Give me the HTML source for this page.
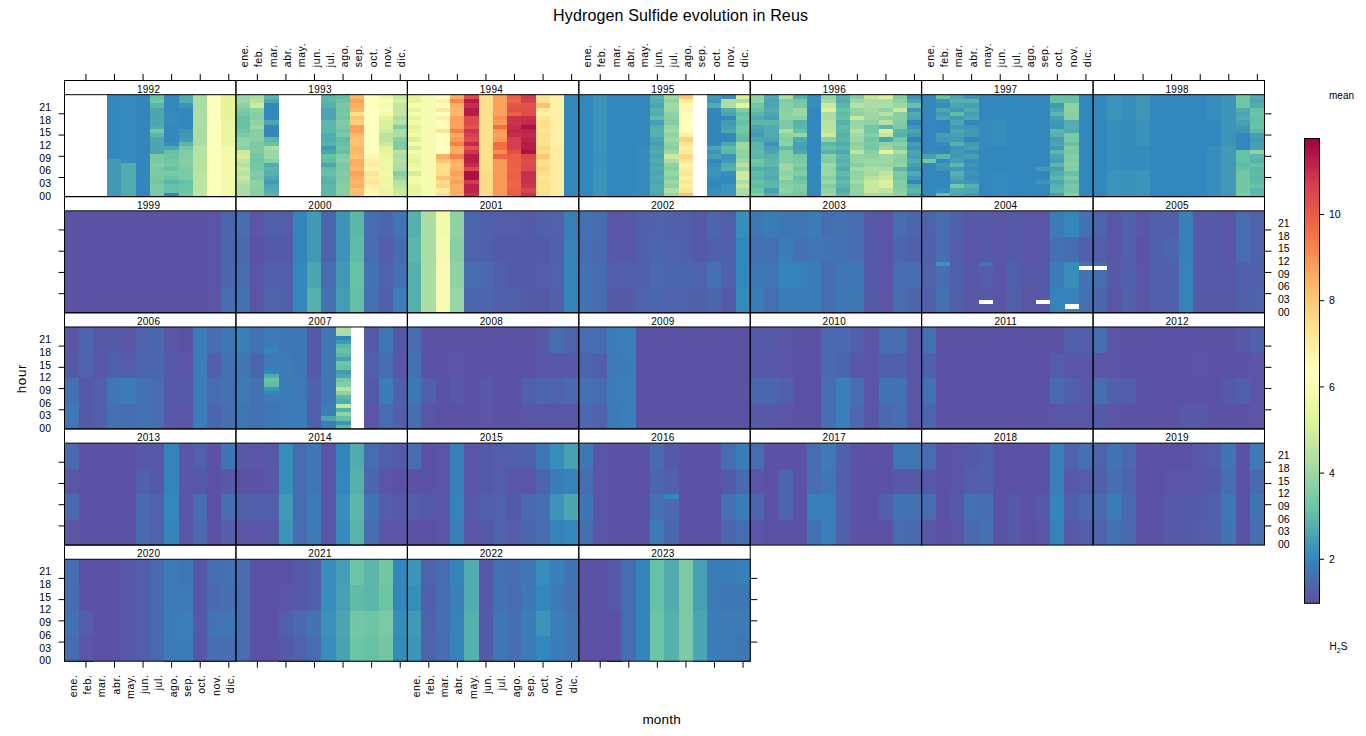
<!DOCTYPE html>
<html><head><meta charset="utf-8"><title>Hydrogen Sulfide evolution in Reus</title>
<style>html,body{margin:0;padding:0;background:#fff;width:1366px;height:736px;overflow:hidden}
svg text{font-family:"Liberation Sans",sans-serif}</style></head>
<body><svg font-family="Liberation Sans, sans-serif" width="1366" height="736" viewBox="0 0 1366 736" style="display:block">
<rect x="0" y="0" width="1366" height="736" fill="#ffffff"/>
<defs><linearGradient id="cb" x1="0" y1="1" x2="0" y2="0"><stop offset="0.00" stop-color="#5E4FA2"/><stop offset="0.10" stop-color="#3288BD"/><stop offset="0.20" stop-color="#66C2A5"/><stop offset="0.30" stop-color="#ABDDA4"/><stop offset="0.40" stop-color="#E6F598"/><stop offset="0.50" stop-color="#FFFFBF"/><stop offset="0.60" stop-color="#FEE08B"/><stop offset="0.70" stop-color="#FDAE61"/><stop offset="0.80" stop-color="#F46D43"/><stop offset="0.90" stop-color="#D53E4F"/><stop offset="1.00" stop-color="#9E0142"/></linearGradient></defs>
<g shape-rendering="crispEdges">
<rect x="107.1" y="158.2" width="14.9" height="38.7" fill="#4299b6"/>
<rect x="107.1" y="94.4" width="14.9" height="64.2" fill="#3288bd"/>
<rect x="121.3" y="162.4" width="14.9" height="34.5" fill="#51abaf"/>
<rect x="121.3" y="94.4" width="14.9" height="68.5" fill="#358bbc"/>
<rect x="135.6" y="94.4" width="14.9" height="102.4" fill="#3485bc"/>
<rect x="149.9" y="183.6" width="14.9" height="13.2" fill="#7bcaa5"/>
<rect x="149.9" y="179.4" width="14.9" height="4.7" fill="#74c7a5"/>
<rect x="149.9" y="166.7" width="14.9" height="13.2" fill="#7bcaa5"/>
<rect x="149.9" y="162.4" width="14.9" height="4.7" fill="#82cda5"/>
<rect x="149.9" y="153.9" width="14.9" height="9.0" fill="#7bcaa5"/>
<rect x="149.9" y="136.9" width="14.9" height="17.5" fill="#4ca5b1"/>
<rect x="149.9" y="132.7" width="14.9" height="4.7" fill="#5cb6aa"/>
<rect x="149.9" y="128.4" width="14.9" height="4.7" fill="#74c7a5"/>
<rect x="149.9" y="124.2" width="14.9" height="4.7" fill="#51abaf"/>
<rect x="149.9" y="107.2" width="14.9" height="17.5" fill="#4ca5b1"/>
<rect x="149.9" y="102.9" width="14.9" height="4.7" fill="#5cb6aa"/>
<rect x="149.9" y="98.7" width="14.9" height="4.7" fill="#74c7a5"/>
<rect x="149.9" y="94.4" width="14.9" height="4.7" fill="#66c2a5"/>
<rect x="164.2" y="192.1" width="14.9" height="4.7" fill="#3288bd"/>
<rect x="164.2" y="183.6" width="14.9" height="9.0" fill="#66c2a5"/>
<rect x="164.2" y="179.4" width="14.9" height="4.7" fill="#5cb6aa"/>
<rect x="164.2" y="175.2" width="14.9" height="4.7" fill="#6dc5a5"/>
<rect x="164.2" y="170.9" width="14.9" height="4.7" fill="#7bcaa5"/>
<rect x="164.2" y="166.7" width="14.9" height="4.7" fill="#66c2a5"/>
<rect x="164.2" y="158.2" width="14.9" height="9.0" fill="#74c7a5"/>
<rect x="164.2" y="153.9" width="14.9" height="4.7" fill="#6dc5a5"/>
<rect x="164.2" y="149.7" width="14.9" height="4.7" fill="#66c2a5"/>
<rect x="164.2" y="145.4" width="14.9" height="4.7" fill="#4ca5b1"/>
<rect x="164.2" y="141.2" width="14.9" height="4.7" fill="#378ebb"/>
<rect x="164.2" y="124.2" width="14.9" height="17.5" fill="#3288bd"/>
<rect x="164.2" y="111.4" width="14.9" height="13.2" fill="#358bbc"/>
<rect x="164.2" y="94.4" width="14.9" height="17.5" fill="#3288bd"/>
<rect x="178.5" y="192.1" width="14.9" height="4.7" fill="#74c7a5"/>
<rect x="178.5" y="183.6" width="14.9" height="9.0" fill="#6dc5a5"/>
<rect x="178.5" y="179.4" width="14.9" height="4.7" fill="#66c2a5"/>
<rect x="178.5" y="166.7" width="14.9" height="13.2" fill="#7bcaa5"/>
<rect x="178.5" y="162.4" width="14.9" height="4.7" fill="#82cda5"/>
<rect x="178.5" y="158.2" width="14.9" height="4.7" fill="#88d0a4"/>
<rect x="178.5" y="149.7" width="14.9" height="9.0" fill="#82cda5"/>
<rect x="178.5" y="145.4" width="14.9" height="4.7" fill="#74c7a5"/>
<rect x="178.5" y="141.2" width="14.9" height="4.7" fill="#5cb6aa"/>
<rect x="178.5" y="132.7" width="14.9" height="9.0" fill="#4299b6"/>
<rect x="178.5" y="128.4" width="14.9" height="4.7" fill="#3c94b8"/>
<rect x="178.5" y="107.2" width="14.9" height="21.7" fill="#3288bd"/>
<rect x="178.5" y="102.9" width="14.9" height="4.7" fill="#3c94b8"/>
<rect x="178.5" y="94.4" width="14.9" height="9.0" fill="#51abaf"/>
<rect x="192.8" y="170.9" width="14.9" height="26.0" fill="#bde4a0"/>
<rect x="192.8" y="145.4" width="14.9" height="26.0" fill="#b7e2a2"/>
<rect x="192.8" y="94.4" width="14.9" height="51.5" fill="#abdda4"/>
<rect x="207.1" y="94.4" width="14.9" height="102.4" fill="#fcfebb"/>
<rect x="221.3" y="145.4" width="14.9" height="51.5" fill="#f2faac"/>
<rect x="221.3" y="119.9" width="14.9" height="26.0" fill="#ebf7a0"/>
<rect x="221.3" y="94.4" width="14.9" height="26.0" fill="#e6f598"/>
<rect x="235.6" y="183.6" width="14.9" height="13.2" fill="#abdda4"/>
<rect x="235.6" y="179.4" width="14.9" height="4.7" fill="#b7e2a2"/>
<rect x="235.6" y="175.2" width="14.9" height="4.7" fill="#c8e99e"/>
<rect x="235.6" y="170.9" width="14.9" height="4.7" fill="#b7e2a2"/>
<rect x="235.6" y="166.7" width="14.9" height="4.7" fill="#c3e79f"/>
<rect x="235.6" y="162.4" width="14.9" height="4.7" fill="#b7e2a2"/>
<rect x="235.6" y="158.2" width="14.9" height="4.7" fill="#c3e79f"/>
<rect x="235.6" y="153.9" width="14.9" height="4.7" fill="#d4ee9c"/>
<rect x="235.6" y="149.7" width="14.9" height="4.7" fill="#ceeb9d"/>
<rect x="235.6" y="145.4" width="14.9" height="4.7" fill="#88d0a4"/>
<rect x="235.6" y="141.2" width="14.9" height="4.7" fill="#96d5a4"/>
<rect x="235.6" y="136.9" width="14.9" height="4.7" fill="#8fd2a4"/>
<rect x="235.6" y="132.7" width="14.9" height="4.7" fill="#7bcaa5"/>
<rect x="235.6" y="128.4" width="14.9" height="4.7" fill="#74c7a5"/>
<rect x="235.6" y="115.7" width="14.9" height="13.2" fill="#66c2a5"/>
<rect x="235.6" y="111.4" width="14.9" height="4.7" fill="#74c7a5"/>
<rect x="235.6" y="107.2" width="14.9" height="4.7" fill="#7bcaa5"/>
<rect x="235.6" y="102.9" width="14.9" height="4.7" fill="#8fd2a4"/>
<rect x="235.6" y="94.4" width="14.9" height="9.0" fill="#9dd8a4"/>
<rect x="249.9" y="187.9" width="14.9" height="9.0" fill="#88d0a4"/>
<rect x="249.9" y="179.4" width="14.9" height="9.0" fill="#8fd2a4"/>
<rect x="249.9" y="175.2" width="14.9" height="4.7" fill="#7bcaa5"/>
<rect x="249.9" y="170.9" width="14.9" height="4.7" fill="#82cda5"/>
<rect x="249.9" y="162.4" width="14.9" height="9.0" fill="#74c7a5"/>
<rect x="249.9" y="158.2" width="14.9" height="4.7" fill="#6dc5a5"/>
<rect x="249.9" y="153.9" width="14.9" height="4.7" fill="#74c7a5"/>
<rect x="249.9" y="141.2" width="14.9" height="13.2" fill="#7bcaa5"/>
<rect x="249.9" y="128.4" width="14.9" height="13.2" fill="#88d0a4"/>
<rect x="249.9" y="124.2" width="14.9" height="4.7" fill="#9dd8a4"/>
<rect x="249.9" y="119.9" width="14.9" height="4.7" fill="#8fd2a4"/>
<rect x="249.9" y="111.4" width="14.9" height="9.0" fill="#88d0a4"/>
<rect x="249.9" y="107.2" width="14.9" height="4.7" fill="#8fd2a4"/>
<rect x="249.9" y="102.9" width="14.9" height="4.7" fill="#ceeb9d"/>
<rect x="249.9" y="98.7" width="14.9" height="4.7" fill="#b7e2a2"/>
<rect x="249.9" y="94.4" width="14.9" height="4.7" fill="#abdda4"/>
<rect x="264.2" y="192.1" width="14.9" height="4.7" fill="#5cb6aa"/>
<rect x="264.2" y="187.9" width="14.9" height="4.7" fill="#51abaf"/>
<rect x="264.2" y="183.6" width="14.9" height="4.7" fill="#4ca5b1"/>
<rect x="264.2" y="179.4" width="14.9" height="4.7" fill="#4299b6"/>
<rect x="264.2" y="175.2" width="14.9" height="4.7" fill="#4ca5b1"/>
<rect x="264.2" y="170.9" width="14.9" height="4.7" fill="#56b1ac"/>
<rect x="264.2" y="166.7" width="14.9" height="4.7" fill="#5cb6aa"/>
<rect x="264.2" y="162.4" width="14.9" height="4.7" fill="#51abaf"/>
<rect x="264.2" y="158.2" width="14.9" height="4.7" fill="#88d0a4"/>
<rect x="264.2" y="149.7" width="14.9" height="9.0" fill="#9dd8a4"/>
<rect x="264.2" y="145.4" width="14.9" height="4.7" fill="#abdda4"/>
<rect x="264.2" y="141.2" width="14.9" height="4.7" fill="#66c2a5"/>
<rect x="264.2" y="136.9" width="14.9" height="4.7" fill="#5cb6aa"/>
<rect x="264.2" y="132.7" width="14.9" height="4.7" fill="#3288bd"/>
<rect x="264.2" y="128.4" width="14.9" height="4.7" fill="#3485bc"/>
<rect x="264.2" y="124.2" width="14.9" height="4.7" fill="#3288bd"/>
<rect x="264.2" y="119.9" width="14.9" height="4.7" fill="#4ca5b1"/>
<rect x="264.2" y="102.9" width="14.9" height="17.5" fill="#3288bd"/>
<rect x="264.2" y="98.7" width="14.9" height="4.7" fill="#4ca5b1"/>
<rect x="264.2" y="94.4" width="14.9" height="4.7" fill="#5cb6aa"/>
<rect x="321.3" y="183.6" width="14.9" height="13.2" fill="#5cb6aa"/>
<rect x="321.3" y="179.4" width="14.9" height="4.7" fill="#56b1ac"/>
<rect x="321.3" y="175.2" width="14.9" height="4.7" fill="#5cb6aa"/>
<rect x="321.3" y="170.9" width="14.9" height="4.7" fill="#66c2a5"/>
<rect x="321.3" y="166.7" width="14.9" height="4.7" fill="#61bca7"/>
<rect x="321.3" y="162.4" width="14.9" height="4.7" fill="#4ca5b1"/>
<rect x="321.3" y="158.2" width="14.9" height="4.7" fill="#61bca7"/>
<rect x="321.3" y="153.9" width="14.9" height="4.7" fill="#66c2a5"/>
<rect x="321.3" y="149.7" width="14.9" height="4.7" fill="#4ca5b1"/>
<rect x="321.3" y="145.4" width="14.9" height="4.7" fill="#4299b6"/>
<rect x="321.3" y="141.2" width="14.9" height="4.7" fill="#56b1ac"/>
<rect x="321.3" y="132.7" width="14.9" height="9.0" fill="#51abaf"/>
<rect x="321.3" y="119.9" width="14.9" height="13.2" fill="#5cb6aa"/>
<rect x="321.3" y="107.2" width="14.9" height="13.2" fill="#4ca5b1"/>
<rect x="321.3" y="102.9" width="14.9" height="4.7" fill="#56b1ac"/>
<rect x="321.3" y="94.4" width="14.9" height="9.0" fill="#5cb6aa"/>
<rect x="335.6" y="192.1" width="14.9" height="4.7" fill="#82cda5"/>
<rect x="335.6" y="183.6" width="14.9" height="9.0" fill="#88d0a4"/>
<rect x="335.6" y="179.4" width="14.9" height="4.7" fill="#82cda5"/>
<rect x="335.6" y="175.2" width="14.9" height="4.7" fill="#7bcaa5"/>
<rect x="335.6" y="170.9" width="14.9" height="4.7" fill="#82cda5"/>
<rect x="335.6" y="162.4" width="14.9" height="9.0" fill="#7bcaa5"/>
<rect x="335.6" y="158.2" width="14.9" height="4.7" fill="#88d0a4"/>
<rect x="335.6" y="153.9" width="14.9" height="4.7" fill="#82cda5"/>
<rect x="335.6" y="149.7" width="14.9" height="4.7" fill="#66c2a5"/>
<rect x="335.6" y="145.4" width="14.9" height="4.7" fill="#6dc5a5"/>
<rect x="335.6" y="141.2" width="14.9" height="4.7" fill="#66c2a5"/>
<rect x="335.6" y="136.9" width="14.9" height="4.7" fill="#61bca7"/>
<rect x="335.6" y="132.7" width="14.9" height="4.7" fill="#7bcaa5"/>
<rect x="335.6" y="128.4" width="14.9" height="4.7" fill="#6dc5a5"/>
<rect x="335.6" y="124.2" width="14.9" height="4.7" fill="#7bcaa5"/>
<rect x="335.6" y="119.9" width="14.9" height="4.7" fill="#82cda5"/>
<rect x="335.6" y="115.7" width="14.9" height="4.7" fill="#74c7a5"/>
<rect x="335.6" y="111.4" width="14.9" height="4.7" fill="#7bcaa5"/>
<rect x="335.6" y="107.2" width="14.9" height="4.7" fill="#74c7a5"/>
<rect x="335.6" y="102.9" width="14.9" height="4.7" fill="#7bcaa5"/>
<rect x="335.6" y="98.7" width="14.9" height="4.7" fill="#6dc5a5"/>
<rect x="335.6" y="94.4" width="14.9" height="4.7" fill="#66c2a5"/>
<rect x="349.9" y="192.1" width="14.9" height="4.7" fill="#fdb869"/>
<rect x="349.9" y="187.9" width="14.9" height="4.7" fill="#fdc272"/>
<rect x="349.9" y="183.6" width="14.9" height="4.7" fill="#fdae61"/>
<rect x="349.9" y="179.4" width="14.9" height="4.7" fill="#fdb869"/>
<rect x="349.9" y="175.2" width="14.9" height="4.7" fill="#fdae61"/>
<rect x="349.9" y="170.9" width="14.9" height="4.7" fill="#fba15b"/>
<rect x="349.9" y="166.7" width="14.9" height="4.7" fill="#fdb869"/>
<rect x="349.9" y="158.2" width="14.9" height="9.0" fill="#fdae61"/>
<rect x="349.9" y="153.9" width="14.9" height="4.7" fill="#fdc272"/>
<rect x="349.9" y="145.4" width="14.9" height="9.0" fill="#fdb869"/>
<rect x="349.9" y="136.9" width="14.9" height="9.0" fill="#fdc272"/>
<rect x="349.9" y="132.7" width="14.9" height="4.7" fill="#fdb869"/>
<rect x="349.9" y="124.2" width="14.9" height="9.0" fill="#fba15b"/>
<rect x="349.9" y="119.9" width="14.9" height="4.7" fill="#fed17e"/>
<rect x="349.9" y="115.7" width="14.9" height="4.7" fill="#fec776"/>
<rect x="349.9" y="111.4" width="14.9" height="4.7" fill="#fee08b"/>
<rect x="349.9" y="107.2" width="14.9" height="4.7" fill="#fdb869"/>
<rect x="349.9" y="102.9" width="14.9" height="4.7" fill="#fdae61"/>
<rect x="349.9" y="98.7" width="14.9" height="4.7" fill="#fba15b"/>
<rect x="349.9" y="94.4" width="14.9" height="4.7" fill="#fdb869"/>
<rect x="364.2" y="192.1" width="14.9" height="4.7" fill="#fff9b5"/>
<rect x="364.2" y="187.9" width="14.9" height="4.7" fill="#fff6af"/>
<rect x="364.2" y="183.6" width="14.9" height="4.7" fill="#fef0a5"/>
<rect x="364.2" y="179.4" width="14.9" height="4.7" fill="#fee695"/>
<rect x="364.2" y="175.2" width="14.9" height="4.7" fill="#feeca0"/>
<rect x="364.2" y="170.9" width="14.9" height="4.7" fill="#fee695"/>
<rect x="364.2" y="166.7" width="14.9" height="4.7" fill="#fff6af"/>
<rect x="364.2" y="162.4" width="14.9" height="4.7" fill="#feeca0"/>
<rect x="364.2" y="158.2" width="14.9" height="4.7" fill="#fef0a5"/>
<rect x="364.2" y="153.9" width="14.9" height="4.7" fill="#fff6af"/>
<rect x="364.2" y="94.4" width="14.9" height="60.0" fill="#ffffbf"/>
<rect x="378.5" y="187.9" width="14.9" height="9.0" fill="#ebf7a0"/>
<rect x="378.5" y="175.2" width="14.9" height="13.2" fill="#eef8a4"/>
<rect x="378.5" y="170.9" width="14.9" height="4.7" fill="#f2faac"/>
<rect x="378.5" y="166.7" width="14.9" height="4.7" fill="#eef8a4"/>
<rect x="378.5" y="162.4" width="14.9" height="4.7" fill="#f0f9a8"/>
<rect x="378.5" y="158.2" width="14.9" height="4.7" fill="#eef8a4"/>
<rect x="378.5" y="153.9" width="14.9" height="4.7" fill="#ebf7a0"/>
<rect x="378.5" y="145.4" width="14.9" height="9.0" fill="#e6f598"/>
<rect x="378.5" y="141.2" width="14.9" height="4.7" fill="#c8e99e"/>
<rect x="378.5" y="136.9" width="14.9" height="4.7" fill="#bde4a0"/>
<rect x="378.5" y="132.7" width="14.9" height="4.7" fill="#b7e2a2"/>
<rect x="378.5" y="128.4" width="14.9" height="4.7" fill="#ceeb9d"/>
<rect x="378.5" y="119.9" width="14.9" height="9.0" fill="#daf09a"/>
<rect x="378.5" y="115.7" width="14.9" height="4.7" fill="#e6f598"/>
<rect x="378.5" y="111.4" width="14.9" height="4.7" fill="#f5fbaf"/>
<rect x="378.5" y="107.2" width="14.9" height="4.7" fill="#fafdb7"/>
<rect x="378.5" y="102.9" width="14.9" height="4.7" fill="#f5fbaf"/>
<rect x="378.5" y="98.7" width="14.9" height="4.7" fill="#fafdb7"/>
<rect x="378.5" y="94.4" width="14.9" height="4.7" fill="#f0f9a8"/>
<rect x="392.8" y="187.9" width="14.9" height="9.0" fill="#c8e99e"/>
<rect x="392.8" y="183.6" width="14.9" height="4.7" fill="#bde4a0"/>
<rect x="392.8" y="179.4" width="14.9" height="4.7" fill="#b7e2a2"/>
<rect x="392.8" y="175.2" width="14.9" height="4.7" fill="#9dd8a4"/>
<rect x="392.8" y="170.9" width="14.9" height="4.7" fill="#88d0a4"/>
<rect x="392.8" y="162.4" width="14.9" height="9.0" fill="#abdda4"/>
<rect x="392.8" y="158.2" width="14.9" height="4.7" fill="#b7e2a2"/>
<rect x="392.8" y="153.9" width="14.9" height="4.7" fill="#abdda4"/>
<rect x="392.8" y="149.7" width="14.9" height="4.7" fill="#b7e2a2"/>
<rect x="392.8" y="145.4" width="14.9" height="4.7" fill="#82cda5"/>
<rect x="392.8" y="141.2" width="14.9" height="4.7" fill="#7bcaa5"/>
<rect x="392.8" y="136.9" width="14.9" height="4.7" fill="#88d0a4"/>
<rect x="392.8" y="128.4" width="14.9" height="9.0" fill="#abdda4"/>
<rect x="392.8" y="124.2" width="14.9" height="4.7" fill="#82cda5"/>
<rect x="392.8" y="119.9" width="14.9" height="4.7" fill="#b7e2a2"/>
<rect x="392.8" y="115.7" width="14.9" height="4.7" fill="#abdda4"/>
<rect x="392.8" y="102.9" width="14.9" height="13.2" fill="#c3e79f"/>
<rect x="392.8" y="98.7" width="14.9" height="4.7" fill="#daf09a"/>
<rect x="392.8" y="94.4" width="14.9" height="4.7" fill="#c8e99e"/>
<rect x="407.1" y="192.1" width="14.9" height="4.7" fill="#ebf7a0"/>
<rect x="407.1" y="187.9" width="14.9" height="4.7" fill="#e6f598"/>
<rect x="407.1" y="183.6" width="14.9" height="4.7" fill="#ebf7a0"/>
<rect x="407.1" y="175.2" width="14.9" height="9.0" fill="#f2faac"/>
<rect x="407.1" y="170.9" width="14.9" height="4.7" fill="#d4ee9c"/>
<rect x="407.1" y="166.7" width="14.9" height="4.7" fill="#f2faac"/>
<rect x="407.1" y="162.4" width="14.9" height="4.7" fill="#ebf7a0"/>
<rect x="407.1" y="158.2" width="14.9" height="4.7" fill="#e6f598"/>
<rect x="407.1" y="153.9" width="14.9" height="4.7" fill="#ebf7a0"/>
<rect x="407.1" y="149.7" width="14.9" height="4.7" fill="#f2faac"/>
<rect x="407.1" y="145.4" width="14.9" height="4.7" fill="#d4ee9c"/>
<rect x="407.1" y="141.2" width="14.9" height="4.7" fill="#f5fbaf"/>
<rect x="407.1" y="136.9" width="14.9" height="4.7" fill="#daf09a"/>
<rect x="407.1" y="132.7" width="14.9" height="4.7" fill="#f2faac"/>
<rect x="407.1" y="128.4" width="14.9" height="4.7" fill="#ebf7a0"/>
<rect x="407.1" y="124.2" width="14.9" height="4.7" fill="#e6f598"/>
<rect x="407.1" y="119.9" width="14.9" height="4.7" fill="#f2faac"/>
<rect x="407.1" y="115.7" width="14.9" height="4.7" fill="#e6f598"/>
<rect x="407.1" y="111.4" width="14.9" height="4.7" fill="#f8fcb3"/>
<rect x="407.1" y="107.2" width="14.9" height="4.7" fill="#e6f598"/>
<rect x="407.1" y="102.9" width="14.9" height="4.7" fill="#f8fcb3"/>
<rect x="407.1" y="94.4" width="14.9" height="9.0" fill="#e6f598"/>
<rect x="421.3" y="94.4" width="14.9" height="102.4" fill="#f5fbaf"/>
<rect x="435.6" y="192.1" width="14.9" height="4.7" fill="#fee08b"/>
<rect x="435.6" y="187.9" width="14.9" height="4.7" fill="#feeca0"/>
<rect x="435.6" y="183.6" width="14.9" height="4.7" fill="#fed683"/>
<rect x="435.6" y="179.4" width="14.9" height="4.7" fill="#fee08b"/>
<rect x="435.6" y="175.2" width="14.9" height="4.7" fill="#fdc272"/>
<rect x="435.6" y="162.4" width="14.9" height="13.2" fill="#fee08b"/>
<rect x="435.6" y="158.2" width="14.9" height="4.7" fill="#fec776"/>
<rect x="435.6" y="153.9" width="14.9" height="4.7" fill="#fdae61"/>
<rect x="435.6" y="132.7" width="14.9" height="21.7" fill="#ffffbf"/>
<rect x="435.6" y="128.4" width="14.9" height="4.7" fill="#fee695"/>
<rect x="435.6" y="124.2" width="14.9" height="4.7" fill="#fafdb7"/>
<rect x="435.6" y="119.9" width="14.9" height="4.7" fill="#ffffbf"/>
<rect x="435.6" y="115.7" width="14.9" height="4.7" fill="#fef0a5"/>
<rect x="435.6" y="111.4" width="14.9" height="4.7" fill="#ffffbf"/>
<rect x="435.6" y="107.2" width="14.9" height="4.7" fill="#fee99b"/>
<rect x="435.6" y="102.9" width="14.9" height="4.7" fill="#ffffbf"/>
<rect x="435.6" y="98.7" width="14.9" height="4.7" fill="#fef0a5"/>
<rect x="435.6" y="94.4" width="14.9" height="4.7" fill="#ffffbf"/>
<rect x="449.9" y="183.6" width="14.9" height="13.2" fill="#fdae61"/>
<rect x="449.9" y="179.4" width="14.9" height="4.7" fill="#fba15b"/>
<rect x="449.9" y="175.2" width="14.9" height="4.7" fill="#fdae61"/>
<rect x="449.9" y="170.9" width="14.9" height="4.7" fill="#fba15b"/>
<rect x="449.9" y="166.7" width="14.9" height="4.7" fill="#fdae61"/>
<rect x="449.9" y="162.4" width="14.9" height="4.7" fill="#fdb869"/>
<rect x="449.9" y="158.2" width="14.9" height="4.7" fill="#fdae61"/>
<rect x="449.9" y="153.9" width="14.9" height="4.7" fill="#f7804c"/>
<rect x="449.9" y="145.4" width="14.9" height="9.0" fill="#fdae61"/>
<rect x="449.9" y="141.2" width="14.9" height="4.7" fill="#f7804c"/>
<rect x="449.9" y="136.9" width="14.9" height="4.7" fill="#fa9a58"/>
<rect x="449.9" y="132.7" width="14.9" height="4.7" fill="#fdae61"/>
<rect x="449.9" y="128.4" width="14.9" height="4.7" fill="#f7804c"/>
<rect x="449.9" y="115.7" width="14.9" height="13.2" fill="#fba15b"/>
<rect x="449.9" y="107.2" width="14.9" height="9.0" fill="#fdb869"/>
<rect x="449.9" y="102.9" width="14.9" height="4.7" fill="#fdae61"/>
<rect x="449.9" y="98.7" width="14.9" height="4.7" fill="#f8874f"/>
<rect x="449.9" y="94.4" width="14.9" height="4.7" fill="#fdae61"/>
<rect x="464.2" y="192.1" width="14.9" height="4.7" fill="#c72f4c"/>
<rect x="464.2" y="183.6" width="14.9" height="9.0" fill="#bc2349"/>
<rect x="464.2" y="179.4" width="14.9" height="4.7" fill="#d23b4e"/>
<rect x="464.2" y="170.9" width="14.9" height="9.0" fill="#ac1045"/>
<rect x="464.2" y="166.7" width="14.9" height="4.7" fill="#dd4a4c"/>
<rect x="464.2" y="162.4" width="14.9" height="4.7" fill="#c2294a"/>
<rect x="464.2" y="153.9" width="14.9" height="9.0" fill="#b71c48"/>
<rect x="464.2" y="149.7" width="14.9" height="4.7" fill="#cd354d"/>
<rect x="464.2" y="145.4" width="14.9" height="4.7" fill="#e3534a"/>
<rect x="464.2" y="141.2" width="14.9" height="4.7" fill="#c2294a"/>
<rect x="464.2" y="136.9" width="14.9" height="4.7" fill="#dd4a4c"/>
<rect x="464.2" y="132.7" width="14.9" height="4.7" fill="#d7404e"/>
<rect x="464.2" y="128.4" width="14.9" height="4.7" fill="#cd354d"/>
<rect x="464.2" y="124.2" width="14.9" height="4.7" fill="#e3534a"/>
<rect x="464.2" y="115.7" width="14.9" height="9.0" fill="#dd4a4c"/>
<rect x="464.2" y="107.2" width="14.9" height="9.0" fill="#b71c48"/>
<rect x="464.2" y="102.9" width="14.9" height="4.7" fill="#c72f4c"/>
<rect x="464.2" y="98.7" width="14.9" height="4.7" fill="#b71c48"/>
<rect x="464.2" y="94.4" width="14.9" height="4.7" fill="#dd4a4c"/>
<rect x="478.5" y="170.9" width="14.9" height="26.0" fill="#fedb87"/>
<rect x="478.5" y="94.4" width="14.9" height="77.0" fill="#fee08b"/>
<rect x="492.8" y="158.2" width="14.9" height="38.7" fill="#fa9a58"/>
<rect x="492.8" y="153.9" width="14.9" height="4.7" fill="#ee6445"/>
<rect x="492.8" y="149.7" width="14.9" height="4.7" fill="#f88e52"/>
<rect x="492.8" y="141.2" width="14.9" height="9.0" fill="#f46d43"/>
<rect x="492.8" y="136.9" width="14.9" height="4.7" fill="#fa9a58"/>
<rect x="492.8" y="132.7" width="14.9" height="4.7" fill="#fba15b"/>
<rect x="492.8" y="128.4" width="14.9" height="4.7" fill="#fa9a58"/>
<rect x="492.8" y="124.2" width="14.9" height="4.7" fill="#f46d43"/>
<rect x="492.8" y="119.9" width="14.9" height="4.7" fill="#fa9a58"/>
<rect x="492.8" y="115.7" width="14.9" height="4.7" fill="#f88e52"/>
<rect x="492.8" y="94.4" width="14.9" height="21.7" fill="#fba15b"/>
<rect x="507.1" y="187.9" width="14.9" height="9.0" fill="#eb5f47"/>
<rect x="507.1" y="179.4" width="14.9" height="9.0" fill="#ee6445"/>
<rect x="507.1" y="170.9" width="14.9" height="9.0" fill="#eb5f47"/>
<rect x="507.1" y="166.7" width="14.9" height="4.7" fill="#ee6445"/>
<rect x="507.1" y="153.9" width="14.9" height="13.2" fill="#eb5f47"/>
<rect x="507.1" y="149.7" width="14.9" height="4.7" fill="#e1514a"/>
<rect x="507.1" y="136.9" width="14.9" height="13.2" fill="#d53e4f"/>
<rect x="507.1" y="132.7" width="14.9" height="4.7" fill="#c42c4b"/>
<rect x="507.1" y="128.4" width="14.9" height="4.7" fill="#bf264a"/>
<rect x="507.1" y="124.2" width="14.9" height="4.7" fill="#c42c4b"/>
<rect x="507.1" y="115.7" width="14.9" height="9.0" fill="#ca324c"/>
<rect x="507.1" y="111.4" width="14.9" height="4.7" fill="#eb5f47"/>
<rect x="507.1" y="107.2" width="14.9" height="4.7" fill="#e1514a"/>
<rect x="507.1" y="102.9" width="14.9" height="4.7" fill="#e45649"/>
<rect x="507.1" y="98.7" width="14.9" height="4.7" fill="#ee6445"/>
<rect x="507.1" y="94.4" width="14.9" height="4.7" fill="#eb5f47"/>
<rect x="521.3" y="192.1" width="14.9" height="4.7" fill="#cd354d"/>
<rect x="521.3" y="187.9" width="14.9" height="4.7" fill="#da454d"/>
<rect x="521.3" y="183.6" width="14.9" height="4.7" fill="#cd354d"/>
<rect x="521.3" y="170.9" width="14.9" height="13.2" fill="#c72f4c"/>
<rect x="521.3" y="162.4" width="14.9" height="9.0" fill="#dd4a4c"/>
<rect x="521.3" y="158.2" width="14.9" height="4.7" fill="#e04e4b"/>
<rect x="521.3" y="153.9" width="14.9" height="4.7" fill="#da454d"/>
<rect x="521.3" y="149.7" width="14.9" height="4.7" fill="#ac1045"/>
<rect x="521.3" y="141.2" width="14.9" height="9.0" fill="#b71c48"/>
<rect x="521.3" y="136.9" width="14.9" height="4.7" fill="#bc2349"/>
<rect x="521.3" y="132.7" width="14.9" height="4.7" fill="#c2294a"/>
<rect x="521.3" y="128.4" width="14.9" height="4.7" fill="#bc2349"/>
<rect x="521.3" y="124.2" width="14.9" height="4.7" fill="#ac1045"/>
<rect x="521.3" y="119.9" width="14.9" height="4.7" fill="#c2294a"/>
<rect x="521.3" y="115.7" width="14.9" height="4.7" fill="#c72f4c"/>
<rect x="521.3" y="107.2" width="14.9" height="9.0" fill="#e04e4b"/>
<rect x="521.3" y="102.9" width="14.9" height="4.7" fill="#e3534a"/>
<rect x="521.3" y="98.7" width="14.9" height="4.7" fill="#d7404e"/>
<rect x="521.3" y="94.4" width="14.9" height="4.7" fill="#d23b4e"/>
<rect x="535.6" y="179.4" width="14.9" height="17.5" fill="#fee08b"/>
<rect x="535.6" y="175.2" width="14.9" height="4.7" fill="#fee695"/>
<rect x="535.6" y="170.9" width="14.9" height="4.7" fill="#fee08b"/>
<rect x="535.6" y="166.7" width="14.9" height="4.7" fill="#fed683"/>
<rect x="535.6" y="158.2" width="14.9" height="9.0" fill="#fee08b"/>
<rect x="535.6" y="153.9" width="14.9" height="4.7" fill="#fec776"/>
<rect x="535.6" y="149.7" width="14.9" height="4.7" fill="#fee08b"/>
<rect x="535.6" y="145.4" width="14.9" height="4.7" fill="#fed683"/>
<rect x="535.6" y="132.7" width="14.9" height="13.2" fill="#fee08b"/>
<rect x="535.6" y="128.4" width="14.9" height="4.7" fill="#fee695"/>
<rect x="535.6" y="119.9" width="14.9" height="9.0" fill="#fee08b"/>
<rect x="535.6" y="115.7" width="14.9" height="4.7" fill="#fee695"/>
<rect x="535.6" y="111.4" width="14.9" height="4.7" fill="#fef0a5"/>
<rect x="535.6" y="107.2" width="14.9" height="4.7" fill="#fee695"/>
<rect x="535.6" y="102.9" width="14.9" height="4.7" fill="#fdc272"/>
<rect x="535.6" y="98.7" width="14.9" height="4.7" fill="#fee390"/>
<rect x="535.6" y="94.4" width="14.9" height="4.7" fill="#fee695"/>
<rect x="549.9" y="145.4" width="14.9" height="51.5" fill="#feeca0"/>
<rect x="549.9" y="94.4" width="14.9" height="51.5" fill="#fef0a5"/>
<rect x="564.2" y="94.4" width="14.9" height="102.4" fill="#3288bd"/>
<rect x="578.5" y="94.4" width="14.9" height="102.4" fill="#3288bd"/>
<rect x="592.8" y="170.9" width="14.9" height="26.0" fill="#3c94b8"/>
<rect x="592.8" y="145.4" width="14.9" height="26.0" fill="#3a91b9"/>
<rect x="592.8" y="94.4" width="14.9" height="51.5" fill="#3c94b8"/>
<rect x="607.1" y="94.4" width="14.9" height="102.4" fill="#3288bd"/>
<rect x="621.3" y="94.4" width="14.9" height="102.4" fill="#3288bd"/>
<rect x="635.6" y="145.4" width="14.9" height="51.5" fill="#358bbc"/>
<rect x="635.6" y="94.4" width="14.9" height="51.5" fill="#3288bd"/>
<rect x="649.9" y="192.1" width="14.9" height="4.7" fill="#4ca5b1"/>
<rect x="649.9" y="183.6" width="14.9" height="9.0" fill="#51abaf"/>
<rect x="649.9" y="179.4" width="14.9" height="4.7" fill="#4ca5b1"/>
<rect x="649.9" y="175.2" width="14.9" height="4.7" fill="#51abaf"/>
<rect x="649.9" y="170.9" width="14.9" height="4.7" fill="#4ca5b1"/>
<rect x="649.9" y="166.7" width="14.9" height="4.7" fill="#51abaf"/>
<rect x="649.9" y="162.4" width="14.9" height="4.7" fill="#4ca5b1"/>
<rect x="649.9" y="158.2" width="14.9" height="4.7" fill="#51abaf"/>
<rect x="649.9" y="153.9" width="14.9" height="4.7" fill="#4ca5b1"/>
<rect x="649.9" y="149.7" width="14.9" height="4.7" fill="#51abaf"/>
<rect x="649.9" y="145.4" width="14.9" height="4.7" fill="#4ca5b1"/>
<rect x="649.9" y="141.2" width="14.9" height="4.7" fill="#479fb3"/>
<rect x="649.9" y="136.9" width="14.9" height="4.7" fill="#4ca5b1"/>
<rect x="649.9" y="128.4" width="14.9" height="9.0" fill="#56b1ac"/>
<rect x="649.9" y="124.2" width="14.9" height="4.7" fill="#51abaf"/>
<rect x="649.9" y="119.9" width="14.9" height="4.7" fill="#479fb3"/>
<rect x="649.9" y="115.7" width="14.9" height="4.7" fill="#61bca7"/>
<rect x="649.9" y="111.4" width="14.9" height="4.7" fill="#51abaf"/>
<rect x="649.9" y="107.2" width="14.9" height="4.7" fill="#56b1ac"/>
<rect x="649.9" y="102.9" width="14.9" height="4.7" fill="#4ca5b1"/>
<rect x="649.9" y="98.7" width="14.9" height="4.7" fill="#51abaf"/>
<rect x="649.9" y="94.4" width="14.9" height="4.7" fill="#56b1ac"/>
<rect x="664.2" y="192.1" width="14.9" height="4.7" fill="#9dd8a4"/>
<rect x="664.2" y="187.9" width="14.9" height="4.7" fill="#abdda4"/>
<rect x="664.2" y="183.6" width="14.9" height="4.7" fill="#8fd2a4"/>
<rect x="664.2" y="179.4" width="14.9" height="4.7" fill="#9dd8a4"/>
<rect x="664.2" y="175.2" width="14.9" height="4.7" fill="#88d0a4"/>
<rect x="664.2" y="170.9" width="14.9" height="4.7" fill="#96d5a4"/>
<rect x="664.2" y="166.7" width="14.9" height="4.7" fill="#88d0a4"/>
<rect x="664.2" y="162.4" width="14.9" height="4.7" fill="#8fd2a4"/>
<rect x="664.2" y="158.2" width="14.9" height="4.7" fill="#abdda4"/>
<rect x="664.2" y="153.9" width="14.9" height="4.7" fill="#ceeb9d"/>
<rect x="664.2" y="149.7" width="14.9" height="4.7" fill="#9dd8a4"/>
<rect x="664.2" y="145.4" width="14.9" height="4.7" fill="#88d0a4"/>
<rect x="664.2" y="141.2" width="14.9" height="4.7" fill="#8fd2a4"/>
<rect x="664.2" y="136.9" width="14.9" height="4.7" fill="#9dd8a4"/>
<rect x="664.2" y="132.7" width="14.9" height="4.7" fill="#8fd2a4"/>
<rect x="664.2" y="128.4" width="14.9" height="4.7" fill="#9dd8a4"/>
<rect x="664.2" y="124.2" width="14.9" height="4.7" fill="#96d5a4"/>
<rect x="664.2" y="119.9" width="14.9" height="4.7" fill="#82cda5"/>
<rect x="664.2" y="115.7" width="14.9" height="4.7" fill="#88d0a4"/>
<rect x="664.2" y="111.4" width="14.9" height="4.7" fill="#8fd2a4"/>
<rect x="664.2" y="107.2" width="14.9" height="4.7" fill="#9dd8a4"/>
<rect x="664.2" y="102.9" width="14.9" height="4.7" fill="#a4daa4"/>
<rect x="664.2" y="98.7" width="14.9" height="4.7" fill="#8fd2a4"/>
<rect x="664.2" y="94.4" width="14.9" height="4.7" fill="#9dd8a4"/>
<rect x="678.5" y="192.1" width="14.9" height="4.7" fill="#fdc272"/>
<rect x="678.5" y="187.9" width="14.9" height="4.7" fill="#fee695"/>
<rect x="678.5" y="183.6" width="14.9" height="4.7" fill="#fef0a5"/>
<rect x="678.5" y="179.4" width="14.9" height="4.7" fill="#fee695"/>
<rect x="678.5" y="175.2" width="14.9" height="4.7" fill="#fef0a5"/>
<rect x="678.5" y="170.9" width="14.9" height="4.7" fill="#fee695"/>
<rect x="678.5" y="166.7" width="14.9" height="4.7" fill="#feeca0"/>
<rect x="678.5" y="162.4" width="14.9" height="4.7" fill="#fff6af"/>
<rect x="678.5" y="158.2" width="14.9" height="4.7" fill="#fee390"/>
<rect x="678.5" y="153.9" width="14.9" height="4.7" fill="#fed683"/>
<rect x="678.5" y="149.7" width="14.9" height="4.7" fill="#feeca0"/>
<rect x="678.5" y="145.4" width="14.9" height="4.7" fill="#fef0a5"/>
<rect x="678.5" y="141.2" width="14.9" height="4.7" fill="#fee695"/>
<rect x="678.5" y="136.9" width="14.9" height="4.7" fill="#fed17e"/>
<rect x="678.5" y="132.7" width="14.9" height="4.7" fill="#fef0a5"/>
<rect x="678.5" y="128.4" width="14.9" height="4.7" fill="#ffffbf"/>
<rect x="678.5" y="111.4" width="14.9" height="17.5" fill="#fcfebb"/>
<rect x="678.5" y="102.9" width="14.9" height="9.0" fill="#fff6af"/>
<rect x="678.5" y="98.7" width="14.9" height="4.7" fill="#feeca0"/>
<rect x="678.5" y="94.4" width="14.9" height="4.7" fill="#fec776"/>
<rect x="707.1" y="187.9" width="14.9" height="9.0" fill="#378ebb"/>
<rect x="707.1" y="179.4" width="14.9" height="9.0" fill="#3288bd"/>
<rect x="707.1" y="175.2" width="14.9" height="4.7" fill="#378ebb"/>
<rect x="707.1" y="166.7" width="14.9" height="9.0" fill="#3c94b8"/>
<rect x="707.1" y="162.4" width="14.9" height="4.7" fill="#378ebb"/>
<rect x="707.1" y="158.2" width="14.9" height="4.7" fill="#3288bd"/>
<rect x="707.1" y="153.9" width="14.9" height="4.7" fill="#479fb3"/>
<rect x="707.1" y="149.7" width="14.9" height="4.7" fill="#3c94b8"/>
<rect x="707.1" y="145.4" width="14.9" height="4.7" fill="#4ca5b1"/>
<rect x="707.1" y="141.2" width="14.9" height="4.7" fill="#3288bd"/>
<rect x="707.1" y="111.4" width="14.9" height="30.2" fill="#3485bc"/>
<rect x="707.1" y="107.2" width="14.9" height="4.7" fill="#3288bd"/>
<rect x="707.1" y="102.9" width="14.9" height="4.7" fill="#51abaf"/>
<rect x="707.1" y="98.7" width="14.9" height="4.7" fill="#3c94b8"/>
<rect x="707.1" y="94.4" width="14.9" height="4.7" fill="#4299b6"/>
<rect x="721.3" y="183.6" width="14.9" height="13.2" fill="#3c94b8"/>
<rect x="721.3" y="175.2" width="14.9" height="9.0" fill="#3288bd"/>
<rect x="721.3" y="170.9" width="14.9" height="4.7" fill="#378ebb"/>
<rect x="721.3" y="166.7" width="14.9" height="4.7" fill="#56b1ac"/>
<rect x="721.3" y="162.4" width="14.9" height="4.7" fill="#51abaf"/>
<rect x="721.3" y="158.2" width="14.9" height="4.7" fill="#4299b6"/>
<rect x="721.3" y="153.9" width="14.9" height="4.7" fill="#3c94b8"/>
<rect x="721.3" y="149.7" width="14.9" height="4.7" fill="#5cb6aa"/>
<rect x="721.3" y="145.4" width="14.9" height="4.7" fill="#61bca7"/>
<rect x="721.3" y="141.2" width="14.9" height="4.7" fill="#4ca5b1"/>
<rect x="721.3" y="132.7" width="14.9" height="9.0" fill="#3288bd"/>
<rect x="721.3" y="128.4" width="14.9" height="4.7" fill="#4ca5b1"/>
<rect x="721.3" y="124.2" width="14.9" height="4.7" fill="#479fb3"/>
<rect x="721.3" y="119.9" width="14.9" height="4.7" fill="#4299b6"/>
<rect x="721.3" y="115.7" width="14.9" height="4.7" fill="#3288bd"/>
<rect x="721.3" y="111.4" width="14.9" height="4.7" fill="#4ca5b1"/>
<rect x="721.3" y="107.2" width="14.9" height="4.7" fill="#51abaf"/>
<rect x="721.3" y="98.7" width="14.9" height="9.0" fill="#abdda4"/>
<rect x="721.3" y="94.4" width="14.9" height="4.7" fill="#378ebb"/>
<rect x="735.6" y="192.1" width="14.9" height="4.7" fill="#a4daa4"/>
<rect x="735.6" y="187.9" width="14.9" height="4.7" fill="#abdda4"/>
<rect x="735.6" y="183.6" width="14.9" height="4.7" fill="#c3e79f"/>
<rect x="735.6" y="179.4" width="14.9" height="4.7" fill="#abdda4"/>
<rect x="735.6" y="170.9" width="14.9" height="9.0" fill="#ceeb9d"/>
<rect x="735.6" y="166.7" width="14.9" height="4.7" fill="#9dd8a4"/>
<rect x="735.6" y="162.4" width="14.9" height="4.7" fill="#b7e2a2"/>
<rect x="735.6" y="158.2" width="14.9" height="4.7" fill="#9dd8a4"/>
<rect x="735.6" y="149.7" width="14.9" height="9.0" fill="#8fd2a4"/>
<rect x="735.6" y="141.2" width="14.9" height="9.0" fill="#9dd8a4"/>
<rect x="735.6" y="136.9" width="14.9" height="4.7" fill="#61bca7"/>
<rect x="735.6" y="132.7" width="14.9" height="4.7" fill="#66c2a5"/>
<rect x="735.6" y="124.2" width="14.9" height="9.0" fill="#74c7a5"/>
<rect x="735.6" y="119.9" width="14.9" height="4.7" fill="#66c2a5"/>
<rect x="735.6" y="115.7" width="14.9" height="4.7" fill="#74c7a5"/>
<rect x="735.6" y="111.4" width="14.9" height="4.7" fill="#66c2a5"/>
<rect x="735.6" y="107.2" width="14.9" height="4.7" fill="#82cda5"/>
<rect x="735.6" y="102.9" width="14.9" height="4.7" fill="#e6f598"/>
<rect x="735.6" y="98.7" width="14.9" height="4.7" fill="#abdda4"/>
<rect x="735.6" y="94.4" width="14.9" height="4.7" fill="#daf09a"/>
<rect x="749.9" y="192.1" width="14.9" height="4.7" fill="#82cda5"/>
<rect x="749.9" y="187.9" width="14.9" height="4.7" fill="#6dc5a5"/>
<rect x="749.9" y="183.6" width="14.9" height="4.7" fill="#61bca7"/>
<rect x="749.9" y="179.4" width="14.9" height="4.7" fill="#66c2a5"/>
<rect x="749.9" y="175.2" width="14.9" height="4.7" fill="#5cb6aa"/>
<rect x="749.9" y="170.9" width="14.9" height="4.7" fill="#61bca7"/>
<rect x="749.9" y="166.7" width="14.9" height="4.7" fill="#56b1ac"/>
<rect x="749.9" y="162.4" width="14.9" height="4.7" fill="#66c2a5"/>
<rect x="749.9" y="158.2" width="14.9" height="4.7" fill="#74c7a5"/>
<rect x="749.9" y="153.9" width="14.9" height="4.7" fill="#5cb6aa"/>
<rect x="749.9" y="149.7" width="14.9" height="4.7" fill="#61bca7"/>
<rect x="749.9" y="141.2" width="14.9" height="9.0" fill="#5cb6aa"/>
<rect x="749.9" y="136.9" width="14.9" height="4.7" fill="#4ca5b1"/>
<rect x="749.9" y="132.7" width="14.9" height="4.7" fill="#4299b6"/>
<rect x="749.9" y="128.4" width="14.9" height="4.7" fill="#479fb3"/>
<rect x="749.9" y="124.2" width="14.9" height="4.7" fill="#4ca5b1"/>
<rect x="749.9" y="119.9" width="14.9" height="4.7" fill="#5cb6aa"/>
<rect x="749.9" y="115.7" width="14.9" height="4.7" fill="#51abaf"/>
<rect x="749.9" y="111.4" width="14.9" height="4.7" fill="#5cb6aa"/>
<rect x="749.9" y="107.2" width="14.9" height="4.7" fill="#66c2a5"/>
<rect x="749.9" y="102.9" width="14.9" height="4.7" fill="#74c7a5"/>
<rect x="749.9" y="94.4" width="14.9" height="9.0" fill="#8fd2a4"/>
<rect x="764.2" y="192.1" width="14.9" height="4.7" fill="#56b1ac"/>
<rect x="764.2" y="187.9" width="14.9" height="4.7" fill="#479fb3"/>
<rect x="764.2" y="179.4" width="14.9" height="9.0" fill="#5cb6aa"/>
<rect x="764.2" y="175.2" width="14.9" height="4.7" fill="#51abaf"/>
<rect x="764.2" y="170.9" width="14.9" height="4.7" fill="#56b1ac"/>
<rect x="764.2" y="166.7" width="14.9" height="4.7" fill="#51abaf"/>
<rect x="764.2" y="158.2" width="14.9" height="9.0" fill="#5cb6aa"/>
<rect x="764.2" y="153.9" width="14.9" height="4.7" fill="#56b1ac"/>
<rect x="764.2" y="149.7" width="14.9" height="4.7" fill="#4ca5b1"/>
<rect x="764.2" y="145.4" width="14.9" height="4.7" fill="#479fb3"/>
<rect x="764.2" y="141.2" width="14.9" height="4.7" fill="#3c94b8"/>
<rect x="764.2" y="136.9" width="14.9" height="4.7" fill="#4ca5b1"/>
<rect x="764.2" y="124.2" width="14.9" height="13.2" fill="#51abaf"/>
<rect x="764.2" y="119.9" width="14.9" height="4.7" fill="#5cb6aa"/>
<rect x="764.2" y="115.7" width="14.9" height="4.7" fill="#479fb3"/>
<rect x="764.2" y="111.4" width="14.9" height="4.7" fill="#4ca5b1"/>
<rect x="764.2" y="107.2" width="14.9" height="4.7" fill="#51abaf"/>
<rect x="764.2" y="98.7" width="14.9" height="9.0" fill="#4ca5b1"/>
<rect x="764.2" y="94.4" width="14.9" height="4.7" fill="#51abaf"/>
<rect x="778.5" y="192.1" width="14.9" height="4.7" fill="#7bcaa5"/>
<rect x="778.5" y="187.9" width="14.9" height="4.7" fill="#8fd2a4"/>
<rect x="778.5" y="183.6" width="14.9" height="4.7" fill="#88d0a4"/>
<rect x="778.5" y="179.4" width="14.9" height="4.7" fill="#82cda5"/>
<rect x="778.5" y="175.2" width="14.9" height="4.7" fill="#9dd8a4"/>
<rect x="778.5" y="170.9" width="14.9" height="4.7" fill="#8fd2a4"/>
<rect x="778.5" y="162.4" width="14.9" height="9.0" fill="#9dd8a4"/>
<rect x="778.5" y="149.7" width="14.9" height="13.2" fill="#82cda5"/>
<rect x="778.5" y="145.4" width="14.9" height="4.7" fill="#61bca7"/>
<rect x="778.5" y="141.2" width="14.9" height="4.7" fill="#8fd2a4"/>
<rect x="778.5" y="136.9" width="14.9" height="4.7" fill="#88d0a4"/>
<rect x="778.5" y="132.7" width="14.9" height="4.7" fill="#8fd2a4"/>
<rect x="778.5" y="128.4" width="14.9" height="4.7" fill="#abdda4"/>
<rect x="778.5" y="119.9" width="14.9" height="9.0" fill="#7bcaa5"/>
<rect x="778.5" y="111.4" width="14.9" height="9.0" fill="#8fd2a4"/>
<rect x="778.5" y="102.9" width="14.9" height="9.0" fill="#88d0a4"/>
<rect x="778.5" y="98.7" width="14.9" height="4.7" fill="#82cda5"/>
<rect x="778.5" y="94.4" width="14.9" height="4.7" fill="#abdda4"/>
<rect x="792.8" y="192.1" width="14.9" height="4.7" fill="#74c7a5"/>
<rect x="792.8" y="187.9" width="14.9" height="4.7" fill="#7bcaa5"/>
<rect x="792.8" y="183.6" width="14.9" height="4.7" fill="#82cda5"/>
<rect x="792.8" y="179.4" width="14.9" height="4.7" fill="#74c7a5"/>
<rect x="792.8" y="175.2" width="14.9" height="4.7" fill="#66c2a5"/>
<rect x="792.8" y="170.9" width="14.9" height="4.7" fill="#82cda5"/>
<rect x="792.8" y="166.7" width="14.9" height="4.7" fill="#74c7a5"/>
<rect x="792.8" y="162.4" width="14.9" height="4.7" fill="#82cda5"/>
<rect x="792.8" y="158.2" width="14.9" height="4.7" fill="#7bcaa5"/>
<rect x="792.8" y="153.9" width="14.9" height="4.7" fill="#74c7a5"/>
<rect x="792.8" y="149.7" width="14.9" height="4.7" fill="#4ca5b1"/>
<rect x="792.8" y="141.2" width="14.9" height="9.0" fill="#479fb3"/>
<rect x="792.8" y="136.9" width="14.9" height="4.7" fill="#51abaf"/>
<rect x="792.8" y="132.7" width="14.9" height="4.7" fill="#96d5a4"/>
<rect x="792.8" y="128.4" width="14.9" height="4.7" fill="#66c2a5"/>
<rect x="792.8" y="124.2" width="14.9" height="4.7" fill="#5cb6aa"/>
<rect x="792.8" y="119.9" width="14.9" height="4.7" fill="#56b1ac"/>
<rect x="792.8" y="115.7" width="14.9" height="4.7" fill="#8fd2a4"/>
<rect x="792.8" y="107.2" width="14.9" height="9.0" fill="#9dd8a4"/>
<rect x="792.8" y="102.9" width="14.9" height="4.7" fill="#7bcaa5"/>
<rect x="792.8" y="98.7" width="14.9" height="4.7" fill="#74c7a5"/>
<rect x="792.8" y="94.4" width="14.9" height="4.7" fill="#56b1ac"/>
<rect x="807.1" y="107.2" width="14.9" height="89.7" fill="#3288bd"/>
<rect x="807.1" y="94.4" width="14.9" height="13.2" fill="#378ebb"/>
<rect x="821.3" y="192.1" width="14.9" height="4.7" fill="#9dd8a4"/>
<rect x="821.3" y="187.9" width="14.9" height="4.7" fill="#8fd2a4"/>
<rect x="821.3" y="183.6" width="14.9" height="4.7" fill="#82cda5"/>
<rect x="821.3" y="179.4" width="14.9" height="4.7" fill="#9dd8a4"/>
<rect x="821.3" y="175.2" width="14.9" height="4.7" fill="#88d0a4"/>
<rect x="821.3" y="170.9" width="14.9" height="4.7" fill="#9dd8a4"/>
<rect x="821.3" y="166.7" width="14.9" height="4.7" fill="#96d5a4"/>
<rect x="821.3" y="162.4" width="14.9" height="4.7" fill="#9dd8a4"/>
<rect x="821.3" y="158.2" width="14.9" height="4.7" fill="#82cda5"/>
<rect x="821.3" y="153.9" width="14.9" height="4.7" fill="#88d0a4"/>
<rect x="821.3" y="149.7" width="14.9" height="4.7" fill="#56b1ac"/>
<rect x="821.3" y="145.4" width="14.9" height="4.7" fill="#66c2a5"/>
<rect x="821.3" y="141.2" width="14.9" height="4.7" fill="#5cb6aa"/>
<rect x="821.3" y="136.9" width="14.9" height="4.7" fill="#8fd2a4"/>
<rect x="821.3" y="132.7" width="14.9" height="4.7" fill="#ceeb9d"/>
<rect x="821.3" y="128.4" width="14.9" height="4.7" fill="#bde4a0"/>
<rect x="821.3" y="119.9" width="14.9" height="9.0" fill="#b7e2a2"/>
<rect x="821.3" y="111.4" width="14.9" height="9.0" fill="#abdda4"/>
<rect x="821.3" y="107.2" width="14.9" height="4.7" fill="#daf09a"/>
<rect x="821.3" y="102.9" width="14.9" height="4.7" fill="#c8e99e"/>
<rect x="821.3" y="98.7" width="14.9" height="4.7" fill="#a4daa4"/>
<rect x="821.3" y="94.4" width="14.9" height="4.7" fill="#96d5a4"/>
<rect x="835.6" y="192.1" width="14.9" height="4.7" fill="#5cb6aa"/>
<rect x="835.6" y="187.9" width="14.9" height="4.7" fill="#51abaf"/>
<rect x="835.6" y="183.6" width="14.9" height="4.7" fill="#5cb6aa"/>
<rect x="835.6" y="179.4" width="14.9" height="4.7" fill="#61bca7"/>
<rect x="835.6" y="175.2" width="14.9" height="4.7" fill="#56b1ac"/>
<rect x="835.6" y="170.9" width="14.9" height="4.7" fill="#61bca7"/>
<rect x="835.6" y="166.7" width="14.9" height="4.7" fill="#51abaf"/>
<rect x="835.6" y="162.4" width="14.9" height="4.7" fill="#5cb6aa"/>
<rect x="835.6" y="158.2" width="14.9" height="4.7" fill="#56b1ac"/>
<rect x="835.6" y="153.9" width="14.9" height="4.7" fill="#5cb6aa"/>
<rect x="835.6" y="149.7" width="14.9" height="4.7" fill="#4ca5b1"/>
<rect x="835.6" y="145.4" width="14.9" height="4.7" fill="#5cb6aa"/>
<rect x="835.6" y="141.2" width="14.9" height="4.7" fill="#51abaf"/>
<rect x="835.6" y="136.9" width="14.9" height="4.7" fill="#5cb6aa"/>
<rect x="835.6" y="132.7" width="14.9" height="4.7" fill="#56b1ac"/>
<rect x="835.6" y="128.4" width="14.9" height="4.7" fill="#5cb6aa"/>
<rect x="835.6" y="124.2" width="14.9" height="4.7" fill="#61bca7"/>
<rect x="835.6" y="119.9" width="14.9" height="4.7" fill="#56b1ac"/>
<rect x="835.6" y="115.7" width="14.9" height="4.7" fill="#66c2a5"/>
<rect x="835.6" y="111.4" width="14.9" height="4.7" fill="#61bca7"/>
<rect x="835.6" y="107.2" width="14.9" height="4.7" fill="#66c2a5"/>
<rect x="835.6" y="102.9" width="14.9" height="4.7" fill="#5cb6aa"/>
<rect x="835.6" y="98.7" width="14.9" height="4.7" fill="#51abaf"/>
<rect x="835.6" y="94.4" width="14.9" height="4.7" fill="#56b1ac"/>
<rect x="849.9" y="192.1" width="14.9" height="4.7" fill="#8fd2a4"/>
<rect x="849.9" y="187.9" width="14.9" height="4.7" fill="#96d5a4"/>
<rect x="849.9" y="183.6" width="14.9" height="4.7" fill="#8fd2a4"/>
<rect x="849.9" y="179.4" width="14.9" height="4.7" fill="#a4daa4"/>
<rect x="849.9" y="175.2" width="14.9" height="4.7" fill="#96d5a4"/>
<rect x="849.9" y="170.9" width="14.9" height="4.7" fill="#8fd2a4"/>
<rect x="849.9" y="166.7" width="14.9" height="4.7" fill="#a4daa4"/>
<rect x="849.9" y="162.4" width="14.9" height="4.7" fill="#88d0a4"/>
<rect x="849.9" y="153.9" width="14.9" height="9.0" fill="#96d5a4"/>
<rect x="849.9" y="149.7" width="14.9" height="4.7" fill="#bde4a0"/>
<rect x="849.9" y="145.4" width="14.9" height="4.7" fill="#96d5a4"/>
<rect x="849.9" y="141.2" width="14.9" height="4.7" fill="#8fd2a4"/>
<rect x="849.9" y="136.9" width="14.9" height="4.7" fill="#9dd8a4"/>
<rect x="849.9" y="132.7" width="14.9" height="4.7" fill="#a4daa4"/>
<rect x="849.9" y="128.4" width="14.9" height="4.7" fill="#b7e2a2"/>
<rect x="849.9" y="124.2" width="14.9" height="4.7" fill="#9dd8a4"/>
<rect x="849.9" y="119.9" width="14.9" height="4.7" fill="#96d5a4"/>
<rect x="849.9" y="115.7" width="14.9" height="4.7" fill="#c8e99e"/>
<rect x="849.9" y="111.4" width="14.9" height="4.7" fill="#8fd2a4"/>
<rect x="849.9" y="107.2" width="14.9" height="4.7" fill="#96d5a4"/>
<rect x="849.9" y="102.9" width="14.9" height="4.7" fill="#b7e2a2"/>
<rect x="849.9" y="98.7" width="14.9" height="4.7" fill="#9dd8a4"/>
<rect x="849.9" y="94.4" width="14.9" height="4.7" fill="#82cda5"/>
<rect x="864.2" y="192.1" width="14.9" height="4.7" fill="#abdda4"/>
<rect x="864.2" y="179.4" width="14.9" height="13.2" fill="#c8e99e"/>
<rect x="864.2" y="175.2" width="14.9" height="4.7" fill="#b7e2a2"/>
<rect x="864.2" y="170.9" width="14.9" height="4.7" fill="#a4daa4"/>
<rect x="864.2" y="166.7" width="14.9" height="4.7" fill="#abdda4"/>
<rect x="864.2" y="158.2" width="14.9" height="9.0" fill="#9dd8a4"/>
<rect x="864.2" y="153.9" width="14.9" height="4.7" fill="#8fd2a4"/>
<rect x="864.2" y="149.7" width="14.9" height="4.7" fill="#88d0a4"/>
<rect x="864.2" y="145.4" width="14.9" height="4.7" fill="#74c7a5"/>
<rect x="864.2" y="141.2" width="14.9" height="4.7" fill="#7bcaa5"/>
<rect x="864.2" y="136.9" width="14.9" height="4.7" fill="#74c7a5"/>
<rect x="864.2" y="132.7" width="14.9" height="4.7" fill="#82cda5"/>
<rect x="864.2" y="124.2" width="14.9" height="9.0" fill="#74c7a5"/>
<rect x="864.2" y="119.9" width="14.9" height="4.7" fill="#8fd2a4"/>
<rect x="864.2" y="111.4" width="14.9" height="9.0" fill="#9dd8a4"/>
<rect x="864.2" y="107.2" width="14.9" height="4.7" fill="#a4daa4"/>
<rect x="864.2" y="98.7" width="14.9" height="9.0" fill="#abdda4"/>
<rect x="864.2" y="94.4" width="14.9" height="4.7" fill="#c3e79f"/>
<rect x="878.5" y="192.1" width="14.9" height="4.7" fill="#a4daa4"/>
<rect x="878.5" y="187.9" width="14.9" height="4.7" fill="#bde4a0"/>
<rect x="878.5" y="179.4" width="14.9" height="9.0" fill="#daf09a"/>
<rect x="878.5" y="175.2" width="14.9" height="4.7" fill="#c8e99e"/>
<rect x="878.5" y="170.9" width="14.9" height="4.7" fill="#bde4a0"/>
<rect x="878.5" y="166.7" width="14.9" height="4.7" fill="#abdda4"/>
<rect x="878.5" y="162.4" width="14.9" height="4.7" fill="#96d5a4"/>
<rect x="878.5" y="153.9" width="14.9" height="9.0" fill="#9dd8a4"/>
<rect x="878.5" y="149.7" width="14.9" height="4.7" fill="#e6f598"/>
<rect x="878.5" y="145.4" width="14.9" height="4.7" fill="#9dd8a4"/>
<rect x="878.5" y="141.2" width="14.9" height="4.7" fill="#8fd2a4"/>
<rect x="878.5" y="136.9" width="14.9" height="4.7" fill="#4ca5b1"/>
<rect x="878.5" y="132.7" width="14.9" height="4.7" fill="#c3e79f"/>
<rect x="878.5" y="128.4" width="14.9" height="4.7" fill="#daf09a"/>
<rect x="878.5" y="124.2" width="14.9" height="4.7" fill="#5cb6aa"/>
<rect x="878.5" y="119.9" width="14.9" height="4.7" fill="#b7e2a2"/>
<rect x="878.5" y="115.7" width="14.9" height="4.7" fill="#8fd2a4"/>
<rect x="878.5" y="111.4" width="14.9" height="4.7" fill="#b7e2a2"/>
<rect x="878.5" y="107.2" width="14.9" height="4.7" fill="#8fd2a4"/>
<rect x="878.5" y="98.7" width="14.9" height="9.0" fill="#abdda4"/>
<rect x="878.5" y="94.4" width="14.9" height="4.7" fill="#daf09a"/>
<rect x="892.8" y="192.1" width="14.9" height="4.7" fill="#8fd2a4"/>
<rect x="892.8" y="187.9" width="14.9" height="4.7" fill="#88d0a4"/>
<rect x="892.8" y="179.4" width="14.9" height="9.0" fill="#82cda5"/>
<rect x="892.8" y="175.2" width="14.9" height="4.7" fill="#74c7a5"/>
<rect x="892.8" y="170.9" width="14.9" height="4.7" fill="#7bcaa5"/>
<rect x="892.8" y="166.7" width="14.9" height="4.7" fill="#5cb6aa"/>
<rect x="892.8" y="162.4" width="14.9" height="4.7" fill="#8fd2a4"/>
<rect x="892.8" y="158.2" width="14.9" height="4.7" fill="#88d0a4"/>
<rect x="892.8" y="153.9" width="14.9" height="4.7" fill="#8fd2a4"/>
<rect x="892.8" y="149.7" width="14.9" height="4.7" fill="#abdda4"/>
<rect x="892.8" y="145.4" width="14.9" height="4.7" fill="#7bcaa5"/>
<rect x="892.8" y="141.2" width="14.9" height="4.7" fill="#88d0a4"/>
<rect x="892.8" y="136.9" width="14.9" height="4.7" fill="#74c7a5"/>
<rect x="892.8" y="132.7" width="14.9" height="4.7" fill="#56b1ac"/>
<rect x="892.8" y="128.4" width="14.9" height="4.7" fill="#5cb6aa"/>
<rect x="892.8" y="124.2" width="14.9" height="4.7" fill="#7bcaa5"/>
<rect x="892.8" y="119.9" width="14.9" height="4.7" fill="#82cda5"/>
<rect x="892.8" y="111.4" width="14.9" height="9.0" fill="#88d0a4"/>
<rect x="892.8" y="107.2" width="14.9" height="4.7" fill="#c8e99e"/>
<rect x="892.8" y="102.9" width="14.9" height="4.7" fill="#9dd8a4"/>
<rect x="892.8" y="98.7" width="14.9" height="4.7" fill="#8fd2a4"/>
<rect x="892.8" y="94.4" width="14.9" height="4.7" fill="#82cda5"/>
<rect x="907.1" y="192.1" width="14.9" height="4.7" fill="#4ca5b1"/>
<rect x="907.1" y="187.9" width="14.9" height="4.7" fill="#5cb6aa"/>
<rect x="907.1" y="183.6" width="14.9" height="4.7" fill="#51abaf"/>
<rect x="907.1" y="179.4" width="14.9" height="4.7" fill="#3485bc"/>
<rect x="907.1" y="175.2" width="14.9" height="4.7" fill="#4299b6"/>
<rect x="907.1" y="170.9" width="14.9" height="4.7" fill="#51abaf"/>
<rect x="907.1" y="166.7" width="14.9" height="4.7" fill="#3c94b8"/>
<rect x="907.1" y="162.4" width="14.9" height="4.7" fill="#479fb3"/>
<rect x="907.1" y="158.2" width="14.9" height="4.7" fill="#51abaf"/>
<rect x="907.1" y="153.9" width="14.9" height="4.7" fill="#479fb3"/>
<rect x="907.1" y="149.7" width="14.9" height="4.7" fill="#4ca5b1"/>
<rect x="907.1" y="145.4" width="14.9" height="4.7" fill="#3c94b8"/>
<rect x="907.1" y="141.2" width="14.9" height="4.7" fill="#479fb3"/>
<rect x="907.1" y="136.9" width="14.9" height="4.7" fill="#3682ba"/>
<rect x="907.1" y="132.7" width="14.9" height="4.7" fill="#4299b6"/>
<rect x="907.1" y="128.4" width="14.9" height="4.7" fill="#4ca5b1"/>
<rect x="907.1" y="124.2" width="14.9" height="4.7" fill="#3c94b8"/>
<rect x="907.1" y="119.9" width="14.9" height="4.7" fill="#3485bc"/>
<rect x="907.1" y="115.7" width="14.9" height="4.7" fill="#4ca5b1"/>
<rect x="907.1" y="111.4" width="14.9" height="4.7" fill="#51abaf"/>
<rect x="907.1" y="107.2" width="14.9" height="4.7" fill="#3c94b8"/>
<rect x="907.1" y="102.9" width="14.9" height="4.7" fill="#66c2a5"/>
<rect x="907.1" y="98.7" width="14.9" height="4.7" fill="#4ca5b1"/>
<rect x="907.1" y="94.4" width="14.9" height="4.7" fill="#3c94b8"/>
<rect x="921.3" y="162.4" width="14.9" height="34.5" fill="#3288bd"/>
<rect x="921.3" y="158.2" width="14.9" height="4.7" fill="#74c7a5"/>
<rect x="921.3" y="153.9" width="14.9" height="4.7" fill="#479fb3"/>
<rect x="921.3" y="94.4" width="14.9" height="60.0" fill="#3288bd"/>
<rect x="935.6" y="192.1" width="14.9" height="4.7" fill="#66c2a5"/>
<rect x="935.6" y="187.9" width="14.9" height="4.7" fill="#378ebb"/>
<rect x="935.6" y="175.2" width="14.9" height="13.2" fill="#3288bd"/>
<rect x="935.6" y="170.9" width="14.9" height="4.7" fill="#3485bc"/>
<rect x="935.6" y="166.7" width="14.9" height="4.7" fill="#3c94b8"/>
<rect x="935.6" y="162.4" width="14.9" height="4.7" fill="#4299b6"/>
<rect x="935.6" y="158.2" width="14.9" height="4.7" fill="#3288bd"/>
<rect x="935.6" y="153.9" width="14.9" height="4.7" fill="#5cb6aa"/>
<rect x="935.6" y="149.7" width="14.9" height="4.7" fill="#3288bd"/>
<rect x="935.6" y="145.4" width="14.9" height="4.7" fill="#3485bc"/>
<rect x="935.6" y="141.2" width="14.9" height="4.7" fill="#378ebb"/>
<rect x="935.6" y="136.9" width="14.9" height="4.7" fill="#4299b6"/>
<rect x="935.6" y="132.7" width="14.9" height="4.7" fill="#479fb3"/>
<rect x="935.6" y="124.2" width="14.9" height="9.0" fill="#3288bd"/>
<rect x="935.6" y="119.9" width="14.9" height="4.7" fill="#3485bc"/>
<rect x="935.6" y="115.7" width="14.9" height="4.7" fill="#4ca5b1"/>
<rect x="935.6" y="111.4" width="14.9" height="4.7" fill="#4299b6"/>
<rect x="935.6" y="107.2" width="14.9" height="4.7" fill="#4ca5b1"/>
<rect x="935.6" y="102.9" width="14.9" height="4.7" fill="#378ebb"/>
<rect x="935.6" y="98.7" width="14.9" height="4.7" fill="#3c94b8"/>
<rect x="935.6" y="94.4" width="14.9" height="4.7" fill="#66c2a5"/>
<rect x="949.9" y="192.1" width="14.9" height="4.7" fill="#4ca5b1"/>
<rect x="949.9" y="187.9" width="14.9" height="4.7" fill="#51abaf"/>
<rect x="949.9" y="183.6" width="14.9" height="4.7" fill="#74c7a5"/>
<rect x="949.9" y="179.4" width="14.9" height="4.7" fill="#4299b6"/>
<rect x="949.9" y="175.2" width="14.9" height="4.7" fill="#4ca5b1"/>
<rect x="949.9" y="170.9" width="14.9" height="4.7" fill="#56b1ac"/>
<rect x="949.9" y="166.7" width="14.9" height="4.7" fill="#4299b6"/>
<rect x="949.9" y="162.4" width="14.9" height="4.7" fill="#5cb6aa"/>
<rect x="949.9" y="158.2" width="14.9" height="4.7" fill="#479fb3"/>
<rect x="949.9" y="149.7" width="14.9" height="9.0" fill="#4299b6"/>
<rect x="949.9" y="145.4" width="14.9" height="4.7" fill="#3c94b8"/>
<rect x="949.9" y="141.2" width="14.9" height="4.7" fill="#56b1ac"/>
<rect x="949.9" y="136.9" width="14.9" height="4.7" fill="#4299b6"/>
<rect x="949.9" y="132.7" width="14.9" height="4.7" fill="#479fb3"/>
<rect x="949.9" y="128.4" width="14.9" height="4.7" fill="#4ca5b1"/>
<rect x="949.9" y="124.2" width="14.9" height="4.7" fill="#4299b6"/>
<rect x="949.9" y="119.9" width="14.9" height="4.7" fill="#4ca5b1"/>
<rect x="949.9" y="115.7" width="14.9" height="4.7" fill="#4299b6"/>
<rect x="949.9" y="111.4" width="14.9" height="4.7" fill="#61bca7"/>
<rect x="949.9" y="107.2" width="14.9" height="4.7" fill="#4299b6"/>
<rect x="949.9" y="102.9" width="14.9" height="4.7" fill="#4ca5b1"/>
<rect x="949.9" y="98.7" width="14.9" height="4.7" fill="#56b1ac"/>
<rect x="949.9" y="94.4" width="14.9" height="4.7" fill="#4ca5b1"/>
<rect x="964.2" y="192.1" width="14.9" height="4.7" fill="#4299b6"/>
<rect x="964.2" y="187.9" width="14.9" height="4.7" fill="#4ca5b1"/>
<rect x="964.2" y="183.6" width="14.9" height="4.7" fill="#56b1ac"/>
<rect x="964.2" y="179.4" width="14.9" height="4.7" fill="#3c94b8"/>
<rect x="964.2" y="175.2" width="14.9" height="4.7" fill="#378ebb"/>
<rect x="964.2" y="170.9" width="14.9" height="4.7" fill="#3c94b8"/>
<rect x="964.2" y="166.7" width="14.9" height="4.7" fill="#378ebb"/>
<rect x="964.2" y="162.4" width="14.9" height="4.7" fill="#3c94b8"/>
<rect x="964.2" y="158.2" width="14.9" height="4.7" fill="#378ebb"/>
<rect x="964.2" y="153.9" width="14.9" height="4.7" fill="#479fb3"/>
<rect x="964.2" y="149.7" width="14.9" height="4.7" fill="#378ebb"/>
<rect x="964.2" y="145.4" width="14.9" height="4.7" fill="#479fb3"/>
<rect x="964.2" y="141.2" width="14.9" height="4.7" fill="#4299b6"/>
<rect x="964.2" y="136.9" width="14.9" height="4.7" fill="#3288bd"/>
<rect x="964.2" y="128.4" width="14.9" height="9.0" fill="#4299b6"/>
<rect x="964.2" y="124.2" width="14.9" height="4.7" fill="#3c94b8"/>
<rect x="964.2" y="119.9" width="14.9" height="4.7" fill="#3485bc"/>
<rect x="964.2" y="115.7" width="14.9" height="4.7" fill="#4ca5b1"/>
<rect x="964.2" y="111.4" width="14.9" height="4.7" fill="#479fb3"/>
<rect x="964.2" y="107.2" width="14.9" height="4.7" fill="#51abaf"/>
<rect x="964.2" y="102.9" width="14.9" height="4.7" fill="#479fb3"/>
<rect x="964.2" y="98.7" width="14.9" height="4.7" fill="#56b1ac"/>
<rect x="964.2" y="94.4" width="14.9" height="4.7" fill="#3c94b8"/>
<rect x="978.5" y="145.4" width="14.9" height="51.5" fill="#3288bd"/>
<rect x="978.5" y="119.9" width="14.9" height="26.0" fill="#358bbc"/>
<rect x="978.5" y="94.4" width="14.9" height="26.0" fill="#3288bd"/>
<rect x="992.8" y="170.9" width="14.9" height="26.0" fill="#358bbc"/>
<rect x="992.8" y="145.4" width="14.9" height="26.0" fill="#3288bd"/>
<rect x="992.8" y="119.9" width="14.9" height="26.0" fill="#378ebb"/>
<rect x="992.8" y="94.4" width="14.9" height="26.0" fill="#3288bd"/>
<rect x="1007.1" y="94.4" width="14.9" height="102.4" fill="#3288bd"/>
<rect x="1021.3" y="94.4" width="14.9" height="102.4" fill="#3288bd"/>
<rect x="1035.6" y="183.6" width="14.9" height="13.2" fill="#3288bd"/>
<rect x="1035.6" y="179.4" width="14.9" height="4.7" fill="#3c94b8"/>
<rect x="1035.6" y="170.9" width="14.9" height="9.0" fill="#3288bd"/>
<rect x="1035.6" y="166.7" width="14.9" height="4.7" fill="#4299b6"/>
<rect x="1035.6" y="94.4" width="14.9" height="72.7" fill="#3288bd"/>
<rect x="1049.9" y="192.1" width="14.9" height="4.7" fill="#479fb3"/>
<rect x="1049.9" y="187.9" width="14.9" height="4.7" fill="#5cb6aa"/>
<rect x="1049.9" y="183.6" width="14.9" height="4.7" fill="#56b1ac"/>
<rect x="1049.9" y="179.4" width="14.9" height="4.7" fill="#4ca5b1"/>
<rect x="1049.9" y="175.2" width="14.9" height="4.7" fill="#5cb6aa"/>
<rect x="1049.9" y="170.9" width="14.9" height="4.7" fill="#51abaf"/>
<rect x="1049.9" y="166.7" width="14.9" height="4.7" fill="#479fb3"/>
<rect x="1049.9" y="162.4" width="14.9" height="4.7" fill="#5cb6aa"/>
<rect x="1049.9" y="158.2" width="14.9" height="4.7" fill="#479fb3"/>
<rect x="1049.9" y="153.9" width="14.9" height="4.7" fill="#4ca5b1"/>
<rect x="1049.9" y="149.7" width="14.9" height="4.7" fill="#5cb6aa"/>
<rect x="1049.9" y="145.4" width="14.9" height="4.7" fill="#4299b6"/>
<rect x="1049.9" y="141.2" width="14.9" height="4.7" fill="#4ca5b1"/>
<rect x="1049.9" y="136.9" width="14.9" height="4.7" fill="#479fb3"/>
<rect x="1049.9" y="132.7" width="14.9" height="4.7" fill="#56b1ac"/>
<rect x="1049.9" y="128.4" width="14.9" height="4.7" fill="#5cb6aa"/>
<rect x="1049.9" y="124.2" width="14.9" height="4.7" fill="#3c94b8"/>
<rect x="1049.9" y="119.9" width="14.9" height="4.7" fill="#4299b6"/>
<rect x="1049.9" y="115.7" width="14.9" height="4.7" fill="#479fb3"/>
<rect x="1049.9" y="111.4" width="14.9" height="4.7" fill="#5cb6aa"/>
<rect x="1049.9" y="107.2" width="14.9" height="4.7" fill="#4ca5b1"/>
<rect x="1049.9" y="102.9" width="14.9" height="4.7" fill="#4299b6"/>
<rect x="1049.9" y="94.4" width="14.9" height="9.0" fill="#66c2a5"/>
<rect x="1064.2" y="192.1" width="14.9" height="4.7" fill="#82cda5"/>
<rect x="1064.2" y="187.9" width="14.9" height="4.7" fill="#74c7a5"/>
<rect x="1064.2" y="183.6" width="14.9" height="4.7" fill="#7bcaa5"/>
<rect x="1064.2" y="179.4" width="14.9" height="4.7" fill="#66c2a5"/>
<rect x="1064.2" y="175.2" width="14.9" height="4.7" fill="#7bcaa5"/>
<rect x="1064.2" y="170.9" width="14.9" height="4.7" fill="#66c2a5"/>
<rect x="1064.2" y="166.7" width="14.9" height="4.7" fill="#82cda5"/>
<rect x="1064.2" y="162.4" width="14.9" height="4.7" fill="#88d0a4"/>
<rect x="1064.2" y="153.9" width="14.9" height="9.0" fill="#82cda5"/>
<rect x="1064.2" y="149.7" width="14.9" height="4.7" fill="#7bcaa5"/>
<rect x="1064.2" y="145.4" width="14.9" height="4.7" fill="#82cda5"/>
<rect x="1064.2" y="141.2" width="14.9" height="4.7" fill="#66c2a5"/>
<rect x="1064.2" y="132.7" width="14.9" height="9.0" fill="#7bcaa5"/>
<rect x="1064.2" y="128.4" width="14.9" height="4.7" fill="#51abaf"/>
<rect x="1064.2" y="124.2" width="14.9" height="4.7" fill="#56b1ac"/>
<rect x="1064.2" y="119.9" width="14.9" height="4.7" fill="#51abaf"/>
<rect x="1064.2" y="111.4" width="14.9" height="9.0" fill="#88d0a4"/>
<rect x="1064.2" y="102.9" width="14.9" height="9.0" fill="#8fd2a4"/>
<rect x="1064.2" y="94.4" width="14.9" height="9.0" fill="#66c2a5"/>
<rect x="1078.5" y="94.4" width="14.9" height="102.4" fill="#3288bd"/>
<rect x="1092.8" y="94.4" width="14.9" height="102.4" fill="#3288bd"/>
<rect x="1107.1" y="170.9" width="14.9" height="26.0" fill="#3c94b8"/>
<rect x="1107.1" y="119.9" width="14.9" height="51.5" fill="#378ebb"/>
<rect x="1107.1" y="94.4" width="14.9" height="26.0" fill="#3c94b8"/>
<rect x="1121.3" y="170.9" width="14.9" height="26.0" fill="#3a91b9"/>
<rect x="1121.3" y="119.9" width="14.9" height="51.5" fill="#358bbc"/>
<rect x="1121.3" y="94.4" width="14.9" height="26.0" fill="#378ebb"/>
<rect x="1135.6" y="170.9" width="14.9" height="26.0" fill="#3c94b8"/>
<rect x="1135.6" y="145.4" width="14.9" height="26.0" fill="#358bbc"/>
<rect x="1135.6" y="119.9" width="14.9" height="26.0" fill="#3a91b9"/>
<rect x="1135.6" y="94.4" width="14.9" height="26.0" fill="#3f96b7"/>
<rect x="1149.9" y="94.4" width="14.9" height="102.4" fill="#3288bd"/>
<rect x="1164.2" y="94.4" width="14.9" height="102.4" fill="#3288bd"/>
<rect x="1178.5" y="94.4" width="14.9" height="102.4" fill="#3288bd"/>
<rect x="1192.8" y="94.4" width="14.9" height="102.4" fill="#3288bd"/>
<rect x="1207.1" y="145.4" width="14.9" height="51.5" fill="#378ebb"/>
<rect x="1207.1" y="119.9" width="14.9" height="26.0" fill="#3288bd"/>
<rect x="1207.1" y="94.4" width="14.9" height="26.0" fill="#378ebb"/>
<rect x="1221.3" y="145.4" width="14.9" height="51.5" fill="#4299b6"/>
<rect x="1221.3" y="94.4" width="14.9" height="51.5" fill="#3c94b8"/>
<rect x="1235.6" y="192.1" width="14.9" height="4.7" fill="#7bcaa5"/>
<rect x="1235.6" y="170.9" width="14.9" height="21.7" fill="#74c7a5"/>
<rect x="1235.6" y="166.7" width="14.9" height="4.7" fill="#66c2a5"/>
<rect x="1235.6" y="162.4" width="14.9" height="4.7" fill="#61bca7"/>
<rect x="1235.6" y="149.7" width="14.9" height="13.2" fill="#66c2a5"/>
<rect x="1235.6" y="132.7" width="14.9" height="17.5" fill="#3288bd"/>
<rect x="1235.6" y="128.4" width="14.9" height="4.7" fill="#3c94b8"/>
<rect x="1235.6" y="124.2" width="14.9" height="4.7" fill="#4299b6"/>
<rect x="1235.6" y="119.9" width="14.9" height="4.7" fill="#479fb3"/>
<rect x="1235.6" y="115.7" width="14.9" height="4.7" fill="#51abaf"/>
<rect x="1235.6" y="111.4" width="14.9" height="4.7" fill="#4ca5b1"/>
<rect x="1235.6" y="107.2" width="14.9" height="4.7" fill="#51abaf"/>
<rect x="1235.6" y="102.9" width="14.9" height="4.7" fill="#6dc5a5"/>
<rect x="1235.6" y="94.4" width="14.9" height="9.0" fill="#74c7a5"/>
<rect x="1249.9" y="192.1" width="14.9" height="4.7" fill="#61bca7"/>
<rect x="1249.9" y="187.9" width="14.9" height="4.7" fill="#5cb6aa"/>
<rect x="1249.9" y="183.6" width="14.9" height="4.7" fill="#66c2a5"/>
<rect x="1249.9" y="179.4" width="14.9" height="4.7" fill="#61bca7"/>
<rect x="1249.9" y="175.2" width="14.9" height="4.7" fill="#5cb6aa"/>
<rect x="1249.9" y="170.9" width="14.9" height="4.7" fill="#61bca7"/>
<rect x="1249.9" y="166.7" width="14.9" height="4.7" fill="#5cb6aa"/>
<rect x="1249.9" y="162.4" width="14.9" height="4.7" fill="#66c2a5"/>
<rect x="1249.9" y="158.2" width="14.9" height="4.7" fill="#56b1ac"/>
<rect x="1249.9" y="153.9" width="14.9" height="4.7" fill="#5cb6aa"/>
<rect x="1249.9" y="149.7" width="14.9" height="4.7" fill="#8fd2a4"/>
<rect x="1249.9" y="141.2" width="14.9" height="9.0" fill="#479fb3"/>
<rect x="1249.9" y="136.9" width="14.9" height="4.7" fill="#4299b6"/>
<rect x="1249.9" y="132.7" width="14.9" height="4.7" fill="#479fb3"/>
<rect x="1249.9" y="128.4" width="14.9" height="4.7" fill="#5cb6aa"/>
<rect x="1249.9" y="124.2" width="14.9" height="4.7" fill="#6dc5a5"/>
<rect x="1249.9" y="115.7" width="14.9" height="9.0" fill="#66c2a5"/>
<rect x="1249.9" y="111.4" width="14.9" height="4.7" fill="#6dc5a5"/>
<rect x="1249.9" y="107.2" width="14.9" height="4.7" fill="#66c2a5"/>
<rect x="1249.9" y="102.9" width="14.9" height="4.7" fill="#51abaf"/>
<rect x="1249.9" y="98.7" width="14.9" height="4.7" fill="#4ca5b1"/>
<rect x="1249.9" y="94.4" width="14.9" height="4.7" fill="#51abaf"/>
<rect x="64.2" y="210.6" width="14.9" height="102.4" fill="#5c52a3"/>
<rect x="78.5" y="210.6" width="14.9" height="102.4" fill="#5c52a3"/>
<rect x="92.8" y="210.6" width="14.9" height="102.4" fill="#5c52a3"/>
<rect x="107.1" y="210.6" width="14.9" height="102.4" fill="#5c52a3"/>
<rect x="121.3" y="210.6" width="14.9" height="102.4" fill="#5c52a3"/>
<rect x="135.6" y="210.6" width="14.9" height="102.4" fill="#5c52a3"/>
<rect x="149.9" y="210.6" width="14.9" height="102.4" fill="#5c52a3"/>
<rect x="164.2" y="210.6" width="14.9" height="102.4" fill="#5c52a3"/>
<rect x="178.5" y="210.6" width="14.9" height="102.4" fill="#5c52a3"/>
<rect x="192.8" y="210.6" width="14.9" height="102.4" fill="#5c52a3"/>
<rect x="207.1" y="210.6" width="14.9" height="102.4" fill="#5a55a5"/>
<rect x="221.3" y="287.0" width="14.9" height="26.0" fill="#486cb0"/>
<rect x="221.3" y="210.6" width="14.9" height="77.0" fill="#4c66ad"/>
<rect x="235.6" y="287.0" width="14.9" height="26.0" fill="#4471b2"/>
<rect x="235.6" y="261.6" width="14.9" height="26.0" fill="#486cb0"/>
<rect x="235.6" y="236.1" width="14.9" height="26.0" fill="#4a69ae"/>
<rect x="235.6" y="210.6" width="14.9" height="26.0" fill="#466eb1"/>
<rect x="249.9" y="261.6" width="14.9" height="51.5" fill="#5a55a5"/>
<rect x="249.9" y="236.1" width="14.9" height="26.0" fill="#5c52a3"/>
<rect x="249.9" y="210.6" width="14.9" height="26.0" fill="#5a55a5"/>
<rect x="264.2" y="287.0" width="14.9" height="26.0" fill="#4f63ab"/>
<rect x="264.2" y="261.6" width="14.9" height="26.0" fill="#5160aa"/>
<rect x="264.2" y="236.1" width="14.9" height="26.0" fill="#555aa7"/>
<rect x="264.2" y="210.6" width="14.9" height="26.0" fill="#5160aa"/>
<rect x="278.5" y="261.6" width="14.9" height="51.5" fill="#5160aa"/>
<rect x="278.5" y="236.1" width="14.9" height="26.0" fill="#555aa7"/>
<rect x="278.5" y="210.6" width="14.9" height="26.0" fill="#535da9"/>
<rect x="292.8" y="261.6" width="14.9" height="51.5" fill="#3288bd"/>
<rect x="292.8" y="210.6" width="14.9" height="51.5" fill="#3485bc"/>
<rect x="307.1" y="287.0" width="14.9" height="26.0" fill="#56b1ac"/>
<rect x="307.1" y="261.6" width="14.9" height="26.0" fill="#4ca5b1"/>
<rect x="307.1" y="210.6" width="14.9" height="51.5" fill="#4299b6"/>
<rect x="321.3" y="287.0" width="14.9" height="26.0" fill="#4471b2"/>
<rect x="321.3" y="261.6" width="14.9" height="26.0" fill="#486cb0"/>
<rect x="321.3" y="236.1" width="14.9" height="26.0" fill="#4f63ab"/>
<rect x="321.3" y="210.6" width="14.9" height="26.0" fill="#4c66ad"/>
<rect x="335.6" y="287.0" width="14.9" height="26.0" fill="#449cb5"/>
<rect x="335.6" y="261.6" width="14.9" height="26.0" fill="#4299b6"/>
<rect x="335.6" y="210.6" width="14.9" height="51.5" fill="#3c94b8"/>
<rect x="349.9" y="287.0" width="14.9" height="26.0" fill="#63bfa6"/>
<rect x="349.9" y="261.6" width="14.9" height="26.0" fill="#66c2a5"/>
<rect x="349.9" y="236.1" width="14.9" height="26.0" fill="#61bca7"/>
<rect x="349.9" y="210.6" width="14.9" height="26.0" fill="#5cb6aa"/>
<rect x="364.2" y="261.6" width="14.9" height="51.5" fill="#4471b2"/>
<rect x="364.2" y="210.6" width="14.9" height="51.5" fill="#486cb0"/>
<rect x="378.5" y="287.0" width="14.9" height="26.0" fill="#5160aa"/>
<rect x="378.5" y="261.6" width="14.9" height="26.0" fill="#4f63ab"/>
<rect x="378.5" y="236.1" width="14.9" height="26.0" fill="#535da9"/>
<rect x="378.5" y="210.6" width="14.9" height="26.0" fill="#4c66ad"/>
<rect x="392.8" y="287.0" width="14.9" height="26.0" fill="#3b7db8"/>
<rect x="392.8" y="261.6" width="14.9" height="26.0" fill="#4471b2"/>
<rect x="392.8" y="236.1" width="14.9" height="26.0" fill="#486cb0"/>
<rect x="392.8" y="210.6" width="14.9" height="26.0" fill="#4174b4"/>
<rect x="407.1" y="261.6" width="14.9" height="51.5" fill="#56b1ac"/>
<rect x="407.1" y="236.1" width="14.9" height="26.0" fill="#5cb6aa"/>
<rect x="407.1" y="210.6" width="14.9" height="26.0" fill="#56b1ac"/>
<rect x="421.3" y="210.6" width="14.9" height="102.4" fill="#abdda4"/>
<rect x="435.6" y="261.6" width="14.9" height="51.5" fill="#f8fcb3"/>
<rect x="435.6" y="236.1" width="14.9" height="26.0" fill="#f5fbaf"/>
<rect x="435.6" y="210.6" width="14.9" height="26.0" fill="#f2faac"/>
<rect x="449.9" y="287.0" width="14.9" height="26.0" fill="#96d5a4"/>
<rect x="449.9" y="261.6" width="14.9" height="26.0" fill="#8fd2a4"/>
<rect x="449.9" y="236.1" width="14.9" height="26.0" fill="#88d0a4"/>
<rect x="449.9" y="210.6" width="14.9" height="26.0" fill="#8fd2a4"/>
<rect x="464.2" y="287.0" width="14.9" height="26.0" fill="#4c66ad"/>
<rect x="464.2" y="261.6" width="14.9" height="26.0" fill="#486cb0"/>
<rect x="464.2" y="236.1" width="14.9" height="26.0" fill="#4f63ab"/>
<rect x="464.2" y="210.6" width="14.9" height="26.0" fill="#4c66ad"/>
<rect x="478.5" y="287.0" width="14.9" height="26.0" fill="#4c66ad"/>
<rect x="478.5" y="261.6" width="14.9" height="26.0" fill="#4a69ae"/>
<rect x="478.5" y="210.6" width="14.9" height="51.5" fill="#5160aa"/>
<rect x="492.8" y="261.6" width="14.9" height="51.5" fill="#5160aa"/>
<rect x="492.8" y="236.1" width="14.9" height="26.0" fill="#555aa7"/>
<rect x="492.8" y="210.6" width="14.9" height="26.0" fill="#535da9"/>
<rect x="507.1" y="287.0" width="14.9" height="26.0" fill="#5160aa"/>
<rect x="507.1" y="236.1" width="14.9" height="51.5" fill="#555aa7"/>
<rect x="507.1" y="210.6" width="14.9" height="26.0" fill="#535da9"/>
<rect x="521.3" y="210.6" width="14.9" height="102.4" fill="#555aa7"/>
<rect x="535.6" y="287.0" width="14.9" height="26.0" fill="#555aa7"/>
<rect x="535.6" y="261.6" width="14.9" height="26.0" fill="#535da9"/>
<rect x="535.6" y="236.1" width="14.9" height="26.0" fill="#555aa7"/>
<rect x="535.6" y="210.6" width="14.9" height="26.0" fill="#5160aa"/>
<rect x="549.9" y="287.0" width="14.9" height="26.0" fill="#5160aa"/>
<rect x="549.9" y="261.6" width="14.9" height="26.0" fill="#4f63ab"/>
<rect x="549.9" y="236.1" width="14.9" height="26.0" fill="#5160aa"/>
<rect x="549.9" y="210.6" width="14.9" height="26.0" fill="#4f63ab"/>
<rect x="564.2" y="261.6" width="14.9" height="51.5" fill="#3485bc"/>
<rect x="564.2" y="236.1" width="14.9" height="26.0" fill="#3682ba"/>
<rect x="564.2" y="210.6" width="14.9" height="26.0" fill="#397fb9"/>
<rect x="578.5" y="261.6" width="14.9" height="51.5" fill="#4471b2"/>
<rect x="578.5" y="236.1" width="14.9" height="26.0" fill="#466eb1"/>
<rect x="578.5" y="210.6" width="14.9" height="26.0" fill="#4471b2"/>
<rect x="592.8" y="261.6" width="14.9" height="51.5" fill="#486cb0"/>
<rect x="592.8" y="236.1" width="14.9" height="26.0" fill="#4a69ae"/>
<rect x="592.8" y="210.6" width="14.9" height="26.0" fill="#486cb0"/>
<rect x="607.1" y="287.0" width="14.9" height="26.0" fill="#5758a6"/>
<rect x="607.1" y="261.6" width="14.9" height="26.0" fill="#535da9"/>
<rect x="607.1" y="236.1" width="14.9" height="26.0" fill="#5758a6"/>
<rect x="607.1" y="210.6" width="14.9" height="26.0" fill="#5a55a5"/>
<rect x="621.3" y="287.0" width="14.9" height="26.0" fill="#555aa7"/>
<rect x="621.3" y="261.6" width="14.9" height="26.0" fill="#5160aa"/>
<rect x="621.3" y="210.6" width="14.9" height="51.5" fill="#5758a6"/>
<rect x="635.6" y="287.0" width="14.9" height="26.0" fill="#4f63ab"/>
<rect x="635.6" y="210.6" width="14.9" height="77.0" fill="#5160aa"/>
<rect x="649.9" y="287.0" width="14.9" height="26.0" fill="#4c66ad"/>
<rect x="649.9" y="261.6" width="14.9" height="26.0" fill="#4a69ae"/>
<rect x="649.9" y="236.1" width="14.9" height="26.0" fill="#4c66ad"/>
<rect x="649.9" y="210.6" width="14.9" height="26.0" fill="#4f63ab"/>
<rect x="664.2" y="287.0" width="14.9" height="26.0" fill="#4f63ab"/>
<rect x="664.2" y="261.6" width="14.9" height="26.0" fill="#4c66ad"/>
<rect x="664.2" y="236.1" width="14.9" height="26.0" fill="#4f63ab"/>
<rect x="664.2" y="210.6" width="14.9" height="26.0" fill="#5160aa"/>
<rect x="678.5" y="287.0" width="14.9" height="26.0" fill="#4f63ab"/>
<rect x="678.5" y="261.6" width="14.9" height="26.0" fill="#4c66ad"/>
<rect x="678.5" y="210.6" width="14.9" height="51.5" fill="#5160aa"/>
<rect x="692.8" y="287.0" width="14.9" height="26.0" fill="#5160aa"/>
<rect x="692.8" y="261.6" width="14.9" height="26.0" fill="#4f63ab"/>
<rect x="692.8" y="236.1" width="14.9" height="26.0" fill="#555aa7"/>
<rect x="692.8" y="210.6" width="14.9" height="26.0" fill="#5758a6"/>
<rect x="707.1" y="287.0" width="14.9" height="26.0" fill="#4c66ad"/>
<rect x="707.1" y="261.6" width="14.9" height="26.0" fill="#4471b2"/>
<rect x="707.1" y="236.1" width="14.9" height="26.0" fill="#5160aa"/>
<rect x="707.1" y="210.6" width="14.9" height="26.0" fill="#4c66ad"/>
<rect x="721.3" y="287.0" width="14.9" height="26.0" fill="#555aa7"/>
<rect x="721.3" y="236.1" width="14.9" height="51.5" fill="#5160aa"/>
<rect x="721.3" y="210.6" width="14.9" height="26.0" fill="#535da9"/>
<rect x="735.6" y="287.0" width="14.9" height="26.0" fill="#358bbc"/>
<rect x="735.6" y="236.1" width="14.9" height="51.5" fill="#3288bd"/>
<rect x="735.6" y="210.6" width="14.9" height="26.0" fill="#378ebb"/>
<rect x="749.9" y="287.0" width="14.9" height="26.0" fill="#3b7db8"/>
<rect x="749.9" y="261.6" width="14.9" height="26.0" fill="#3f77b5"/>
<rect x="749.9" y="236.1" width="14.9" height="26.0" fill="#4471b2"/>
<rect x="749.9" y="210.6" width="14.9" height="26.0" fill="#3f77b5"/>
<rect x="764.2" y="287.0" width="14.9" height="26.0" fill="#4471b2"/>
<rect x="764.2" y="261.6" width="14.9" height="26.0" fill="#3f77b5"/>
<rect x="764.2" y="236.1" width="14.9" height="26.0" fill="#4471b2"/>
<rect x="764.2" y="210.6" width="14.9" height="26.0" fill="#3b7db8"/>
<rect x="778.5" y="287.0" width="14.9" height="26.0" fill="#3b7db8"/>
<rect x="778.5" y="261.6" width="14.9" height="26.0" fill="#3682ba"/>
<rect x="778.5" y="236.1" width="14.9" height="26.0" fill="#3b7db8"/>
<rect x="778.5" y="210.6" width="14.9" height="26.0" fill="#3f77b5"/>
<rect x="792.8" y="287.0" width="14.9" height="26.0" fill="#3b7db8"/>
<rect x="792.8" y="261.6" width="14.9" height="26.0" fill="#3682ba"/>
<rect x="792.8" y="236.1" width="14.9" height="26.0" fill="#4471b2"/>
<rect x="792.8" y="210.6" width="14.9" height="26.0" fill="#3f77b5"/>
<rect x="807.1" y="261.6" width="14.9" height="51.5" fill="#3b7db8"/>
<rect x="807.1" y="236.1" width="14.9" height="26.0" fill="#3f77b5"/>
<rect x="807.1" y="210.6" width="14.9" height="26.0" fill="#3b7db8"/>
<rect x="821.3" y="287.0" width="14.9" height="26.0" fill="#466eb1"/>
<rect x="821.3" y="261.6" width="14.9" height="26.0" fill="#486cb0"/>
<rect x="821.3" y="236.1" width="14.9" height="26.0" fill="#4174b4"/>
<rect x="821.3" y="210.6" width="14.9" height="26.0" fill="#466eb1"/>
<rect x="835.6" y="261.6" width="14.9" height="51.5" fill="#3f77b5"/>
<rect x="835.6" y="210.6" width="14.9" height="51.5" fill="#4471b2"/>
<rect x="849.9" y="261.6" width="14.9" height="51.5" fill="#3f77b5"/>
<rect x="849.9" y="236.1" width="14.9" height="26.0" fill="#466eb1"/>
<rect x="849.9" y="210.6" width="14.9" height="26.0" fill="#486cb0"/>
<rect x="864.2" y="261.6" width="14.9" height="51.5" fill="#555aa7"/>
<rect x="864.2" y="210.6" width="14.9" height="51.5" fill="#5758a6"/>
<rect x="878.5" y="210.6" width="14.9" height="102.4" fill="#5a55a5"/>
<rect x="892.8" y="261.6" width="14.9" height="51.5" fill="#486cb0"/>
<rect x="892.8" y="236.1" width="14.9" height="26.0" fill="#4c66ad"/>
<rect x="892.8" y="210.6" width="14.9" height="26.0" fill="#466eb1"/>
<rect x="907.1" y="287.0" width="14.9" height="26.0" fill="#4c66ad"/>
<rect x="907.1" y="261.6" width="14.9" height="26.0" fill="#466eb1"/>
<rect x="907.1" y="236.1" width="14.9" height="26.0" fill="#5160aa"/>
<rect x="907.1" y="210.6" width="14.9" height="26.0" fill="#4c66ad"/>
<rect x="921.3" y="287.0" width="14.9" height="26.0" fill="#5160aa"/>
<rect x="921.3" y="261.6" width="14.9" height="26.0" fill="#4f63ab"/>
<rect x="921.3" y="236.1" width="14.9" height="26.0" fill="#5160aa"/>
<rect x="921.3" y="210.6" width="14.9" height="26.0" fill="#4f63ab"/>
<rect x="935.6" y="287.0" width="14.9" height="26.0" fill="#4471b2"/>
<rect x="935.6" y="265.8" width="14.9" height="21.7" fill="#466eb1"/>
<rect x="935.6" y="261.6" width="14.9" height="4.7" fill="#3c94b8"/>
<rect x="935.6" y="210.6" width="14.9" height="51.5" fill="#486cb0"/>
<rect x="949.9" y="261.6" width="14.9" height="51.5" fill="#5160aa"/>
<rect x="949.9" y="236.1" width="14.9" height="26.0" fill="#535da9"/>
<rect x="949.9" y="210.6" width="14.9" height="26.0" fill="#5160aa"/>
<rect x="964.2" y="261.6" width="14.9" height="51.5" fill="#5758a6"/>
<rect x="964.2" y="236.1" width="14.9" height="26.0" fill="#5a55a5"/>
<rect x="964.2" y="210.6" width="14.9" height="26.0" fill="#5758a6"/>
<rect x="978.5" y="304.0" width="14.9" height="9.0" fill="#555aa7"/>
<rect x="978.5" y="287.0" width="14.9" height="13.2" fill="#555aa7"/>
<rect x="978.5" y="265.8" width="14.9" height="21.7" fill="#535da9"/>
<rect x="978.5" y="261.6" width="14.9" height="4.7" fill="#4471b2"/>
<rect x="978.5" y="210.6" width="14.9" height="51.5" fill="#555aa7"/>
<rect x="992.8" y="210.6" width="14.9" height="102.4" fill="#5a55a5"/>
<rect x="1007.1" y="261.6" width="14.9" height="51.5" fill="#5160aa"/>
<rect x="1007.1" y="210.6" width="14.9" height="51.5" fill="#555aa7"/>
<rect x="1021.3" y="287.0" width="14.9" height="26.0" fill="#5a55a5"/>
<rect x="1021.3" y="261.6" width="14.9" height="26.0" fill="#5758a6"/>
<rect x="1021.3" y="210.6" width="14.9" height="51.5" fill="#5a55a5"/>
<rect x="1035.6" y="304.0" width="14.9" height="9.0" fill="#5758a6"/>
<rect x="1035.6" y="287.0" width="14.9" height="13.2" fill="#5758a6"/>
<rect x="1035.6" y="261.6" width="14.9" height="26.0" fill="#555aa7"/>
<rect x="1035.6" y="236.1" width="14.9" height="26.0" fill="#5758a6"/>
<rect x="1035.6" y="210.6" width="14.9" height="26.0" fill="#5a55a5"/>
<rect x="1049.9" y="287.0" width="14.9" height="26.0" fill="#3682ba"/>
<rect x="1049.9" y="261.6" width="14.9" height="26.0" fill="#3b7db8"/>
<rect x="1049.9" y="236.1" width="14.9" height="26.0" fill="#4471b2"/>
<rect x="1049.9" y="210.6" width="14.9" height="26.0" fill="#3b7db8"/>
<rect x="1064.2" y="308.3" width="14.9" height="4.7" fill="#3682ba"/>
<rect x="1064.2" y="287.0" width="14.9" height="17.5" fill="#3682ba"/>
<rect x="1064.2" y="261.6" width="14.9" height="26.0" fill="#378ebb"/>
<rect x="1064.2" y="236.1" width="14.9" height="26.0" fill="#486cb0"/>
<rect x="1064.2" y="210.6" width="14.9" height="26.0" fill="#3288bd"/>
<rect x="1078.5" y="270.1" width="14.9" height="43.0" fill="#4471b2"/>
<rect x="1078.5" y="261.6" width="14.9" height="4.7" fill="#4471b2"/>
<rect x="1078.5" y="236.1" width="14.9" height="26.0" fill="#5160aa"/>
<rect x="1078.5" y="210.6" width="14.9" height="26.0" fill="#4471b2"/>
<rect x="1092.8" y="287.0" width="14.9" height="26.0" fill="#4c66ad"/>
<rect x="1092.8" y="270.1" width="14.9" height="17.5" fill="#486cb0"/>
<rect x="1092.8" y="261.6" width="14.9" height="4.7" fill="#486cb0"/>
<rect x="1092.8" y="236.1" width="14.9" height="26.0" fill="#535da9"/>
<rect x="1092.8" y="210.6" width="14.9" height="26.0" fill="#4f63ab"/>
<rect x="1107.1" y="287.0" width="14.9" height="26.0" fill="#5a55a5"/>
<rect x="1107.1" y="261.6" width="14.9" height="26.0" fill="#5758a6"/>
<rect x="1107.1" y="210.6" width="14.9" height="51.5" fill="#5a55a5"/>
<rect x="1121.3" y="210.6" width="14.9" height="102.4" fill="#5160aa"/>
<rect x="1135.6" y="261.6" width="14.9" height="51.5" fill="#5a55a5"/>
<rect x="1135.6" y="236.1" width="14.9" height="26.0" fill="#5c52a3"/>
<rect x="1135.6" y="210.6" width="14.9" height="26.0" fill="#5a55a5"/>
<rect x="1149.9" y="210.6" width="14.9" height="102.4" fill="#5160aa"/>
<rect x="1164.2" y="261.6" width="14.9" height="51.5" fill="#5160aa"/>
<rect x="1164.2" y="236.1" width="14.9" height="26.0" fill="#4c66ad"/>
<rect x="1164.2" y="210.6" width="14.9" height="26.0" fill="#5160aa"/>
<rect x="1178.5" y="261.6" width="14.9" height="51.5" fill="#3682ba"/>
<rect x="1178.5" y="210.6" width="14.9" height="51.5" fill="#397fb9"/>
<rect x="1192.8" y="210.6" width="14.9" height="102.4" fill="#5758a6"/>
<rect x="1207.1" y="210.6" width="14.9" height="102.4" fill="#555aa7"/>
<rect x="1221.3" y="261.6" width="14.9" height="51.5" fill="#5758a6"/>
<rect x="1221.3" y="210.6" width="14.9" height="51.5" fill="#5a55a5"/>
<rect x="1235.6" y="261.6" width="14.9" height="51.5" fill="#5160aa"/>
<rect x="1235.6" y="210.6" width="14.9" height="51.5" fill="#486cb0"/>
<rect x="1249.9" y="287.0" width="14.9" height="26.0" fill="#4f63ab"/>
<rect x="1249.9" y="261.6" width="14.9" height="26.0" fill="#5160aa"/>
<rect x="1249.9" y="210.6" width="14.9" height="51.5" fill="#4f63ab"/>
<rect x="64.2" y="403.2" width="14.9" height="26.0" fill="#3f77b5"/>
<rect x="64.2" y="377.7" width="14.9" height="26.0" fill="#4471b2"/>
<rect x="64.2" y="352.2" width="14.9" height="26.0" fill="#555aa7"/>
<rect x="64.2" y="326.7" width="14.9" height="26.0" fill="#5a55a5"/>
<rect x="78.5" y="377.7" width="14.9" height="51.5" fill="#555aa7"/>
<rect x="78.5" y="352.2" width="14.9" height="26.0" fill="#4f63ab"/>
<rect x="78.5" y="326.7" width="14.9" height="26.0" fill="#4c66ad"/>
<rect x="92.8" y="377.7" width="14.9" height="51.5" fill="#5160aa"/>
<rect x="92.8" y="326.7" width="14.9" height="51.5" fill="#5758a6"/>
<rect x="107.1" y="403.2" width="14.9" height="26.0" fill="#4471b2"/>
<rect x="107.1" y="377.7" width="14.9" height="26.0" fill="#3f77b5"/>
<rect x="107.1" y="352.2" width="14.9" height="26.0" fill="#5160aa"/>
<rect x="107.1" y="326.7" width="14.9" height="26.0" fill="#555aa7"/>
<rect x="121.3" y="403.2" width="14.9" height="26.0" fill="#466eb1"/>
<rect x="121.3" y="377.7" width="14.9" height="26.0" fill="#3b7db8"/>
<rect x="121.3" y="352.2" width="14.9" height="26.0" fill="#535da9"/>
<rect x="121.3" y="326.7" width="14.9" height="26.0" fill="#5a55a5"/>
<rect x="135.6" y="377.7" width="14.9" height="51.5" fill="#4471b2"/>
<rect x="135.6" y="352.2" width="14.9" height="26.0" fill="#4c66ad"/>
<rect x="135.6" y="326.7" width="14.9" height="26.0" fill="#4f63ab"/>
<rect x="149.9" y="377.7" width="14.9" height="51.5" fill="#486cb0"/>
<rect x="149.9" y="326.7" width="14.9" height="51.5" fill="#4c66ad"/>
<rect x="164.2" y="377.7" width="14.9" height="51.5" fill="#5758a6"/>
<rect x="164.2" y="352.2" width="14.9" height="26.0" fill="#555aa7"/>
<rect x="164.2" y="326.7" width="14.9" height="26.0" fill="#5a55a5"/>
<rect x="178.5" y="403.2" width="14.9" height="26.0" fill="#5a55a5"/>
<rect x="178.5" y="377.7" width="14.9" height="26.0" fill="#555aa7"/>
<rect x="178.5" y="352.2" width="14.9" height="26.0" fill="#5a55a5"/>
<rect x="178.5" y="326.7" width="14.9" height="26.0" fill="#5c52a3"/>
<rect x="192.8" y="326.7" width="14.9" height="102.4" fill="#3b7db8"/>
<rect x="207.1" y="403.2" width="14.9" height="26.0" fill="#4c66ad"/>
<rect x="207.1" y="377.7" width="14.9" height="26.0" fill="#486cb0"/>
<rect x="207.1" y="352.2" width="14.9" height="26.0" fill="#5160aa"/>
<rect x="207.1" y="326.7" width="14.9" height="26.0" fill="#486cb0"/>
<rect x="221.3" y="403.2" width="14.9" height="26.0" fill="#466eb1"/>
<rect x="221.3" y="352.2" width="14.9" height="51.5" fill="#4471b2"/>
<rect x="221.3" y="326.7" width="14.9" height="26.0" fill="#3f77b5"/>
<rect x="235.6" y="403.2" width="14.9" height="26.0" fill="#3f77b5"/>
<rect x="235.6" y="377.7" width="14.9" height="26.0" fill="#3d7ab6"/>
<rect x="235.6" y="352.2" width="14.9" height="26.0" fill="#3f77b5"/>
<rect x="235.6" y="326.7" width="14.9" height="26.0" fill="#397fb9"/>
<rect x="249.9" y="377.7" width="14.9" height="51.5" fill="#4471b2"/>
<rect x="249.9" y="352.2" width="14.9" height="26.0" fill="#4c66ad"/>
<rect x="249.9" y="326.7" width="14.9" height="26.0" fill="#4471b2"/>
<rect x="264.2" y="403.2" width="14.9" height="26.0" fill="#3f77b5"/>
<rect x="264.2" y="394.7" width="14.9" height="9.0" fill="#3d7ab6"/>
<rect x="264.2" y="390.4" width="14.9" height="4.7" fill="#3288bd"/>
<rect x="264.2" y="386.2" width="14.9" height="4.7" fill="#3c94b8"/>
<rect x="264.2" y="381.9" width="14.9" height="4.7" fill="#61bca7"/>
<rect x="264.2" y="377.7" width="14.9" height="4.7" fill="#66c2a5"/>
<rect x="264.2" y="373.5" width="14.9" height="4.7" fill="#51abaf"/>
<rect x="264.2" y="369.2" width="14.9" height="4.7" fill="#3288bd"/>
<rect x="264.2" y="352.2" width="14.9" height="17.5" fill="#3d7ab6"/>
<rect x="264.2" y="348.0" width="14.9" height="4.7" fill="#3288bd"/>
<rect x="264.2" y="326.7" width="14.9" height="21.7" fill="#3d7ab6"/>
<rect x="278.5" y="403.2" width="14.9" height="26.0" fill="#3d7ab6"/>
<rect x="278.5" y="377.7" width="14.9" height="26.0" fill="#3b7db8"/>
<rect x="278.5" y="352.2" width="14.9" height="26.0" fill="#3d7ab6"/>
<rect x="278.5" y="326.7" width="14.9" height="26.0" fill="#3f77b5"/>
<rect x="292.8" y="403.2" width="14.9" height="26.0" fill="#3b7db8"/>
<rect x="292.8" y="377.7" width="14.9" height="26.0" fill="#3d7ab6"/>
<rect x="292.8" y="326.7" width="14.9" height="51.5" fill="#3f77b5"/>
<rect x="307.1" y="377.7" width="14.9" height="51.5" fill="#5160aa"/>
<rect x="307.1" y="326.7" width="14.9" height="51.5" fill="#555aa7"/>
<rect x="321.3" y="420.2" width="14.9" height="9.0" fill="#3b7db8"/>
<rect x="321.3" y="415.9" width="14.9" height="4.7" fill="#4ca5b1"/>
<rect x="321.3" y="403.2" width="14.9" height="13.2" fill="#3b7db8"/>
<rect x="321.3" y="326.7" width="14.9" height="77.0" fill="#3f77b5"/>
<rect x="335.6" y="424.4" width="14.9" height="4.7" fill="#5cb6aa"/>
<rect x="335.6" y="420.2" width="14.9" height="4.7" fill="#3c94b8"/>
<rect x="335.6" y="415.9" width="14.9" height="4.7" fill="#66c2a5"/>
<rect x="335.6" y="411.7" width="14.9" height="4.7" fill="#8fd2a4"/>
<rect x="335.6" y="407.4" width="14.9" height="4.7" fill="#56b1ac"/>
<rect x="335.6" y="403.2" width="14.9" height="4.7" fill="#c3e79f"/>
<rect x="335.6" y="398.9" width="14.9" height="4.7" fill="#51abaf"/>
<rect x="335.6" y="394.7" width="14.9" height="4.7" fill="#5cb6aa"/>
<rect x="335.6" y="390.4" width="14.9" height="4.7" fill="#8fd2a4"/>
<rect x="335.6" y="386.2" width="14.9" height="4.7" fill="#b7e2a2"/>
<rect x="335.6" y="381.9" width="14.9" height="4.7" fill="#82cda5"/>
<rect x="335.6" y="377.7" width="14.9" height="4.7" fill="#74c7a5"/>
<rect x="335.6" y="373.5" width="14.9" height="4.7" fill="#4ca5b1"/>
<rect x="335.6" y="369.2" width="14.9" height="4.7" fill="#4299b6"/>
<rect x="335.6" y="365.0" width="14.9" height="4.7" fill="#66c2a5"/>
<rect x="335.6" y="360.7" width="14.9" height="4.7" fill="#6dc5a5"/>
<rect x="335.6" y="356.5" width="14.9" height="4.7" fill="#479fb3"/>
<rect x="335.6" y="352.2" width="14.9" height="4.7" fill="#5cb6aa"/>
<rect x="335.6" y="348.0" width="14.9" height="4.7" fill="#66c2a5"/>
<rect x="335.6" y="343.7" width="14.9" height="4.7" fill="#5cb6aa"/>
<rect x="335.6" y="339.5" width="14.9" height="4.7" fill="#4299b6"/>
<rect x="335.6" y="335.2" width="14.9" height="4.7" fill="#3288bd"/>
<rect x="335.6" y="331.0" width="14.9" height="4.7" fill="#abdda4"/>
<rect x="335.6" y="326.7" width="14.9" height="4.7" fill="#b1dfa3"/>
<rect x="364.2" y="403.2" width="14.9" height="26.0" fill="#5a55a5"/>
<rect x="364.2" y="377.7" width="14.9" height="26.0" fill="#555aa7"/>
<rect x="364.2" y="352.2" width="14.9" height="26.0" fill="#5160aa"/>
<rect x="364.2" y="326.7" width="14.9" height="26.0" fill="#555aa7"/>
<rect x="378.5" y="403.2" width="14.9" height="26.0" fill="#486cb0"/>
<rect x="378.5" y="377.7" width="14.9" height="26.0" fill="#3b7db8"/>
<rect x="378.5" y="352.2" width="14.9" height="26.0" fill="#486cb0"/>
<rect x="378.5" y="326.7" width="14.9" height="26.0" fill="#3f77b5"/>
<rect x="392.8" y="377.7" width="14.9" height="51.5" fill="#5160aa"/>
<rect x="392.8" y="352.2" width="14.9" height="26.0" fill="#5a55a5"/>
<rect x="392.8" y="326.7" width="14.9" height="26.0" fill="#555aa7"/>
<rect x="407.1" y="403.2" width="14.9" height="26.0" fill="#466eb1"/>
<rect x="407.1" y="377.7" width="14.9" height="26.0" fill="#3f77b5"/>
<rect x="407.1" y="352.2" width="14.9" height="26.0" fill="#4471b2"/>
<rect x="407.1" y="326.7" width="14.9" height="26.0" fill="#486cb0"/>
<rect x="421.3" y="403.2" width="14.9" height="26.0" fill="#5a55a5"/>
<rect x="421.3" y="377.7" width="14.9" height="26.0" fill="#5160aa"/>
<rect x="421.3" y="326.7" width="14.9" height="51.5" fill="#5c52a3"/>
<rect x="435.6" y="326.7" width="14.9" height="102.4" fill="#5c52a3"/>
<rect x="449.9" y="403.2" width="14.9" height="26.0" fill="#5c52a3"/>
<rect x="449.9" y="377.7" width="14.9" height="26.0" fill="#5758a6"/>
<rect x="449.9" y="352.2" width="14.9" height="26.0" fill="#5a55a5"/>
<rect x="449.9" y="326.7" width="14.9" height="26.0" fill="#5c52a3"/>
<rect x="464.2" y="326.7" width="14.9" height="102.4" fill="#5c52a3"/>
<rect x="478.5" y="403.2" width="14.9" height="26.0" fill="#5a55a5"/>
<rect x="478.5" y="377.7" width="14.9" height="26.0" fill="#5758a6"/>
<rect x="478.5" y="326.7" width="14.9" height="51.5" fill="#5c52a3"/>
<rect x="492.8" y="326.7" width="14.9" height="102.4" fill="#5c52a3"/>
<rect x="507.1" y="326.7" width="14.9" height="102.4" fill="#5c52a3"/>
<rect x="521.3" y="403.2" width="14.9" height="26.0" fill="#5a55a5"/>
<rect x="521.3" y="377.7" width="14.9" height="26.0" fill="#5160aa"/>
<rect x="521.3" y="326.7" width="14.9" height="51.5" fill="#5c52a3"/>
<rect x="535.6" y="403.2" width="14.9" height="26.0" fill="#5a55a5"/>
<rect x="535.6" y="377.7" width="14.9" height="26.0" fill="#4c66ad"/>
<rect x="535.6" y="352.2" width="14.9" height="26.0" fill="#5a55a5"/>
<rect x="535.6" y="326.7" width="14.9" height="26.0" fill="#5758a6"/>
<rect x="549.9" y="403.2" width="14.9" height="26.0" fill="#5a55a5"/>
<rect x="549.9" y="377.7" width="14.9" height="26.0" fill="#4f63ab"/>
<rect x="549.9" y="352.2" width="14.9" height="26.0" fill="#5758a6"/>
<rect x="549.9" y="326.7" width="14.9" height="26.0" fill="#486cb0"/>
<rect x="564.2" y="403.2" width="14.9" height="26.0" fill="#5a55a5"/>
<rect x="564.2" y="377.7" width="14.9" height="26.0" fill="#4a69ae"/>
<rect x="564.2" y="352.2" width="14.9" height="26.0" fill="#5758a6"/>
<rect x="564.2" y="326.7" width="14.9" height="26.0" fill="#4f63ab"/>
<rect x="578.5" y="403.2" width="14.9" height="26.0" fill="#4a69ae"/>
<rect x="578.5" y="377.7" width="14.9" height="26.0" fill="#4471b2"/>
<rect x="578.5" y="352.2" width="14.9" height="26.0" fill="#4c66ad"/>
<rect x="578.5" y="326.7" width="14.9" height="26.0" fill="#466eb1"/>
<rect x="592.8" y="403.2" width="14.9" height="26.0" fill="#4f63ab"/>
<rect x="592.8" y="377.7" width="14.9" height="26.0" fill="#486cb0"/>
<rect x="592.8" y="352.2" width="14.9" height="26.0" fill="#535da9"/>
<rect x="592.8" y="326.7" width="14.9" height="26.0" fill="#486cb0"/>
<rect x="607.1" y="403.2" width="14.9" height="26.0" fill="#3d7ab6"/>
<rect x="607.1" y="377.7" width="14.9" height="26.0" fill="#3b7db8"/>
<rect x="607.1" y="352.2" width="14.9" height="26.0" fill="#3d7ab6"/>
<rect x="607.1" y="326.7" width="14.9" height="26.0" fill="#3b7db8"/>
<rect x="621.3" y="377.7" width="14.9" height="51.5" fill="#397fb9"/>
<rect x="621.3" y="352.2" width="14.9" height="26.0" fill="#3b7db8"/>
<rect x="621.3" y="326.7" width="14.9" height="26.0" fill="#397fb9"/>
<rect x="635.6" y="326.7" width="14.9" height="102.4" fill="#5c52a3"/>
<rect x="649.9" y="326.7" width="14.9" height="102.4" fill="#5c52a3"/>
<rect x="664.2" y="326.7" width="14.9" height="102.4" fill="#5c52a3"/>
<rect x="678.5" y="326.7" width="14.9" height="102.4" fill="#5c52a3"/>
<rect x="692.8" y="326.7" width="14.9" height="102.4" fill="#5c52a3"/>
<rect x="707.1" y="326.7" width="14.9" height="102.4" fill="#5c52a3"/>
<rect x="721.3" y="326.7" width="14.9" height="102.4" fill="#5c52a3"/>
<rect x="735.6" y="326.7" width="14.9" height="102.4" fill="#5c52a3"/>
<rect x="749.9" y="403.2" width="14.9" height="26.0" fill="#5758a6"/>
<rect x="749.9" y="377.7" width="14.9" height="26.0" fill="#4c66ad"/>
<rect x="749.9" y="326.7" width="14.9" height="51.5" fill="#5758a6"/>
<rect x="764.2" y="403.2" width="14.9" height="26.0" fill="#5758a6"/>
<rect x="764.2" y="377.7" width="14.9" height="26.0" fill="#4c66ad"/>
<rect x="764.2" y="352.2" width="14.9" height="26.0" fill="#5758a6"/>
<rect x="764.2" y="326.7" width="14.9" height="26.0" fill="#555aa7"/>
<rect x="778.5" y="403.2" width="14.9" height="26.0" fill="#5a55a5"/>
<rect x="778.5" y="377.7" width="14.9" height="26.0" fill="#5160aa"/>
<rect x="778.5" y="326.7" width="14.9" height="51.5" fill="#5a55a5"/>
<rect x="792.8" y="326.7" width="14.9" height="102.4" fill="#5c52a3"/>
<rect x="807.1" y="326.7" width="14.9" height="102.4" fill="#5c52a3"/>
<rect x="821.3" y="377.7" width="14.9" height="51.5" fill="#466eb1"/>
<rect x="821.3" y="326.7" width="14.9" height="51.5" fill="#4a69ae"/>
<rect x="835.6" y="377.7" width="14.9" height="51.5" fill="#397fb9"/>
<rect x="835.6" y="352.2" width="14.9" height="26.0" fill="#4c66ad"/>
<rect x="835.6" y="326.7" width="14.9" height="26.0" fill="#4a69ae"/>
<rect x="849.9" y="403.2" width="14.9" height="26.0" fill="#4a69ae"/>
<rect x="849.9" y="377.7" width="14.9" height="26.0" fill="#466eb1"/>
<rect x="849.9" y="352.2" width="14.9" height="26.0" fill="#5758a6"/>
<rect x="849.9" y="326.7" width="14.9" height="26.0" fill="#5160aa"/>
<rect x="864.2" y="326.7" width="14.9" height="102.4" fill="#5a55a5"/>
<rect x="878.5" y="403.2" width="14.9" height="26.0" fill="#4a69ae"/>
<rect x="878.5" y="377.7" width="14.9" height="26.0" fill="#4174b4"/>
<rect x="878.5" y="352.2" width="14.9" height="26.0" fill="#5160aa"/>
<rect x="878.5" y="326.7" width="14.9" height="26.0" fill="#486cb0"/>
<rect x="892.8" y="403.2" width="14.9" height="26.0" fill="#466eb1"/>
<rect x="892.8" y="377.7" width="14.9" height="26.0" fill="#4471b2"/>
<rect x="892.8" y="352.2" width="14.9" height="26.0" fill="#5160aa"/>
<rect x="892.8" y="326.7" width="14.9" height="26.0" fill="#466eb1"/>
<rect x="907.1" y="326.7" width="14.9" height="102.4" fill="#5a55a5"/>
<rect x="921.3" y="403.2" width="14.9" height="26.0" fill="#4c66ad"/>
<rect x="921.3" y="377.7" width="14.9" height="26.0" fill="#4471b2"/>
<rect x="921.3" y="352.2" width="14.9" height="26.0" fill="#5160aa"/>
<rect x="921.3" y="326.7" width="14.9" height="26.0" fill="#4471b2"/>
<rect x="935.6" y="326.7" width="14.9" height="102.4" fill="#5c52a3"/>
<rect x="949.9" y="326.7" width="14.9" height="102.4" fill="#5c52a3"/>
<rect x="964.2" y="326.7" width="14.9" height="102.4" fill="#5c52a3"/>
<rect x="978.5" y="326.7" width="14.9" height="102.4" fill="#5c52a3"/>
<rect x="992.8" y="326.7" width="14.9" height="102.4" fill="#5c52a3"/>
<rect x="1007.1" y="326.7" width="14.9" height="102.4" fill="#5c52a3"/>
<rect x="1021.3" y="326.7" width="14.9" height="102.4" fill="#5c52a3"/>
<rect x="1035.6" y="326.7" width="14.9" height="102.4" fill="#5c52a3"/>
<rect x="1049.9" y="403.2" width="14.9" height="26.0" fill="#5a55a5"/>
<rect x="1049.9" y="377.7" width="14.9" height="26.0" fill="#4a69ae"/>
<rect x="1049.9" y="352.2" width="14.9" height="26.0" fill="#535da9"/>
<rect x="1049.9" y="326.7" width="14.9" height="26.0" fill="#5c52a3"/>
<rect x="1064.2" y="403.2" width="14.9" height="26.0" fill="#5a55a5"/>
<rect x="1064.2" y="377.7" width="14.9" height="26.0" fill="#5160aa"/>
<rect x="1064.2" y="352.2" width="14.9" height="26.0" fill="#5a55a5"/>
<rect x="1064.2" y="326.7" width="14.9" height="26.0" fill="#5160aa"/>
<rect x="1078.5" y="403.2" width="14.9" height="26.0" fill="#5a55a5"/>
<rect x="1078.5" y="377.7" width="14.9" height="26.0" fill="#5758a6"/>
<rect x="1078.5" y="352.2" width="14.9" height="26.0" fill="#5a55a5"/>
<rect x="1078.5" y="326.7" width="14.9" height="26.0" fill="#535da9"/>
<rect x="1092.8" y="403.2" width="14.9" height="26.0" fill="#555aa7"/>
<rect x="1092.8" y="377.7" width="14.9" height="26.0" fill="#486cb0"/>
<rect x="1092.8" y="352.2" width="14.9" height="26.0" fill="#5a55a5"/>
<rect x="1092.8" y="326.7" width="14.9" height="26.0" fill="#486cb0"/>
<rect x="1107.1" y="403.2" width="14.9" height="26.0" fill="#5a55a5"/>
<rect x="1107.1" y="377.7" width="14.9" height="26.0" fill="#5160aa"/>
<rect x="1107.1" y="326.7" width="14.9" height="51.5" fill="#5a55a5"/>
<rect x="1121.3" y="403.2" width="14.9" height="26.0" fill="#5c52a3"/>
<rect x="1121.3" y="377.7" width="14.9" height="26.0" fill="#535da9"/>
<rect x="1121.3" y="326.7" width="14.9" height="51.5" fill="#5c52a3"/>
<rect x="1135.6" y="326.7" width="14.9" height="102.4" fill="#5c52a3"/>
<rect x="1149.9" y="326.7" width="14.9" height="102.4" fill="#5c52a3"/>
<rect x="1164.2" y="326.7" width="14.9" height="102.4" fill="#5c52a3"/>
<rect x="1178.5" y="403.2" width="14.9" height="26.0" fill="#5758a6"/>
<rect x="1178.5" y="326.7" width="14.9" height="77.0" fill="#5c52a3"/>
<rect x="1192.8" y="403.2" width="14.9" height="26.0" fill="#555aa7"/>
<rect x="1192.8" y="377.7" width="14.9" height="26.0" fill="#5c52a3"/>
<rect x="1192.8" y="352.2" width="14.9" height="26.0" fill="#5a55a5"/>
<rect x="1192.8" y="326.7" width="14.9" height="26.0" fill="#5c52a3"/>
<rect x="1207.1" y="326.7" width="14.9" height="102.4" fill="#5c52a3"/>
<rect x="1221.3" y="403.2" width="14.9" height="26.0" fill="#5c52a3"/>
<rect x="1221.3" y="377.7" width="14.9" height="26.0" fill="#555aa7"/>
<rect x="1221.3" y="326.7" width="14.9" height="51.5" fill="#5c52a3"/>
<rect x="1235.6" y="403.2" width="14.9" height="26.0" fill="#5c52a3"/>
<rect x="1235.6" y="377.7" width="14.9" height="26.0" fill="#5160aa"/>
<rect x="1235.6" y="352.2" width="14.9" height="26.0" fill="#5c52a3"/>
<rect x="1235.6" y="326.7" width="14.9" height="26.0" fill="#5758a6"/>
<rect x="1249.9" y="352.2" width="14.9" height="77.0" fill="#5a55a5"/>
<rect x="1249.9" y="326.7" width="14.9" height="26.0" fill="#5160aa"/>
<rect x="64.2" y="519.3" width="14.9" height="26.0" fill="#5a55a5"/>
<rect x="64.2" y="493.8" width="14.9" height="26.0" fill="#4a69ae"/>
<rect x="64.2" y="468.4" width="14.9" height="26.0" fill="#5a55a5"/>
<rect x="64.2" y="442.9" width="14.9" height="26.0" fill="#4a69ae"/>
<rect x="78.5" y="442.9" width="14.9" height="102.4" fill="#5c52a3"/>
<rect x="92.8" y="442.9" width="14.9" height="102.4" fill="#5c52a3"/>
<rect x="107.1" y="442.9" width="14.9" height="102.4" fill="#5c52a3"/>
<rect x="121.3" y="442.9" width="14.9" height="102.4" fill="#5c52a3"/>
<rect x="135.6" y="493.8" width="14.9" height="51.5" fill="#4a69ae"/>
<rect x="135.6" y="468.4" width="14.9" height="26.0" fill="#5160aa"/>
<rect x="135.6" y="442.9" width="14.9" height="26.0" fill="#5758a6"/>
<rect x="149.9" y="493.8" width="14.9" height="51.5" fill="#4f63ab"/>
<rect x="149.9" y="468.4" width="14.9" height="26.0" fill="#555aa7"/>
<rect x="149.9" y="442.9" width="14.9" height="26.0" fill="#5758a6"/>
<rect x="164.2" y="519.3" width="14.9" height="26.0" fill="#3485bc"/>
<rect x="164.2" y="493.8" width="14.9" height="26.0" fill="#3288bd"/>
<rect x="164.2" y="442.9" width="14.9" height="51.5" fill="#3682ba"/>
<rect x="178.5" y="442.9" width="14.9" height="102.4" fill="#5a55a5"/>
<rect x="192.8" y="519.3" width="14.9" height="26.0" fill="#4a69ae"/>
<rect x="192.8" y="493.8" width="14.9" height="26.0" fill="#466eb1"/>
<rect x="192.8" y="468.4" width="14.9" height="26.0" fill="#555aa7"/>
<rect x="192.8" y="442.9" width="14.9" height="26.0" fill="#5160aa"/>
<rect x="207.1" y="442.9" width="14.9" height="102.4" fill="#5c52a3"/>
<rect x="221.3" y="519.3" width="14.9" height="26.0" fill="#535da9"/>
<rect x="221.3" y="493.8" width="14.9" height="26.0" fill="#466eb1"/>
<rect x="221.3" y="468.4" width="14.9" height="26.0" fill="#5758a6"/>
<rect x="221.3" y="442.9" width="14.9" height="26.0" fill="#4174b4"/>
<rect x="235.6" y="519.3" width="14.9" height="26.0" fill="#5a55a5"/>
<rect x="235.6" y="493.8" width="14.9" height="26.0" fill="#5160aa"/>
<rect x="235.6" y="468.4" width="14.9" height="26.0" fill="#5c52a3"/>
<rect x="235.6" y="442.9" width="14.9" height="26.0" fill="#5758a6"/>
<rect x="249.9" y="519.3" width="14.9" height="26.0" fill="#5a55a5"/>
<rect x="249.9" y="493.8" width="14.9" height="26.0" fill="#5160aa"/>
<rect x="249.9" y="468.4" width="14.9" height="26.0" fill="#5c52a3"/>
<rect x="249.9" y="442.9" width="14.9" height="26.0" fill="#5a55a5"/>
<rect x="264.2" y="519.3" width="14.9" height="26.0" fill="#5758a6"/>
<rect x="264.2" y="493.8" width="14.9" height="26.0" fill="#5160aa"/>
<rect x="264.2" y="468.4" width="14.9" height="26.0" fill="#5a55a5"/>
<rect x="264.2" y="442.9" width="14.9" height="26.0" fill="#5758a6"/>
<rect x="278.5" y="519.3" width="14.9" height="26.0" fill="#3c94b8"/>
<rect x="278.5" y="493.8" width="14.9" height="26.0" fill="#4299b6"/>
<rect x="278.5" y="442.9" width="14.9" height="51.5" fill="#378ebb"/>
<rect x="292.8" y="442.9" width="14.9" height="102.4" fill="#486cb0"/>
<rect x="307.1" y="519.3" width="14.9" height="26.0" fill="#3d7ab6"/>
<rect x="307.1" y="493.8" width="14.9" height="26.0" fill="#3b7db8"/>
<rect x="307.1" y="442.9" width="14.9" height="51.5" fill="#3f77b5"/>
<rect x="321.3" y="442.9" width="14.9" height="102.4" fill="#5a55a5"/>
<rect x="335.6" y="519.3" width="14.9" height="26.0" fill="#358bbc"/>
<rect x="335.6" y="493.8" width="14.9" height="26.0" fill="#378ebb"/>
<rect x="335.6" y="468.4" width="14.9" height="26.0" fill="#3288bd"/>
<rect x="335.6" y="442.9" width="14.9" height="26.0" fill="#3485bc"/>
<rect x="349.9" y="519.3" width="14.9" height="26.0" fill="#59b4ab"/>
<rect x="349.9" y="493.8" width="14.9" height="26.0" fill="#5cb6aa"/>
<rect x="349.9" y="468.4" width="14.9" height="26.0" fill="#56b1ac"/>
<rect x="349.9" y="442.9" width="14.9" height="26.0" fill="#51abaf"/>
<rect x="364.2" y="519.3" width="14.9" height="26.0" fill="#486cb0"/>
<rect x="364.2" y="493.8" width="14.9" height="26.0" fill="#4174b4"/>
<rect x="364.2" y="468.4" width="14.9" height="26.0" fill="#4c66ad"/>
<rect x="364.2" y="442.9" width="14.9" height="26.0" fill="#486cb0"/>
<rect x="378.5" y="519.3" width="14.9" height="26.0" fill="#5a55a5"/>
<rect x="378.5" y="493.8" width="14.9" height="26.0" fill="#535da9"/>
<rect x="378.5" y="468.4" width="14.9" height="26.0" fill="#5a55a5"/>
<rect x="378.5" y="442.9" width="14.9" height="26.0" fill="#5160aa"/>
<rect x="392.8" y="519.3" width="14.9" height="26.0" fill="#5a55a5"/>
<rect x="392.8" y="493.8" width="14.9" height="26.0" fill="#5758a6"/>
<rect x="392.8" y="468.4" width="14.9" height="26.0" fill="#5c52a3"/>
<rect x="392.8" y="442.9" width="14.9" height="26.0" fill="#555aa7"/>
<rect x="407.1" y="519.3" width="14.9" height="26.0" fill="#5c52a3"/>
<rect x="407.1" y="493.8" width="14.9" height="26.0" fill="#535da9"/>
<rect x="407.1" y="468.4" width="14.9" height="26.0" fill="#5c52a3"/>
<rect x="407.1" y="442.9" width="14.9" height="26.0" fill="#466eb1"/>
<rect x="421.3" y="519.3" width="14.9" height="26.0" fill="#5c52a3"/>
<rect x="421.3" y="493.8" width="14.9" height="26.0" fill="#555aa7"/>
<rect x="421.3" y="442.9" width="14.9" height="51.5" fill="#5c52a3"/>
<rect x="435.6" y="442.9" width="14.9" height="102.4" fill="#5a55a5"/>
<rect x="449.9" y="519.3" width="14.9" height="26.0" fill="#397fb9"/>
<rect x="449.9" y="493.8" width="14.9" height="26.0" fill="#3682ba"/>
<rect x="449.9" y="442.9" width="14.9" height="51.5" fill="#397fb9"/>
<rect x="464.2" y="519.3" width="14.9" height="26.0" fill="#5a55a5"/>
<rect x="464.2" y="493.8" width="14.9" height="26.0" fill="#5758a6"/>
<rect x="464.2" y="442.9" width="14.9" height="51.5" fill="#5a55a5"/>
<rect x="478.5" y="519.3" width="14.9" height="26.0" fill="#555aa7"/>
<rect x="478.5" y="493.8" width="14.9" height="26.0" fill="#5160aa"/>
<rect x="478.5" y="442.9" width="14.9" height="51.5" fill="#555aa7"/>
<rect x="492.8" y="493.8" width="14.9" height="51.5" fill="#4f63ab"/>
<rect x="492.8" y="442.9" width="14.9" height="51.5" fill="#535da9"/>
<rect x="507.1" y="519.3" width="14.9" height="26.0" fill="#535da9"/>
<rect x="507.1" y="493.8" width="14.9" height="26.0" fill="#555aa7"/>
<rect x="507.1" y="468.4" width="14.9" height="26.0" fill="#5a55a5"/>
<rect x="507.1" y="442.9" width="14.9" height="26.0" fill="#5160aa"/>
<rect x="521.3" y="519.3" width="14.9" height="26.0" fill="#4c66ad"/>
<rect x="521.3" y="493.8" width="14.9" height="26.0" fill="#4a69ae"/>
<rect x="521.3" y="468.4" width="14.9" height="26.0" fill="#5a55a5"/>
<rect x="521.3" y="442.9" width="14.9" height="26.0" fill="#5160aa"/>
<rect x="535.6" y="519.3" width="14.9" height="26.0" fill="#486cb0"/>
<rect x="535.6" y="493.8" width="14.9" height="26.0" fill="#466eb1"/>
<rect x="535.6" y="468.4" width="14.9" height="26.0" fill="#4c66ad"/>
<rect x="535.6" y="442.9" width="14.9" height="26.0" fill="#3f77b5"/>
<rect x="549.9" y="519.3" width="14.9" height="26.0" fill="#3682ba"/>
<rect x="549.9" y="493.8" width="14.9" height="26.0" fill="#3c94b8"/>
<rect x="549.9" y="468.4" width="14.9" height="26.0" fill="#3b7db8"/>
<rect x="549.9" y="442.9" width="14.9" height="26.0" fill="#378ebb"/>
<rect x="564.2" y="519.3" width="14.9" height="26.0" fill="#3288bd"/>
<rect x="564.2" y="493.8" width="14.9" height="26.0" fill="#4ca5b1"/>
<rect x="564.2" y="468.4" width="14.9" height="26.0" fill="#3682ba"/>
<rect x="564.2" y="442.9" width="14.9" height="26.0" fill="#479fb3"/>
<rect x="578.5" y="519.3" width="14.9" height="26.0" fill="#466eb1"/>
<rect x="578.5" y="493.8" width="14.9" height="26.0" fill="#4174b4"/>
<rect x="578.5" y="468.4" width="14.9" height="26.0" fill="#486cb0"/>
<rect x="578.5" y="442.9" width="14.9" height="26.0" fill="#3f77b5"/>
<rect x="592.8" y="442.9" width="14.9" height="102.4" fill="#5a55a5"/>
<rect x="607.1" y="442.9" width="14.9" height="102.4" fill="#5c52a3"/>
<rect x="621.3" y="442.9" width="14.9" height="102.4" fill="#5c52a3"/>
<rect x="635.6" y="442.9" width="14.9" height="102.4" fill="#5c52a3"/>
<rect x="649.9" y="519.3" width="14.9" height="26.0" fill="#3d7ab6"/>
<rect x="649.9" y="493.8" width="14.9" height="26.0" fill="#4471b2"/>
<rect x="649.9" y="468.4" width="14.9" height="26.0" fill="#4c66ad"/>
<rect x="649.9" y="442.9" width="14.9" height="26.0" fill="#4a69ae"/>
<rect x="664.2" y="519.3" width="14.9" height="26.0" fill="#4c66ad"/>
<rect x="664.2" y="498.1" width="14.9" height="21.7" fill="#4a69ae"/>
<rect x="664.2" y="493.8" width="14.9" height="4.7" fill="#3288bd"/>
<rect x="664.2" y="468.4" width="14.9" height="26.0" fill="#5160aa"/>
<rect x="664.2" y="442.9" width="14.9" height="26.0" fill="#555aa7"/>
<rect x="678.5" y="442.9" width="14.9" height="102.4" fill="#5c52a3"/>
<rect x="692.8" y="442.9" width="14.9" height="102.4" fill="#5c52a3"/>
<rect x="707.1" y="442.9" width="14.9" height="102.4" fill="#5c52a3"/>
<rect x="721.3" y="519.3" width="14.9" height="26.0" fill="#4c66ad"/>
<rect x="721.3" y="493.8" width="14.9" height="26.0" fill="#4471b2"/>
<rect x="721.3" y="468.4" width="14.9" height="26.0" fill="#555aa7"/>
<rect x="721.3" y="442.9" width="14.9" height="26.0" fill="#486cb0"/>
<rect x="735.6" y="519.3" width="14.9" height="26.0" fill="#486cb0"/>
<rect x="735.6" y="493.8" width="14.9" height="26.0" fill="#3b7db8"/>
<rect x="735.6" y="468.4" width="14.9" height="26.0" fill="#4a69ae"/>
<rect x="735.6" y="442.9" width="14.9" height="26.0" fill="#3b7db8"/>
<rect x="749.9" y="519.3" width="14.9" height="26.0" fill="#5a55a5"/>
<rect x="749.9" y="493.8" width="14.9" height="26.0" fill="#4c66ad"/>
<rect x="749.9" y="468.4" width="14.9" height="26.0" fill="#5a55a5"/>
<rect x="749.9" y="442.9" width="14.9" height="26.0" fill="#486cb0"/>
<rect x="764.2" y="442.9" width="14.9" height="102.4" fill="#5c52a3"/>
<rect x="778.5" y="519.3" width="14.9" height="26.0" fill="#5c52a3"/>
<rect x="778.5" y="468.4" width="14.9" height="51.5" fill="#4c66ad"/>
<rect x="778.5" y="442.9" width="14.9" height="26.0" fill="#5c52a3"/>
<rect x="792.8" y="442.9" width="14.9" height="102.4" fill="#5c52a3"/>
<rect x="807.1" y="519.3" width="14.9" height="26.0" fill="#4174b4"/>
<rect x="807.1" y="493.8" width="14.9" height="26.0" fill="#397fb9"/>
<rect x="807.1" y="442.9" width="14.9" height="51.5" fill="#486cb0"/>
<rect x="821.3" y="493.8" width="14.9" height="51.5" fill="#397fb9"/>
<rect x="821.3" y="468.4" width="14.9" height="26.0" fill="#3f77b5"/>
<rect x="821.3" y="442.9" width="14.9" height="26.0" fill="#3d7ab6"/>
<rect x="835.6" y="442.9" width="14.9" height="102.4" fill="#5160aa"/>
<rect x="849.9" y="442.9" width="14.9" height="102.4" fill="#5c52a3"/>
<rect x="864.2" y="442.9" width="14.9" height="102.4" fill="#5c52a3"/>
<rect x="878.5" y="519.3" width="14.9" height="26.0" fill="#5c52a3"/>
<rect x="878.5" y="493.8" width="14.9" height="26.0" fill="#5160aa"/>
<rect x="878.5" y="442.9" width="14.9" height="51.5" fill="#5c52a3"/>
<rect x="892.8" y="519.3" width="14.9" height="26.0" fill="#486cb0"/>
<rect x="892.8" y="493.8" width="14.9" height="26.0" fill="#4174b4"/>
<rect x="892.8" y="468.4" width="14.9" height="26.0" fill="#5758a6"/>
<rect x="892.8" y="442.9" width="14.9" height="26.0" fill="#3f77b5"/>
<rect x="907.1" y="519.3" width="14.9" height="26.0" fill="#4a69ae"/>
<rect x="907.1" y="493.8" width="14.9" height="26.0" fill="#4471b2"/>
<rect x="907.1" y="468.4" width="14.9" height="26.0" fill="#5758a6"/>
<rect x="907.1" y="442.9" width="14.9" height="26.0" fill="#3f77b5"/>
<rect x="921.3" y="519.3" width="14.9" height="26.0" fill="#5758a6"/>
<rect x="921.3" y="493.8" width="14.9" height="26.0" fill="#486cb0"/>
<rect x="921.3" y="468.4" width="14.9" height="26.0" fill="#5758a6"/>
<rect x="921.3" y="442.9" width="14.9" height="26.0" fill="#486cb0"/>
<rect x="935.6" y="442.9" width="14.9" height="102.4" fill="#5c52a3"/>
<rect x="949.9" y="519.3" width="14.9" height="26.0" fill="#5a55a5"/>
<rect x="949.9" y="493.8" width="14.9" height="26.0" fill="#555aa7"/>
<rect x="949.9" y="442.9" width="14.9" height="51.5" fill="#5a55a5"/>
<rect x="964.2" y="519.3" width="14.9" height="26.0" fill="#4a69ae"/>
<rect x="964.2" y="493.8" width="14.9" height="26.0" fill="#4471b2"/>
<rect x="964.2" y="468.4" width="14.9" height="26.0" fill="#535da9"/>
<rect x="964.2" y="442.9" width="14.9" height="26.0" fill="#555aa7"/>
<rect x="978.5" y="519.3" width="14.9" height="26.0" fill="#4471b2"/>
<rect x="978.5" y="493.8" width="14.9" height="26.0" fill="#466eb1"/>
<rect x="978.5" y="442.9" width="14.9" height="51.5" fill="#5160aa"/>
<rect x="992.8" y="442.9" width="14.9" height="102.4" fill="#5c52a3"/>
<rect x="1007.1" y="493.8" width="14.9" height="51.5" fill="#555aa7"/>
<rect x="1007.1" y="442.9" width="14.9" height="51.5" fill="#5c52a3"/>
<rect x="1021.3" y="442.9" width="14.9" height="102.4" fill="#5c52a3"/>
<rect x="1035.6" y="519.3" width="14.9" height="26.0" fill="#5a55a5"/>
<rect x="1035.6" y="493.8" width="14.9" height="26.0" fill="#5758a6"/>
<rect x="1035.6" y="442.9" width="14.9" height="51.5" fill="#5c52a3"/>
<rect x="1049.9" y="519.3" width="14.9" height="26.0" fill="#3682ba"/>
<rect x="1049.9" y="493.8" width="14.9" height="26.0" fill="#3485bc"/>
<rect x="1049.9" y="442.9" width="14.9" height="51.5" fill="#397fb9"/>
<rect x="1064.2" y="519.3" width="14.9" height="26.0" fill="#5758a6"/>
<rect x="1064.2" y="493.8" width="14.9" height="26.0" fill="#5160aa"/>
<rect x="1064.2" y="468.4" width="14.9" height="26.0" fill="#5758a6"/>
<rect x="1064.2" y="442.9" width="14.9" height="26.0" fill="#4f63ab"/>
<rect x="1078.5" y="519.3" width="14.9" height="26.0" fill="#535da9"/>
<rect x="1078.5" y="493.8" width="14.9" height="26.0" fill="#4a69ae"/>
<rect x="1078.5" y="468.4" width="14.9" height="26.0" fill="#535da9"/>
<rect x="1078.5" y="442.9" width="14.9" height="26.0" fill="#4471b2"/>
<rect x="1092.8" y="519.3" width="14.9" height="26.0" fill="#4f63ab"/>
<rect x="1092.8" y="493.8" width="14.9" height="26.0" fill="#4a69ae"/>
<rect x="1092.8" y="468.4" width="14.9" height="26.0" fill="#5160aa"/>
<rect x="1092.8" y="442.9" width="14.9" height="26.0" fill="#4f63ab"/>
<rect x="1107.1" y="519.3" width="14.9" height="26.0" fill="#4471b2"/>
<rect x="1107.1" y="493.8" width="14.9" height="26.0" fill="#3b7db8"/>
<rect x="1107.1" y="468.4" width="14.9" height="26.0" fill="#466eb1"/>
<rect x="1107.1" y="442.9" width="14.9" height="26.0" fill="#4174b4"/>
<rect x="1121.3" y="493.8" width="14.9" height="51.5" fill="#4a69ae"/>
<rect x="1121.3" y="468.4" width="14.9" height="26.0" fill="#4c66ad"/>
<rect x="1121.3" y="442.9" width="14.9" height="26.0" fill="#4a69ae"/>
<rect x="1135.6" y="442.9" width="14.9" height="102.4" fill="#5c52a3"/>
<rect x="1149.9" y="442.9" width="14.9" height="102.4" fill="#5c52a3"/>
<rect x="1164.2" y="493.8" width="14.9" height="51.5" fill="#5758a6"/>
<rect x="1164.2" y="468.4" width="14.9" height="26.0" fill="#5a55a5"/>
<rect x="1164.2" y="442.9" width="14.9" height="26.0" fill="#5c52a3"/>
<rect x="1178.5" y="493.8" width="14.9" height="51.5" fill="#555aa7"/>
<rect x="1178.5" y="468.4" width="14.9" height="26.0" fill="#5a55a5"/>
<rect x="1178.5" y="442.9" width="14.9" height="26.0" fill="#5c52a3"/>
<rect x="1192.8" y="519.3" width="14.9" height="26.0" fill="#535da9"/>
<rect x="1192.8" y="493.8" width="14.9" height="26.0" fill="#555aa7"/>
<rect x="1192.8" y="468.4" width="14.9" height="26.0" fill="#5a55a5"/>
<rect x="1192.8" y="442.9" width="14.9" height="26.0" fill="#5758a6"/>
<rect x="1207.1" y="493.8" width="14.9" height="51.5" fill="#5160aa"/>
<rect x="1207.1" y="468.4" width="14.9" height="26.0" fill="#555aa7"/>
<rect x="1207.1" y="442.9" width="14.9" height="26.0" fill="#535da9"/>
<rect x="1221.3" y="519.3" width="14.9" height="26.0" fill="#4174b4"/>
<rect x="1221.3" y="493.8" width="14.9" height="26.0" fill="#3f77b5"/>
<rect x="1221.3" y="468.4" width="14.9" height="26.0" fill="#486cb0"/>
<rect x="1221.3" y="442.9" width="14.9" height="26.0" fill="#4174b4"/>
<rect x="1235.6" y="442.9" width="14.9" height="102.4" fill="#5c52a3"/>
<rect x="1249.9" y="519.3" width="14.9" height="26.0" fill="#466eb1"/>
<rect x="1249.9" y="493.8" width="14.9" height="26.0" fill="#4174b4"/>
<rect x="1249.9" y="468.4" width="14.9" height="26.0" fill="#4a69ae"/>
<rect x="1249.9" y="442.9" width="14.9" height="26.0" fill="#3d7ab6"/>
<rect x="64.2" y="635.5" width="14.9" height="26.0" fill="#486cb0"/>
<rect x="64.2" y="610.0" width="14.9" height="26.0" fill="#4471b2"/>
<rect x="64.2" y="584.5" width="14.9" height="26.0" fill="#486cb0"/>
<rect x="64.2" y="559.0" width="14.9" height="26.0" fill="#466eb1"/>
<rect x="78.5" y="635.5" width="14.9" height="26.0" fill="#5a55a5"/>
<rect x="78.5" y="610.0" width="14.9" height="26.0" fill="#535da9"/>
<rect x="78.5" y="559.0" width="14.9" height="51.5" fill="#5c52a3"/>
<rect x="92.8" y="559.0" width="14.9" height="102.4" fill="#5c52a3"/>
<rect x="107.1" y="559.0" width="14.9" height="102.4" fill="#5c52a3"/>
<rect x="121.3" y="559.0" width="14.9" height="102.4" fill="#5758a6"/>
<rect x="135.6" y="559.0" width="14.9" height="102.4" fill="#535da9"/>
<rect x="149.9" y="559.0" width="14.9" height="102.4" fill="#4a69ae"/>
<rect x="164.2" y="635.5" width="14.9" height="26.0" fill="#3d7ab6"/>
<rect x="164.2" y="610.0" width="14.9" height="26.0" fill="#3b7db8"/>
<rect x="164.2" y="559.0" width="14.9" height="51.5" fill="#3d7ab6"/>
<rect x="178.5" y="635.5" width="14.9" height="26.0" fill="#3b7db8"/>
<rect x="178.5" y="610.0" width="14.9" height="26.0" fill="#397fb9"/>
<rect x="178.5" y="584.5" width="14.9" height="26.0" fill="#3d7ab6"/>
<rect x="178.5" y="559.0" width="14.9" height="26.0" fill="#3f77b5"/>
<rect x="192.8" y="635.5" width="14.9" height="26.0" fill="#5758a6"/>
<rect x="192.8" y="610.0" width="14.9" height="26.0" fill="#555aa7"/>
<rect x="192.8" y="559.0" width="14.9" height="51.5" fill="#5758a6"/>
<rect x="207.1" y="635.5" width="14.9" height="26.0" fill="#486cb0"/>
<rect x="207.1" y="610.0" width="14.9" height="26.0" fill="#4174b4"/>
<rect x="207.1" y="584.5" width="14.9" height="26.0" fill="#4a69ae"/>
<rect x="207.1" y="559.0" width="14.9" height="26.0" fill="#466eb1"/>
<rect x="221.3" y="635.5" width="14.9" height="26.0" fill="#466eb1"/>
<rect x="221.3" y="610.0" width="14.9" height="26.0" fill="#3f77b5"/>
<rect x="221.3" y="584.5" width="14.9" height="26.0" fill="#466eb1"/>
<rect x="221.3" y="559.0" width="14.9" height="26.0" fill="#4471b2"/>
<rect x="235.6" y="559.0" width="14.9" height="102.4" fill="#486cb0"/>
<rect x="249.9" y="559.0" width="14.9" height="102.4" fill="#5c52a3"/>
<rect x="264.2" y="559.0" width="14.9" height="102.4" fill="#5c52a3"/>
<rect x="278.5" y="635.5" width="14.9" height="26.0" fill="#555aa7"/>
<rect x="278.5" y="610.0" width="14.9" height="26.0" fill="#5160aa"/>
<rect x="278.5" y="584.5" width="14.9" height="26.0" fill="#5a55a5"/>
<rect x="278.5" y="559.0" width="14.9" height="26.0" fill="#5c52a3"/>
<rect x="292.8" y="635.5" width="14.9" height="26.0" fill="#4f63ab"/>
<rect x="292.8" y="610.0" width="14.9" height="26.0" fill="#4a69ae"/>
<rect x="292.8" y="584.5" width="14.9" height="26.0" fill="#555aa7"/>
<rect x="292.8" y="559.0" width="14.9" height="26.0" fill="#5758a6"/>
<rect x="307.1" y="635.5" width="14.9" height="26.0" fill="#486cb0"/>
<rect x="307.1" y="610.0" width="14.9" height="26.0" fill="#4174b4"/>
<rect x="307.1" y="559.0" width="14.9" height="51.5" fill="#5160aa"/>
<rect x="321.3" y="635.5" width="14.9" height="26.0" fill="#378ebb"/>
<rect x="321.3" y="610.0" width="14.9" height="26.0" fill="#3a91b9"/>
<rect x="321.3" y="559.0" width="14.9" height="51.5" fill="#378ebb"/>
<rect x="335.6" y="635.5" width="14.9" height="26.0" fill="#49a2b2"/>
<rect x="335.6" y="610.0" width="14.9" height="26.0" fill="#4ca5b1"/>
<rect x="335.6" y="584.5" width="14.9" height="26.0" fill="#479fb3"/>
<rect x="335.6" y="559.0" width="14.9" height="26.0" fill="#449cb5"/>
<rect x="349.9" y="635.5" width="14.9" height="26.0" fill="#6dc5a5"/>
<rect x="349.9" y="610.0" width="14.9" height="26.0" fill="#74c7a5"/>
<rect x="349.9" y="584.5" width="14.9" height="26.0" fill="#61bca7"/>
<rect x="349.9" y="559.0" width="14.9" height="26.0" fill="#6dc5a5"/>
<rect x="364.2" y="635.5" width="14.9" height="26.0" fill="#66c2a5"/>
<rect x="364.2" y="610.0" width="14.9" height="26.0" fill="#6dc5a5"/>
<rect x="364.2" y="559.0" width="14.9" height="51.5" fill="#5cb6aa"/>
<rect x="378.5" y="635.5" width="14.9" height="26.0" fill="#74c7a5"/>
<rect x="378.5" y="610.0" width="14.9" height="26.0" fill="#7bcaa5"/>
<rect x="378.5" y="584.5" width="14.9" height="26.0" fill="#6dc5a5"/>
<rect x="378.5" y="559.0" width="14.9" height="26.0" fill="#74c7a5"/>
<rect x="392.8" y="635.5" width="14.9" height="26.0" fill="#358bbc"/>
<rect x="392.8" y="610.0" width="14.9" height="26.0" fill="#378ebb"/>
<rect x="392.8" y="559.0" width="14.9" height="51.5" fill="#3288bd"/>
<rect x="407.1" y="635.5" width="14.9" height="26.0" fill="#3c94b8"/>
<rect x="407.1" y="610.0" width="14.9" height="26.0" fill="#4299b6"/>
<rect x="407.1" y="584.5" width="14.9" height="26.0" fill="#378ebb"/>
<rect x="407.1" y="559.0" width="14.9" height="26.0" fill="#3c94b8"/>
<rect x="421.3" y="610.0" width="14.9" height="51.5" fill="#4f63ab"/>
<rect x="421.3" y="584.5" width="14.9" height="26.0" fill="#5160aa"/>
<rect x="421.3" y="559.0" width="14.9" height="26.0" fill="#4f63ab"/>
<rect x="435.6" y="635.5" width="14.9" height="26.0" fill="#486cb0"/>
<rect x="435.6" y="610.0" width="14.9" height="26.0" fill="#466eb1"/>
<rect x="435.6" y="559.0" width="14.9" height="51.5" fill="#486cb0"/>
<rect x="449.9" y="610.0" width="14.9" height="51.5" fill="#3682ba"/>
<rect x="449.9" y="584.5" width="14.9" height="26.0" fill="#397fb9"/>
<rect x="449.9" y="559.0" width="14.9" height="26.0" fill="#3682ba"/>
<rect x="464.2" y="610.0" width="14.9" height="51.5" fill="#56b1ac"/>
<rect x="464.2" y="559.0" width="14.9" height="51.5" fill="#51abaf"/>
<rect x="478.5" y="610.0" width="14.9" height="51.5" fill="#555aa7"/>
<rect x="478.5" y="559.0" width="14.9" height="51.5" fill="#5758a6"/>
<rect x="492.8" y="610.0" width="14.9" height="51.5" fill="#3f77b5"/>
<rect x="492.8" y="559.0" width="14.9" height="51.5" fill="#4471b2"/>
<rect x="507.1" y="610.0" width="14.9" height="51.5" fill="#466eb1"/>
<rect x="507.1" y="584.5" width="14.9" height="26.0" fill="#486cb0"/>
<rect x="507.1" y="559.0" width="14.9" height="26.0" fill="#466eb1"/>
<rect x="521.3" y="635.5" width="14.9" height="26.0" fill="#3d7ab6"/>
<rect x="521.3" y="610.0" width="14.9" height="26.0" fill="#3b7db8"/>
<rect x="521.3" y="559.0" width="14.9" height="51.5" fill="#3f77b5"/>
<rect x="535.6" y="635.5" width="14.9" height="26.0" fill="#3288bd"/>
<rect x="535.6" y="610.0" width="14.9" height="26.0" fill="#3c94b8"/>
<rect x="535.6" y="584.5" width="14.9" height="26.0" fill="#3288bd"/>
<rect x="535.6" y="559.0" width="14.9" height="26.0" fill="#378ebb"/>
<rect x="549.9" y="635.5" width="14.9" height="26.0" fill="#3b7db8"/>
<rect x="549.9" y="610.0" width="14.9" height="26.0" fill="#397fb9"/>
<rect x="549.9" y="584.5" width="14.9" height="26.0" fill="#3d7ab6"/>
<rect x="549.9" y="559.0" width="14.9" height="26.0" fill="#397fb9"/>
<rect x="564.2" y="610.0" width="14.9" height="51.5" fill="#3f77b5"/>
<rect x="564.2" y="584.5" width="14.9" height="26.0" fill="#4471b2"/>
<rect x="564.2" y="559.0" width="14.9" height="26.0" fill="#4174b4"/>
<rect x="578.5" y="559.0" width="14.9" height="102.4" fill="#5c52a3"/>
<rect x="592.8" y="559.0" width="14.9" height="102.4" fill="#5c52a3"/>
<rect x="607.1" y="610.0" width="14.9" height="51.5" fill="#5c52a3"/>
<rect x="607.1" y="559.0" width="14.9" height="51.5" fill="#5758a6"/>
<rect x="621.3" y="559.0" width="14.9" height="102.4" fill="#486cb0"/>
<rect x="635.6" y="559.0" width="14.9" height="102.4" fill="#3485bc"/>
<rect x="649.9" y="610.0" width="14.9" height="51.5" fill="#6dc5a5"/>
<rect x="649.9" y="559.0" width="14.9" height="51.5" fill="#66c2a5"/>
<rect x="664.2" y="610.0" width="14.9" height="51.5" fill="#56b1ac"/>
<rect x="664.2" y="559.0" width="14.9" height="51.5" fill="#51abaf"/>
<rect x="678.5" y="559.0" width="14.9" height="102.4" fill="#7bcaa5"/>
<rect x="692.8" y="610.0" width="14.9" height="51.5" fill="#4ca5b1"/>
<rect x="692.8" y="559.0" width="14.9" height="51.5" fill="#479fb3"/>
<rect x="707.1" y="610.0" width="14.9" height="51.5" fill="#3b7db8"/>
<rect x="707.1" y="584.5" width="14.9" height="26.0" fill="#3d7ab6"/>
<rect x="707.1" y="559.0" width="14.9" height="26.0" fill="#3b7db8"/>
<rect x="721.3" y="610.0" width="14.9" height="51.5" fill="#3d7ab6"/>
<rect x="721.3" y="584.5" width="14.9" height="26.0" fill="#3f77b5"/>
<rect x="721.3" y="559.0" width="14.9" height="26.0" fill="#3b7db8"/>
<rect x="735.6" y="635.5" width="14.9" height="26.0" fill="#3f77b5"/>
<rect x="735.6" y="610.0" width="14.9" height="26.0" fill="#3d7ab6"/>
<rect x="735.6" y="584.5" width="14.9" height="26.0" fill="#3f77b5"/>
<rect x="735.6" y="559.0" width="14.9" height="26.0" fill="#397fb9"/>
<rect x="978.8" y="300.0" width="14.3" height="4.2" fill="#fff"/>
<rect x="1035.9" y="300.0" width="14.3" height="4.2" fill="#fff"/>
<rect x="1064.5" y="304.3" width="14.3" height="4.2" fill="#fff"/>
<rect x="1078.8" y="266.1" width="14.3" height="4.2" fill="#fff"/>
<rect x="1093.1" y="266.1" width="14.3" height="4.2" fill="#fff"/>
</g>
<rect x="64.50" y="80.50" width="171.43" height="14.20" fill="#fff"/>
<rect x="235.93" y="80.50" width="171.43" height="14.20" fill="#fff"/>
<rect x="407.36" y="80.50" width="171.43" height="14.20" fill="#fff"/>
<rect x="578.79" y="80.50" width="171.43" height="14.20" fill="#fff"/>
<rect x="750.21" y="80.50" width="171.43" height="14.20" fill="#fff"/>
<rect x="921.64" y="80.50" width="171.43" height="14.20" fill="#fff"/>
<rect x="1093.07" y="80.50" width="171.43" height="14.20" fill="#fff"/>
<rect x="64.50" y="196.64" width="171.43" height="14.20" fill="#fff"/>
<rect x="235.93" y="196.64" width="171.43" height="14.20" fill="#fff"/>
<rect x="407.36" y="196.64" width="171.43" height="14.20" fill="#fff"/>
<rect x="578.79" y="196.64" width="171.43" height="14.20" fill="#fff"/>
<rect x="750.21" y="196.64" width="171.43" height="14.20" fill="#fff"/>
<rect x="921.64" y="196.64" width="171.43" height="14.20" fill="#fff"/>
<rect x="1093.07" y="196.64" width="171.43" height="14.20" fill="#fff"/>
<rect x="64.50" y="312.78" width="171.43" height="14.20" fill="#fff"/>
<rect x="235.93" y="312.78" width="171.43" height="14.20" fill="#fff"/>
<rect x="407.36" y="312.78" width="171.43" height="14.20" fill="#fff"/>
<rect x="578.79" y="312.78" width="171.43" height="14.20" fill="#fff"/>
<rect x="750.21" y="312.78" width="171.43" height="14.20" fill="#fff"/>
<rect x="921.64" y="312.78" width="171.43" height="14.20" fill="#fff"/>
<rect x="1093.07" y="312.78" width="171.43" height="14.20" fill="#fff"/>
<rect x="64.50" y="428.92" width="171.43" height="14.20" fill="#fff"/>
<rect x="235.93" y="428.92" width="171.43" height="14.20" fill="#fff"/>
<rect x="407.36" y="428.92" width="171.43" height="14.20" fill="#fff"/>
<rect x="578.79" y="428.92" width="171.43" height="14.20" fill="#fff"/>
<rect x="750.21" y="428.92" width="171.43" height="14.20" fill="#fff"/>
<rect x="921.64" y="428.92" width="171.43" height="14.20" fill="#fff"/>
<rect x="1093.07" y="428.92" width="171.43" height="14.20" fill="#fff"/>
<rect x="64.50" y="545.06" width="171.43" height="14.20" fill="#fff"/>
<rect x="235.93" y="545.06" width="171.43" height="14.20" fill="#fff"/>
<rect x="407.36" y="545.06" width="171.43" height="14.20" fill="#fff"/>
<rect x="578.79" y="545.06" width="171.43" height="14.20" fill="#fff"/>
<rect x="64.50" y="80.50" width="171.43" height="116.14" fill="none" stroke="#000" stroke-width="1"/>
<line x1="64.50" y1="94.70" x2="235.93" y2="94.70" stroke="#000" stroke-width="1"/>
<rect x="235.93" y="80.50" width="171.43" height="116.14" fill="none" stroke="#000" stroke-width="1"/>
<line x1="235.93" y1="94.70" x2="407.36" y2="94.70" stroke="#000" stroke-width="1"/>
<rect x="407.36" y="80.50" width="171.43" height="116.14" fill="none" stroke="#000" stroke-width="1"/>
<line x1="407.36" y1="94.70" x2="578.79" y2="94.70" stroke="#000" stroke-width="1"/>
<rect x="578.79" y="80.50" width="171.43" height="116.14" fill="none" stroke="#000" stroke-width="1"/>
<line x1="578.79" y1="94.70" x2="750.21" y2="94.70" stroke="#000" stroke-width="1"/>
<rect x="750.21" y="80.50" width="171.43" height="116.14" fill="none" stroke="#000" stroke-width="1"/>
<line x1="750.21" y1="94.70" x2="921.64" y2="94.70" stroke="#000" stroke-width="1"/>
<rect x="921.64" y="80.50" width="171.43" height="116.14" fill="none" stroke="#000" stroke-width="1"/>
<line x1="921.64" y1="94.70" x2="1093.07" y2="94.70" stroke="#000" stroke-width="1"/>
<rect x="1093.07" y="80.50" width="171.43" height="116.14" fill="none" stroke="#000" stroke-width="1"/>
<line x1="1093.07" y1="94.70" x2="1264.50" y2="94.70" stroke="#000" stroke-width="1"/>
<rect x="64.50" y="196.64" width="171.43" height="116.14" fill="none" stroke="#000" stroke-width="1"/>
<line x1="64.50" y1="210.84" x2="235.93" y2="210.84" stroke="#000" stroke-width="1"/>
<rect x="235.93" y="196.64" width="171.43" height="116.14" fill="none" stroke="#000" stroke-width="1"/>
<line x1="235.93" y1="210.84" x2="407.36" y2="210.84" stroke="#000" stroke-width="1"/>
<rect x="407.36" y="196.64" width="171.43" height="116.14" fill="none" stroke="#000" stroke-width="1"/>
<line x1="407.36" y1="210.84" x2="578.79" y2="210.84" stroke="#000" stroke-width="1"/>
<rect x="578.79" y="196.64" width="171.43" height="116.14" fill="none" stroke="#000" stroke-width="1"/>
<line x1="578.79" y1="210.84" x2="750.21" y2="210.84" stroke="#000" stroke-width="1"/>
<rect x="750.21" y="196.64" width="171.43" height="116.14" fill="none" stroke="#000" stroke-width="1"/>
<line x1="750.21" y1="210.84" x2="921.64" y2="210.84" stroke="#000" stroke-width="1"/>
<rect x="921.64" y="196.64" width="171.43" height="116.14" fill="none" stroke="#000" stroke-width="1"/>
<line x1="921.64" y1="210.84" x2="1093.07" y2="210.84" stroke="#000" stroke-width="1"/>
<rect x="1093.07" y="196.64" width="171.43" height="116.14" fill="none" stroke="#000" stroke-width="1"/>
<line x1="1093.07" y1="210.84" x2="1264.50" y2="210.84" stroke="#000" stroke-width="1"/>
<rect x="64.50" y="312.78" width="171.43" height="116.14" fill="none" stroke="#000" stroke-width="1"/>
<line x1="64.50" y1="326.98" x2="235.93" y2="326.98" stroke="#000" stroke-width="1"/>
<rect x="235.93" y="312.78" width="171.43" height="116.14" fill="none" stroke="#000" stroke-width="1"/>
<line x1="235.93" y1="326.98" x2="407.36" y2="326.98" stroke="#000" stroke-width="1"/>
<rect x="407.36" y="312.78" width="171.43" height="116.14" fill="none" stroke="#000" stroke-width="1"/>
<line x1="407.36" y1="326.98" x2="578.79" y2="326.98" stroke="#000" stroke-width="1"/>
<rect x="578.79" y="312.78" width="171.43" height="116.14" fill="none" stroke="#000" stroke-width="1"/>
<line x1="578.79" y1="326.98" x2="750.21" y2="326.98" stroke="#000" stroke-width="1"/>
<rect x="750.21" y="312.78" width="171.43" height="116.14" fill="none" stroke="#000" stroke-width="1"/>
<line x1="750.21" y1="326.98" x2="921.64" y2="326.98" stroke="#000" stroke-width="1"/>
<rect x="921.64" y="312.78" width="171.43" height="116.14" fill="none" stroke="#000" stroke-width="1"/>
<line x1="921.64" y1="326.98" x2="1093.07" y2="326.98" stroke="#000" stroke-width="1"/>
<rect x="1093.07" y="312.78" width="171.43" height="116.14" fill="none" stroke="#000" stroke-width="1"/>
<line x1="1093.07" y1="326.98" x2="1264.50" y2="326.98" stroke="#000" stroke-width="1"/>
<rect x="64.50" y="428.92" width="171.43" height="116.14" fill="none" stroke="#000" stroke-width="1"/>
<line x1="64.50" y1="443.12" x2="235.93" y2="443.12" stroke="#000" stroke-width="1"/>
<rect x="235.93" y="428.92" width="171.43" height="116.14" fill="none" stroke="#000" stroke-width="1"/>
<line x1="235.93" y1="443.12" x2="407.36" y2="443.12" stroke="#000" stroke-width="1"/>
<rect x="407.36" y="428.92" width="171.43" height="116.14" fill="none" stroke="#000" stroke-width="1"/>
<line x1="407.36" y1="443.12" x2="578.79" y2="443.12" stroke="#000" stroke-width="1"/>
<rect x="578.79" y="428.92" width="171.43" height="116.14" fill="none" stroke="#000" stroke-width="1"/>
<line x1="578.79" y1="443.12" x2="750.21" y2="443.12" stroke="#000" stroke-width="1"/>
<rect x="750.21" y="428.92" width="171.43" height="116.14" fill="none" stroke="#000" stroke-width="1"/>
<line x1="750.21" y1="443.12" x2="921.64" y2="443.12" stroke="#000" stroke-width="1"/>
<rect x="921.64" y="428.92" width="171.43" height="116.14" fill="none" stroke="#000" stroke-width="1"/>
<line x1="921.64" y1="443.12" x2="1093.07" y2="443.12" stroke="#000" stroke-width="1"/>
<rect x="1093.07" y="428.92" width="171.43" height="116.14" fill="none" stroke="#000" stroke-width="1"/>
<line x1="1093.07" y1="443.12" x2="1264.50" y2="443.12" stroke="#000" stroke-width="1"/>
<rect x="64.50" y="545.06" width="171.43" height="116.14" fill="none" stroke="#000" stroke-width="1"/>
<line x1="64.50" y1="559.26" x2="235.93" y2="559.26" stroke="#000" stroke-width="1"/>
<rect x="235.93" y="545.06" width="171.43" height="116.14" fill="none" stroke="#000" stroke-width="1"/>
<line x1="235.93" y1="559.26" x2="407.36" y2="559.26" stroke="#000" stroke-width="1"/>
<rect x="407.36" y="545.06" width="171.43" height="116.14" fill="none" stroke="#000" stroke-width="1"/>
<line x1="407.36" y1="559.26" x2="578.79" y2="559.26" stroke="#000" stroke-width="1"/>
<rect x="578.79" y="545.06" width="171.43" height="116.14" fill="none" stroke="#000" stroke-width="1"/>
<line x1="578.79" y1="559.26" x2="750.21" y2="559.26" stroke="#000" stroke-width="1"/>
<text x="148.61" y="92.70" text-anchor="middle" font-size="10" letter-spacing="0.3" fill="#000">1992</text>
<text x="320.04" y="92.70" text-anchor="middle" font-size="10" letter-spacing="0.3" fill="#000">1993</text>
<text x="491.47" y="92.70" text-anchor="middle" font-size="10" letter-spacing="0.3" fill="#000">1994</text>
<text x="662.90" y="92.70" text-anchor="middle" font-size="10" letter-spacing="0.3" fill="#000">1995</text>
<text x="834.33" y="92.70" text-anchor="middle" font-size="10" letter-spacing="0.3" fill="#000">1996</text>
<text x="1005.76" y="92.70" text-anchor="middle" font-size="10" letter-spacing="0.3" fill="#000">1997</text>
<text x="1177.19" y="92.70" text-anchor="middle" font-size="10" letter-spacing="0.3" fill="#000">1998</text>
<text x="148.61" y="208.84" text-anchor="middle" font-size="10" letter-spacing="0.3" fill="#000">1999</text>
<text x="320.04" y="208.84" text-anchor="middle" font-size="10" letter-spacing="0.3" fill="#000">2000</text>
<text x="491.47" y="208.84" text-anchor="middle" font-size="10" letter-spacing="0.3" fill="#000">2001</text>
<text x="662.90" y="208.84" text-anchor="middle" font-size="10" letter-spacing="0.3" fill="#000">2002</text>
<text x="834.33" y="208.84" text-anchor="middle" font-size="10" letter-spacing="0.3" fill="#000">2003</text>
<text x="1005.76" y="208.84" text-anchor="middle" font-size="10" letter-spacing="0.3" fill="#000">2004</text>
<text x="1177.19" y="208.84" text-anchor="middle" font-size="10" letter-spacing="0.3" fill="#000">2005</text>
<text x="148.61" y="324.98" text-anchor="middle" font-size="10" letter-spacing="0.3" fill="#000">2006</text>
<text x="320.04" y="324.98" text-anchor="middle" font-size="10" letter-spacing="0.3" fill="#000">2007</text>
<text x="491.47" y="324.98" text-anchor="middle" font-size="10" letter-spacing="0.3" fill="#000">2008</text>
<text x="662.90" y="324.98" text-anchor="middle" font-size="10" letter-spacing="0.3" fill="#000">2009</text>
<text x="834.33" y="324.98" text-anchor="middle" font-size="10" letter-spacing="0.3" fill="#000">2010</text>
<text x="1005.76" y="324.98" text-anchor="middle" font-size="10" letter-spacing="0.3" fill="#000">2011</text>
<text x="1177.19" y="324.98" text-anchor="middle" font-size="10" letter-spacing="0.3" fill="#000">2012</text>
<text x="148.61" y="441.12" text-anchor="middle" font-size="10" letter-spacing="0.3" fill="#000">2013</text>
<text x="320.04" y="441.12" text-anchor="middle" font-size="10" letter-spacing="0.3" fill="#000">2014</text>
<text x="491.47" y="441.12" text-anchor="middle" font-size="10" letter-spacing="0.3" fill="#000">2015</text>
<text x="662.90" y="441.12" text-anchor="middle" font-size="10" letter-spacing="0.3" fill="#000">2016</text>
<text x="834.33" y="441.12" text-anchor="middle" font-size="10" letter-spacing="0.3" fill="#000">2017</text>
<text x="1005.76" y="441.12" text-anchor="middle" font-size="10" letter-spacing="0.3" fill="#000">2018</text>
<text x="1177.19" y="441.12" text-anchor="middle" font-size="10" letter-spacing="0.3" fill="#000">2019</text>
<text x="148.61" y="557.26" text-anchor="middle" font-size="10" letter-spacing="0.3" fill="#000">2020</text>
<text x="320.04" y="557.26" text-anchor="middle" font-size="10" letter-spacing="0.3" fill="#000">2021</text>
<text x="491.47" y="557.26" text-anchor="middle" font-size="10" letter-spacing="0.3" fill="#000">2022</text>
<text x="662.90" y="557.26" text-anchor="middle" font-size="10" letter-spacing="0.3" fill="#000">2023</text>
<path d="M85.93 74.00V80.50 M114.50 74.00V80.50 M143.07 74.00V80.50 M171.64 74.00V80.50 M200.21 74.00V80.50 M228.79 74.00V80.50 M257.36 74.00V80.50 M285.93 74.00V80.50 M314.50 74.00V80.50 M343.07 74.00V80.50 M371.64 74.00V80.50 M400.21 74.00V80.50 M428.79 74.00V80.50 M457.36 74.00V80.50 M485.93 74.00V80.50 M514.50 74.00V80.50 M543.07 74.00V80.50 M571.64 74.00V80.50 M600.21 74.00V80.50 M628.79 74.00V80.50 M657.36 74.00V80.50 M685.93 74.00V80.50 M714.50 74.00V80.50 M743.07 74.00V80.50 M771.64 74.00V80.50 M800.21 74.00V80.50 M828.79 74.00V80.50 M857.36 74.00V80.50 M885.93 74.00V80.50 M914.50 74.00V80.50 M943.07 74.00V80.50 M971.64 74.00V80.50 M1000.21 74.00V80.50 M1028.79 74.00V80.50 M1057.36 74.00V80.50 M1085.93 74.00V80.50 M1114.50 74.00V80.50 M1143.07 74.00V80.50 M1171.64 74.00V80.50 M1200.21 74.00V80.50 M1228.79 74.00V80.50 M1257.36 74.00V80.50 M85.93 661.20V667.70 M114.50 661.20V667.70 M143.07 661.20V667.70 M171.64 661.20V667.70 M200.21 661.20V667.70 M228.79 661.20V667.70 M257.36 661.20V667.70 M285.93 661.20V667.70 M314.50 661.20V667.70 M343.07 661.20V667.70 M371.64 661.20V667.70 M400.21 661.20V667.70 M428.79 661.20V667.70 M457.36 661.20V667.70 M485.93 661.20V667.70 M514.50 661.20V667.70 M543.07 661.20V667.70 M571.64 661.20V667.70 M600.21 661.20V667.70 M628.79 661.20V667.70 M657.36 661.20V667.70 M685.93 661.20V667.70 M714.50 661.20V667.70 M743.07 661.20V667.70 M1264.50 177.53H1271.50 M1264.50 156.29H1271.50 M1264.50 135.05H1271.50 M1264.50 113.81H1271.50 M58.50 177.53H64.50 M58.50 156.29H64.50 M58.50 135.05H64.50 M58.50 113.81H64.50 M1264.50 293.67H1271.50 M1264.50 272.43H1271.50 M1264.50 251.19H1271.50 M1264.50 229.95H1271.50 M58.50 293.67H64.50 M58.50 272.43H64.50 M58.50 251.19H64.50 M58.50 229.95H64.50 M1264.50 409.81H1271.50 M1264.50 388.57H1271.50 M1264.50 367.33H1271.50 M1264.50 346.09H1271.50 M58.50 409.81H64.50 M58.50 388.57H64.50 M58.50 367.33H64.50 M58.50 346.09H64.50 M1264.50 525.95H1271.50 M1264.50 504.71H1271.50 M1264.50 483.47H1271.50 M1264.50 462.23H1271.50 M58.50 525.95H64.50 M58.50 504.71H64.50 M58.50 483.47H64.50 M58.50 462.23H64.50 M750.21 642.09H757.21 M750.21 620.85H757.21 M750.21 599.61H757.21 M750.21 578.37H757.21 M58.50 642.09H64.50 M58.50 620.85H64.50 M58.50 599.61H64.50 M58.50 578.37H64.50" stroke="#000" stroke-width="1" fill="none"/>
<text x="51" y="110.80" text-anchor="end" font-size="10.5" fill="#000">21</text>
<text x="51" y="123.51" text-anchor="end" font-size="10.5" fill="#000">18</text>
<text x="51" y="136.22" text-anchor="end" font-size="10.5" fill="#000">15</text>
<text x="51" y="148.93" text-anchor="end" font-size="10.5" fill="#000">12</text>
<text x="51" y="161.64" text-anchor="end" font-size="10.5" fill="#000">09</text>
<text x="51" y="174.35" text-anchor="end" font-size="10.5" fill="#000">06</text>
<text x="51" y="187.06" text-anchor="end" font-size="10.5" fill="#000">03</text>
<text x="51" y="199.77" text-anchor="end" font-size="10.5" fill="#000">00</text>
<text x="1278" y="226.94" text-anchor="start" font-size="10.5" fill="#000">21</text>
<text x="1278" y="239.65" text-anchor="start" font-size="10.5" fill="#000">18</text>
<text x="1278" y="252.36" text-anchor="start" font-size="10.5" fill="#000">15</text>
<text x="1278" y="265.07" text-anchor="start" font-size="10.5" fill="#000">12</text>
<text x="1278" y="277.78" text-anchor="start" font-size="10.5" fill="#000">09</text>
<text x="1278" y="290.49" text-anchor="start" font-size="10.5" fill="#000">06</text>
<text x="1278" y="303.20" text-anchor="start" font-size="10.5" fill="#000">03</text>
<text x="1278" y="315.91" text-anchor="start" font-size="10.5" fill="#000">00</text>
<text x="51" y="343.08" text-anchor="end" font-size="10.5" fill="#000">21</text>
<text x="51" y="355.79" text-anchor="end" font-size="10.5" fill="#000">18</text>
<text x="51" y="368.50" text-anchor="end" font-size="10.5" fill="#000">15</text>
<text x="51" y="381.21" text-anchor="end" font-size="10.5" fill="#000">12</text>
<text x="51" y="393.92" text-anchor="end" font-size="10.5" fill="#000">09</text>
<text x="51" y="406.63" text-anchor="end" font-size="10.5" fill="#000">06</text>
<text x="51" y="419.34" text-anchor="end" font-size="10.5" fill="#000">03</text>
<text x="51" y="432.05" text-anchor="end" font-size="10.5" fill="#000">00</text>
<text x="1278" y="459.22" text-anchor="start" font-size="10.5" fill="#000">21</text>
<text x="1278" y="471.93" text-anchor="start" font-size="10.5" fill="#000">18</text>
<text x="1278" y="484.64" text-anchor="start" font-size="10.5" fill="#000">15</text>
<text x="1278" y="497.35" text-anchor="start" font-size="10.5" fill="#000">12</text>
<text x="1278" y="510.06" text-anchor="start" font-size="10.5" fill="#000">09</text>
<text x="1278" y="522.77" text-anchor="start" font-size="10.5" fill="#000">06</text>
<text x="1278" y="535.48" text-anchor="start" font-size="10.5" fill="#000">03</text>
<text x="1278" y="548.19" text-anchor="start" font-size="10.5" fill="#000">00</text>
<text x="51" y="575.36" text-anchor="end" font-size="10.5" fill="#000">21</text>
<text x="51" y="588.07" text-anchor="end" font-size="10.5" fill="#000">18</text>
<text x="51" y="600.78" text-anchor="end" font-size="10.5" fill="#000">15</text>
<text x="51" y="613.49" text-anchor="end" font-size="10.5" fill="#000">12</text>
<text x="51" y="626.20" text-anchor="end" font-size="10.5" fill="#000">09</text>
<text x="51" y="638.91" text-anchor="end" font-size="10.5" fill="#000">06</text>
<text x="51" y="651.62" text-anchor="end" font-size="10.5" fill="#000">03</text>
<text x="51" y="664.33" text-anchor="end" font-size="10.5" fill="#000">00</text>
<text transform="translate(248.07,67.2) rotate(-90)" text-anchor="start" font-size="10.5" letter-spacing="0.6" fill="#000">ene.</text>
<text transform="translate(262.36,67.2) rotate(-90)" text-anchor="start" font-size="10.5" letter-spacing="0.6" fill="#000">feb.</text>
<text transform="translate(276.64,67.2) rotate(-90)" text-anchor="start" font-size="10.5" letter-spacing="0.6" fill="#000">mar.</text>
<text transform="translate(290.93,67.2) rotate(-90)" text-anchor="start" font-size="10.5" letter-spacing="0.6" fill="#000">abr.</text>
<text transform="translate(305.21,67.2) rotate(-90)" text-anchor="start" font-size="10.5" letter-spacing="0.6" fill="#000">may.</text>
<text transform="translate(319.50,67.2) rotate(-90)" text-anchor="start" font-size="10.5" letter-spacing="0.6" fill="#000">jun.</text>
<text transform="translate(333.79,67.2) rotate(-90)" text-anchor="start" font-size="10.5" letter-spacing="0.6" fill="#000">jul.</text>
<text transform="translate(348.07,67.2) rotate(-90)" text-anchor="start" font-size="10.5" letter-spacing="0.6" fill="#000">ago.</text>
<text transform="translate(362.36,67.2) rotate(-90)" text-anchor="start" font-size="10.5" letter-spacing="0.6" fill="#000">sep.</text>
<text transform="translate(376.64,67.2) rotate(-90)" text-anchor="start" font-size="10.5" letter-spacing="0.6" fill="#000">oct.</text>
<text transform="translate(390.93,67.2) rotate(-90)" text-anchor="start" font-size="10.5" letter-spacing="0.6" fill="#000">nov.</text>
<text transform="translate(405.21,67.2) rotate(-90)" text-anchor="start" font-size="10.5" letter-spacing="0.6" fill="#000">dic.</text>
<text transform="translate(590.93,67.2) rotate(-90)" text-anchor="start" font-size="10.5" letter-spacing="0.6" fill="#000">ene.</text>
<text transform="translate(605.21,67.2) rotate(-90)" text-anchor="start" font-size="10.5" letter-spacing="0.6" fill="#000">feb.</text>
<text transform="translate(619.50,67.2) rotate(-90)" text-anchor="start" font-size="10.5" letter-spacing="0.6" fill="#000">mar.</text>
<text transform="translate(633.79,67.2) rotate(-90)" text-anchor="start" font-size="10.5" letter-spacing="0.6" fill="#000">abr.</text>
<text transform="translate(648.07,67.2) rotate(-90)" text-anchor="start" font-size="10.5" letter-spacing="0.6" fill="#000">may.</text>
<text transform="translate(662.36,67.2) rotate(-90)" text-anchor="start" font-size="10.5" letter-spacing="0.6" fill="#000">jun.</text>
<text transform="translate(676.64,67.2) rotate(-90)" text-anchor="start" font-size="10.5" letter-spacing="0.6" fill="#000">jul.</text>
<text transform="translate(690.93,67.2) rotate(-90)" text-anchor="start" font-size="10.5" letter-spacing="0.6" fill="#000">ago.</text>
<text transform="translate(705.21,67.2) rotate(-90)" text-anchor="start" font-size="10.5" letter-spacing="0.6" fill="#000">sep.</text>
<text transform="translate(719.50,67.2) rotate(-90)" text-anchor="start" font-size="10.5" letter-spacing="0.6" fill="#000">oct.</text>
<text transform="translate(733.79,67.2) rotate(-90)" text-anchor="start" font-size="10.5" letter-spacing="0.6" fill="#000">nov.</text>
<text transform="translate(748.07,67.2) rotate(-90)" text-anchor="start" font-size="10.5" letter-spacing="0.6" fill="#000">dic.</text>
<text transform="translate(933.79,67.2) rotate(-90)" text-anchor="start" font-size="10.5" letter-spacing="0.6" fill="#000">ene.</text>
<text transform="translate(948.07,67.2) rotate(-90)" text-anchor="start" font-size="10.5" letter-spacing="0.6" fill="#000">feb.</text>
<text transform="translate(962.36,67.2) rotate(-90)" text-anchor="start" font-size="10.5" letter-spacing="0.6" fill="#000">mar.</text>
<text transform="translate(976.64,67.2) rotate(-90)" text-anchor="start" font-size="10.5" letter-spacing="0.6" fill="#000">abr.</text>
<text transform="translate(990.93,67.2) rotate(-90)" text-anchor="start" font-size="10.5" letter-spacing="0.6" fill="#000">may.</text>
<text transform="translate(1005.21,67.2) rotate(-90)" text-anchor="start" font-size="10.5" letter-spacing="0.6" fill="#000">jun.</text>
<text transform="translate(1019.50,67.2) rotate(-90)" text-anchor="start" font-size="10.5" letter-spacing="0.6" fill="#000">jul.</text>
<text transform="translate(1033.79,67.2) rotate(-90)" text-anchor="start" font-size="10.5" letter-spacing="0.6" fill="#000">ago.</text>
<text transform="translate(1048.07,67.2) rotate(-90)" text-anchor="start" font-size="10.5" letter-spacing="0.6" fill="#000">sep.</text>
<text transform="translate(1062.36,67.2) rotate(-90)" text-anchor="start" font-size="10.5" letter-spacing="0.6" fill="#000">oct.</text>
<text transform="translate(1076.64,67.2) rotate(-90)" text-anchor="start" font-size="10.5" letter-spacing="0.6" fill="#000">nov.</text>
<text transform="translate(1090.93,67.2) rotate(-90)" text-anchor="start" font-size="10.5" letter-spacing="0.6" fill="#000">dic.</text>
<text transform="translate(76.64,674.5) rotate(-90)" text-anchor="end" font-size="10.5" letter-spacing="0.6" fill="#000">ene.</text>
<text transform="translate(90.93,674.5) rotate(-90)" text-anchor="end" font-size="10.5" letter-spacing="0.6" fill="#000">feb.</text>
<text transform="translate(105.21,674.5) rotate(-90)" text-anchor="end" font-size="10.5" letter-spacing="0.6" fill="#000">mar.</text>
<text transform="translate(119.50,674.5) rotate(-90)" text-anchor="end" font-size="10.5" letter-spacing="0.6" fill="#000">abr.</text>
<text transform="translate(133.79,674.5) rotate(-90)" text-anchor="end" font-size="10.5" letter-spacing="0.6" fill="#000">may.</text>
<text transform="translate(148.07,674.5) rotate(-90)" text-anchor="end" font-size="10.5" letter-spacing="0.6" fill="#000">jun.</text>
<text transform="translate(162.36,674.5) rotate(-90)" text-anchor="end" font-size="10.5" letter-spacing="0.6" fill="#000">jul.</text>
<text transform="translate(176.64,674.5) rotate(-90)" text-anchor="end" font-size="10.5" letter-spacing="0.6" fill="#000">ago.</text>
<text transform="translate(190.93,674.5) rotate(-90)" text-anchor="end" font-size="10.5" letter-spacing="0.6" fill="#000">sep.</text>
<text transform="translate(205.21,674.5) rotate(-90)" text-anchor="end" font-size="10.5" letter-spacing="0.6" fill="#000">oct.</text>
<text transform="translate(219.50,674.5) rotate(-90)" text-anchor="end" font-size="10.5" letter-spacing="0.6" fill="#000">nov.</text>
<text transform="translate(233.79,674.5) rotate(-90)" text-anchor="end" font-size="10.5" letter-spacing="0.6" fill="#000">dic.</text>
<text transform="translate(419.50,674.5) rotate(-90)" text-anchor="end" font-size="10.5" letter-spacing="0.6" fill="#000">ene.</text>
<text transform="translate(433.79,674.5) rotate(-90)" text-anchor="end" font-size="10.5" letter-spacing="0.6" fill="#000">feb.</text>
<text transform="translate(448.07,674.5) rotate(-90)" text-anchor="end" font-size="10.5" letter-spacing="0.6" fill="#000">mar.</text>
<text transform="translate(462.36,674.5) rotate(-90)" text-anchor="end" font-size="10.5" letter-spacing="0.6" fill="#000">abr.</text>
<text transform="translate(476.64,674.5) rotate(-90)" text-anchor="end" font-size="10.5" letter-spacing="0.6" fill="#000">may.</text>
<text transform="translate(490.93,674.5) rotate(-90)" text-anchor="end" font-size="10.5" letter-spacing="0.6" fill="#000">jun.</text>
<text transform="translate(505.21,674.5) rotate(-90)" text-anchor="end" font-size="10.5" letter-spacing="0.6" fill="#000">jul.</text>
<text transform="translate(519.50,674.5) rotate(-90)" text-anchor="end" font-size="10.5" letter-spacing="0.6" fill="#000">ago.</text>
<text transform="translate(533.79,674.5) rotate(-90)" text-anchor="end" font-size="10.5" letter-spacing="0.6" fill="#000">sep.</text>
<text transform="translate(548.07,674.5) rotate(-90)" text-anchor="end" font-size="10.5" letter-spacing="0.6" fill="#000">oct.</text>
<text transform="translate(562.36,674.5) rotate(-90)" text-anchor="end" font-size="10.5" letter-spacing="0.6" fill="#000">nov.</text>
<text transform="translate(576.64,674.5) rotate(-90)" text-anchor="end" font-size="10.5" letter-spacing="0.6" fill="#000">dic.</text>
<text x="680.6" y="21" text-anchor="middle" font-size="16" letter-spacing="0.15" fill="#000">Hydrogen Sulfide evolution in Reus</text>
<text x="661.7" y="724" text-anchor="middle" font-size="13.5" letter-spacing="0.2" fill="#000">month</text>
<text transform="translate(26,378.6) rotate(-90)" text-anchor="middle" font-size="13.5" letter-spacing="0.6" fill="#000">hour</text>
<rect x="1304.5" y="138.5" width="15" height="464.79999999999995" fill="url(#cb)" stroke="#000" stroke-width="1"/>
<text x="1329" y="563.00" font-size="10.5" fill="#000">2</text>
<text x="1329" y="476.80" font-size="10.5" fill="#000">4</text>
<text x="1329" y="390.60" font-size="10.5" fill="#000">6</text>
<text x="1329" y="304.40" font-size="10.5" fill="#000">8</text>
<text x="1329" y="218.20" font-size="10.5" fill="#000">10</text>
<path d="M1319.50 559.30H1324.00 M1319.50 473.10H1324.00 M1319.50 386.90H1324.00 M1319.50 300.70H1324.00 M1319.50 214.50H1324.00" stroke="#000" stroke-width="1"/>
<text x="1329" y="98.5" font-size="10" fill="#000">mean</text>
<text x="1329.5" y="649.7" font-size="10" fill="#000">H<tspan font-size="7" dy="3">2</tspan><tspan dy="-3">S</tspan></text>
</svg></body></html>
